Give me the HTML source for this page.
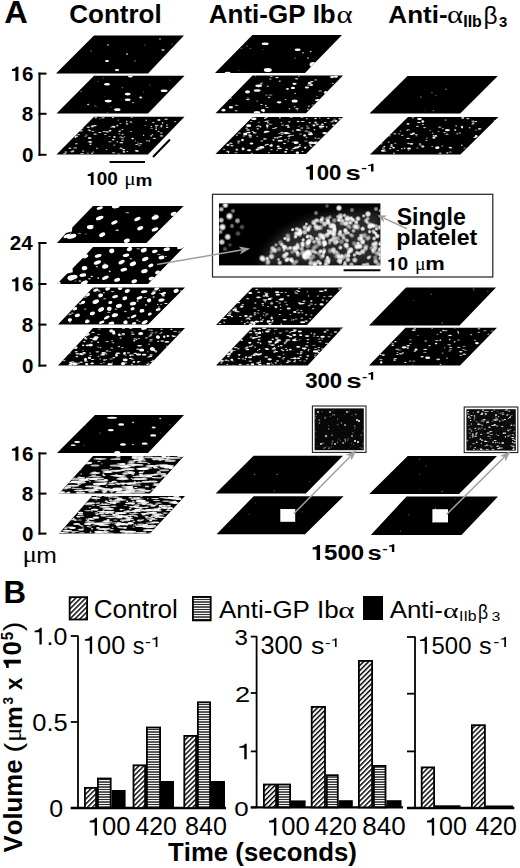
<!DOCTYPE html>
<html><head><meta charset="utf-8"><style>
html,body{margin:0;padding:0;background:#fff;}
body{width:520px;height:868px;overflow:hidden;}
svg{display:block;}
text{font-kerning:none;white-space:pre;}
</style></head><body>
<svg width="520" height="868" viewBox="0 0 520 868">
<defs><clipPath id="c1"><polygon points="94.0,35.4 184.0,35.4 148.0,73.5 56.0,73.5"/></clipPath><clipPath id="c2"><polygon points="94.0,75.8 184.5,75.8 148.0,113.6 56.5,113.6"/></clipPath><clipPath id="c3"><polygon points="94.0,116.8 184.5,116.8 148.0,154.4 56.5,154.4"/></clipPath><clipPath id="c4"><polygon points="252.4,35.0 342.0,35.0 305.0,73.0 215.0,73.0"/></clipPath><clipPath id="c5"><polygon points="252.5,75.6 343.0,75.6 306.0,113.2 215.5,113.2"/></clipPath><clipPath id="c6"><polygon points="252.5,117.0 343.0,117.0 306.0,154.0 215.5,154.0"/></clipPath><clipPath id="c7"><polygon points="407.5,76.0 497.8,76.0 460.2,113.6 369.5,113.6"/></clipPath><clipPath id="c8"><polygon points="408.0,117.0 498.4,117.0 460.4,154.4 370.0,154.4"/></clipPath><clipPath id="c9"><polygon points="93.0,206.0 183.6,206.0 146.4,243.0 57.0,243.0"/></clipPath><clipPath id="c10"><polygon points="93.0,247.0 184.0,247.0 148.0,284.0 57.0,284.0"/></clipPath><clipPath id="c11"><polygon points="93.0,287.5 185.0,287.5 148.0,324.4 58.0,324.4"/></clipPath><clipPath id="c12"><polygon points="93.0,328.0 185.0,328.0 149.0,365.6 58.0,365.6"/></clipPath><clipPath id="c13"><polygon points="252.5,287.4 342.5,287.4 307.0,325.0 216.0,325.0"/></clipPath><clipPath id="c14"><polygon points="252.4,327.6 343.0,327.6 307.7,365.5 216.0,365.5"/></clipPath><clipPath id="c15"><polygon points="406.0,287.5 496.0,287.5 459.5,325.4 369.0,325.4"/></clipPath><clipPath id="c16"><polygon points="405.5,327.8 497.0,327.8 460.0,365.4 369.0,365.4"/></clipPath><clipPath id="c17"><polygon points="95.0,415.0 184.0,415.0 148.0,453.0 57.0,453.0"/></clipPath><clipPath id="c18"><polygon points="93.0,456.0 184.0,456.0 150.0,493.5 59.0,493.5"/></clipPath><clipPath id="c19"><polygon points="92.0,496.0 185.0,496.0 150.0,533.6 59.0,533.6"/></clipPath><clipPath id="c20"><polygon points="253.6,455.8 343.0,455.8 305.8,493.6 215.6,493.6"/></clipPath><clipPath id="c21"><polygon points="253.6,496.2 343.6,496.2 305.0,534.3 216.6,534.3"/></clipPath><clipPath id="c22"><polygon points="407.7,456.0 497.0,456.0 459.0,494.0 369.3,494.0"/></clipPath><clipPath id="c23"><polygon points="406.5,496.6 498.0,496.6 461.5,535.0 370.8,535.0"/></clipPath><radialGradient id="glow"><stop offset="0" stop-color="#fff" stop-opacity="1"/><stop offset="0.45" stop-color="#fff" stop-opacity="0.85"/><stop offset="1" stop-color="#fff" stop-opacity="0"/></radialGradient><filter id="blur3" x="-20%" y="-20%" width="140%" height="140%"><feGaussianBlur stdDeviation="4"/></filter><clipPath id="ins1"><rect x="219" y="203.4" width="161.4" height="62"/></clipPath><clipPath id="ins2"><rect x="314.6" y="408.4" width="49.2" height="41.8"/><rect x="466.4" y="409.2" width="49.4" height="41.6"/></clipPath><pattern id="hatch" patternUnits="userSpaceOnUse" width="3.55" height="10" patternTransform="rotate(45)"><rect width="3.55" height="10" fill="#fff"/><rect x="0" y="0" width="1.45" height="10" fill="#000"/></pattern><pattern id="hstripe" patternUnits="userSpaceOnUse" width="10" height="5"><rect width="10" height="5" fill="#222"/><rect y="0" width="10" height="1.3" fill="#f2f2f2"/><rect y="2.75" width="10" height="1.3" fill="#f2f2f2"/></pattern></defs>
<rect width="520" height="868" fill="#fff"/>
<polygon points="94.0,35.4 184.0,35.4 148.0,73.5 56.0,73.5" fill="#000" />
<g clip-path="url(#c1)" fill="#fff"><ellipse cx="108" cy="45" rx="1" ry="0.8" fill-opacity="0.8"/><ellipse cx="127" cy="54" rx="1.2" ry="0.8" fill-opacity="0.8"/><ellipse cx="107" cy="61" rx="2" ry="0.9" fill-opacity="1"/><ellipse cx="117" cy="70" rx="2.2" ry="1" fill-opacity="1"/><ellipse cx="91" cy="51" rx="1" ry="0.7" fill-opacity="0.4"/><ellipse cx="160" cy="39" rx="1" ry="0.7" fill-opacity="0.7"/><ellipse cx="163" cy="50" rx="1.8" ry="0.8" fill-opacity="0.9"/><ellipse cx="135" cy="61" rx="1" ry="0.7" fill-opacity="0.4"/><ellipse cx="145" cy="45" rx="0.8" ry="0.6" fill-opacity="0.4"/><ellipse cx="172" cy="44" rx="0.8" ry="0.6" fill-opacity="0.5"/></g>
<polygon points="94.0,75.8 184.5,75.8 148.0,113.6 56.5,113.6" fill="#000" />
<g clip-path="url(#c2)" fill="#fff"><ellipse cx="130.3" cy="76.3" rx="2.5" ry="1.1" fill-opacity="1"/><ellipse cx="107" cy="84.2" rx="3" ry="1.3" fill-opacity="1"/><ellipse cx="164.1" cy="90.7" rx="3.5" ry="1.3" fill-opacity="1"/><ellipse cx="127.7" cy="94.1" rx="3" ry="1.3" fill-opacity="1"/><ellipse cx="127.7" cy="99.8" rx="3" ry="1.3" fill-opacity="1"/><ellipse cx="108.2" cy="101.1" rx="3.5" ry="1.3" fill-opacity="1"/><ellipse cx="140.7" cy="97.5" rx="1.5" ry="1" fill-opacity="0.9"/><ellipse cx="117.3" cy="109.7" rx="3.2" ry="1.4" fill-opacity="1"/><ellipse cx="88.2" cy="104.5" rx="1.2" ry="0.8" fill-opacity="0.8"/><ellipse cx="133" cy="102.6" rx="1" ry="0.7" fill-opacity="0.8"/><ellipse cx="81" cy="91.5" rx="0.8" ry="0.6" fill-opacity="0.6"/><ellipse cx="122.5" cy="87.6" rx="0.8" ry="0.6" fill-opacity="0.5"/><ellipse cx="150" cy="85" rx="0.8" ry="0.6" fill-opacity="0.4"/><ellipse cx="170" cy="80" rx="0.8" ry="0.6" fill-opacity="0.4"/><ellipse cx="98.0" cy="81.5" rx="0.8" ry="0.4" fill-opacity="0.46"/><ellipse cx="103.3" cy="78.0" rx="0.8" ry="0.4" fill-opacity="0.43"/><ellipse cx="110.8" cy="107.1" rx="0.6" ry="0.5" fill-opacity="0.49"/><ellipse cx="107.3" cy="112.7" rx="0.5" ry="0.7" fill-opacity="0.39"/><ellipse cx="96.0" cy="106.6" rx="0.6" ry="0.6" fill-opacity="0.49"/><ellipse cx="104.2" cy="96.5" rx="0.5" ry="0.4" fill-opacity="0.36"/><ellipse cx="143.6" cy="92.0" rx="0.7" ry="0.6" fill-opacity="0.44"/><ellipse cx="94.9" cy="105.8" rx="0.8" ry="0.5" fill-opacity="0.47"/></g>
<polygon points="94.0,116.8 184.5,116.8 148.0,154.4 56.5,154.4" fill="#000" />
<g clip-path="url(#c3)" fill="#fff"><ellipse cx="123.7" cy="149.7" rx="1.6" ry="0.6" fill-opacity="0.99"/><ellipse cx="153.4" cy="122.5" rx="1.3" ry="0.5" fill-opacity="0.87"/><ellipse cx="154.4" cy="138.3" rx="1.8" ry="0.6" fill-opacity="0.88"/><ellipse cx="132.6" cy="138.6" rx="1.3" ry="0.8" fill-opacity="0.98"/><ellipse cx="117.2" cy="141.8" rx="0.8" ry="0.8" fill-opacity="0.86"/><ellipse cx="92.9" cy="131.3" rx="1.6" ry="0.5" fill-opacity="0.78"/><ellipse cx="106.5" cy="149.6" rx="0.8" ry="0.7" fill-opacity="0.82"/><ellipse cx="167.1" cy="127.3" rx="1.2" ry="0.6" fill-opacity="0.95"/><ellipse cx="86.4" cy="135.0" rx="1.5" ry="0.6" fill-opacity="0.60"/><ellipse cx="110.1" cy="130.7" rx="1.4" ry="0.9" fill-opacity="0.88"/><ellipse cx="122.5" cy="140.0" rx="1.6" ry="0.5" fill-opacity="0.96"/><ellipse cx="158.6" cy="131.6" rx="1.2" ry="0.5" fill-opacity="0.85"/><ellipse cx="100.0" cy="118.8" rx="0.7" ry="0.5" fill-opacity="0.64"/><ellipse cx="103.0" cy="117.8" rx="1.8" ry="0.7" fill-opacity="0.66"/><ellipse cx="88.8" cy="129.9" rx="1.2" ry="0.5" fill-opacity="0.94"/><ellipse cx="118.4" cy="120.0" rx="0.8" ry="0.6" fill-opacity="0.71"/><ellipse cx="162.6" cy="122.9" rx="0.7" ry="0.9" fill-opacity="0.81"/><ellipse cx="75.3" cy="137.2" rx="0.7" ry="0.7" fill-opacity="0.99"/><ellipse cx="89.9" cy="130.6" rx="0.9" ry="0.8" fill-opacity="0.81"/><ellipse cx="156.2" cy="129.2" rx="1.0" ry="0.8" fill-opacity="0.99"/><ellipse cx="85.5" cy="136.3" rx="1.2" ry="0.5" fill-opacity="0.61"/><ellipse cx="92.3" cy="126.5" rx="1.6" ry="0.9" fill-opacity="0.78"/><ellipse cx="136.4" cy="150.7" rx="1.8" ry="0.7" fill-opacity="0.86"/><ellipse cx="158.9" cy="120.0" rx="1.6" ry="0.9" fill-opacity="0.91"/><ellipse cx="152.5" cy="134.8" rx="0.9" ry="0.8" fill-opacity="0.73"/><ellipse cx="107.2" cy="131.9" rx="1.9" ry="0.8" fill-opacity="0.67"/><ellipse cx="75.2" cy="147.9" rx="2.0" ry="0.7" fill-opacity="0.74"/><ellipse cx="126.7" cy="121.7" rx="0.7" ry="0.9" fill-opacity="0.86"/><ellipse cx="123.9" cy="151.9" rx="1.3" ry="0.8" fill-opacity="0.93"/><ellipse cx="94.0" cy="125.8" rx="1.5" ry="0.6" fill-opacity="0.77"/><ellipse cx="73.3" cy="151.0" rx="1.2" ry="0.7" fill-opacity="0.83"/><ellipse cx="124.6" cy="136.5" rx="0.7" ry="0.6" fill-opacity="0.67"/><ellipse cx="78.6" cy="134.6" rx="1.6" ry="0.7" fill-opacity="0.73"/><ellipse cx="122.8" cy="137.7" rx="1.7" ry="0.5" fill-opacity="0.82"/><ellipse cx="88.3" cy="127.2" rx="1.7" ry="0.7" fill-opacity="0.82"/><ellipse cx="113.2" cy="139.8" rx="1.4" ry="0.7" fill-opacity="0.88"/><ellipse cx="114.4" cy="136.9" rx="1.3" ry="0.9" fill-opacity="0.88"/><ellipse cx="89.7" cy="137.8" rx="1.9" ry="0.8" fill-opacity="0.65"/><ellipse cx="76.3" cy="143.7" rx="1.6" ry="0.5" fill-opacity="0.95"/><ellipse cx="118.9" cy="154.0" rx="1.8" ry="0.5" fill-opacity="0.77"/><ellipse cx="122.5" cy="129.6" rx="1.0" ry="0.6" fill-opacity="0.89"/><ellipse cx="112.9" cy="117.5" rx="1.1" ry="0.7" fill-opacity="0.80"/><ellipse cx="64.7" cy="153.8" rx="1.7" ry="0.9" fill-opacity="0.64"/><ellipse cx="156.2" cy="127.0" rx="0.9" ry="0.6" fill-opacity="0.96"/><ellipse cx="161.3" cy="126.5" rx="0.9" ry="0.9" fill-opacity="0.83"/><ellipse cx="146.2" cy="120.2" rx="0.8" ry="0.8" fill-opacity="0.77"/><ellipse cx="65.8" cy="152.1" rx="1.5" ry="0.8" fill-opacity="0.63"/><ellipse cx="166.1" cy="119.3" rx="1.8" ry="0.7" fill-opacity="0.74"/><ellipse cx="127.3" cy="151.6" rx="1.0" ry="0.5" fill-opacity="0.81"/><ellipse cx="82.3" cy="128.5" rx="1.1" ry="0.8" fill-opacity="0.72"/><ellipse cx="120.5" cy="123.5" rx="1.2" ry="0.5" fill-opacity="0.70"/><ellipse cx="127.0" cy="123.9" rx="1.3" ry="0.9" fill-opacity="0.64"/><ellipse cx="161.3" cy="133.0" rx="1.3" ry="0.8" fill-opacity="0.76"/><ellipse cx="121.4" cy="142.7" rx="2.0" ry="0.6" fill-opacity="0.93"/><ellipse cx="147.0" cy="140.7" rx="1.2" ry="0.6" fill-opacity="0.62"/><ellipse cx="151.3" cy="126.4" rx="0.9" ry="0.5" fill-opacity="0.94"/><ellipse cx="92.6" cy="125.9" rx="1.1" ry="0.7" fill-opacity="0.66"/><ellipse cx="113.6" cy="126.7" rx="2.0" ry="0.9" fill-opacity="0.82"/><ellipse cx="87.8" cy="153.1" rx="1.1" ry="0.6" fill-opacity="0.60"/><ellipse cx="105.3" cy="134.6" rx="1.4" ry="0.5" fill-opacity="0.80"/><ellipse cx="95.4" cy="125.6" rx="1.5" ry="0.7" fill-opacity="0.90"/><ellipse cx="140.7" cy="143.7" rx="1.8" ry="0.6" fill-opacity="0.73"/><ellipse cx="149.2" cy="141.0" rx="0.8" ry="0.8" fill-opacity="0.96"/><ellipse cx="136.8" cy="144.4" rx="1.8" ry="0.5" fill-opacity="0.81"/><ellipse cx="121.1" cy="148.2" rx="1.7" ry="0.8" fill-opacity="0.83"/><ellipse cx="145.2" cy="125.4" rx="0.7" ry="0.5" fill-opacity="0.74"/><ellipse cx="69.9" cy="148.2" rx="1.4" ry="0.7" fill-opacity="0.85"/><ellipse cx="143.6" cy="135.2" rx="0.7" ry="0.8" fill-opacity="0.90"/><ellipse cx="120.9" cy="136.9" rx="1.6" ry="0.5" fill-opacity="0.89"/><ellipse cx="90.5" cy="144.2" rx="1.0" ry="0.8" fill-opacity="0.99"/><ellipse cx="119.7" cy="131.2" rx="1.3" ry="0.8" fill-opacity="0.91"/><ellipse cx="135.5" cy="141.0" rx="0.8" ry="0.5" fill-opacity="0.70"/><ellipse cx="151.6" cy="128.2" rx="1.4" ry="0.5" fill-opacity="0.62"/><ellipse cx="90.9" cy="142.1" rx="1.6" ry="0.8" fill-opacity="0.72"/><ellipse cx="122.6" cy="134.3" rx="1.3" ry="0.5" fill-opacity="0.96"/><ellipse cx="82.0" cy="153.6" rx="1.9" ry="0.5" fill-opacity="0.78"/><ellipse cx="114.0" cy="126.9" rx="1.0" ry="0.9" fill-opacity="0.68"/><ellipse cx="130.9" cy="122.1" rx="1.4" ry="0.9" fill-opacity="0.65"/><ellipse cx="161.5" cy="135.9" rx="1.9" ry="0.8" fill-opacity="0.69"/><ellipse cx="119.4" cy="133.7" rx="1.1" ry="0.5" fill-opacity="0.74"/><ellipse cx="97.0" cy="148.4" rx="0.7" ry="0.8" fill-opacity="0.94"/><ellipse cx="71.9" cy="151.6" rx="1.6" ry="0.9" fill-opacity="0.72"/><ellipse cx="104.1" cy="131.6" rx="2.0" ry="0.7" fill-opacity="0.74"/><ellipse cx="111.3" cy="127.1" rx="0.8" ry="0.5" fill-opacity="0.93"/><ellipse cx="93.1" cy="152.0" rx="1.0" ry="0.6" fill-opacity="0.80"/><ellipse cx="80.8" cy="130.8" rx="1.9" ry="0.8" fill-opacity="0.92"/><ellipse cx="137.3" cy="151.1" rx="1.9" ry="0.7" fill-opacity="0.89"/><ellipse cx="114.2" cy="145.1" rx="1.5" ry="0.6" fill-opacity="0.62"/><ellipse cx="175.1" cy="121.6" rx="1.3" ry="0.6" fill-opacity="0.72"/><ellipse cx="89.8" cy="141.5" rx="1.1" ry="0.7" fill-opacity="0.76"/><ellipse cx="83.1" cy="150.9" rx="1.3" ry="0.5" fill-opacity="0.96"/><ellipse cx="89.6" cy="138.2" rx="1.9" ry="0.8" fill-opacity="0.77"/><ellipse cx="109.5" cy="136.5" rx="1.2" ry="0.6" fill-opacity="0.62"/><ellipse cx="92.0" cy="153.2" rx="0.9" ry="0.7" fill-opacity="0.85"/><ellipse cx="166.9" cy="124.9" rx="1.1" ry="0.6" fill-opacity="0.76"/><ellipse cx="113.6" cy="152.7" rx="1.8" ry="0.8" fill-opacity="0.61"/><ellipse cx="131.7" cy="116.8" rx="1.2" ry="0.9" fill-opacity="0.93"/><ellipse cx="76.3" cy="136.4" rx="1.6" ry="0.9" fill-opacity="0.89"/><ellipse cx="139.4" cy="145.6" rx="1.3" ry="0.7" fill-opacity="0.62"/><ellipse cx="156.6" cy="125.5" rx="1.9" ry="0.7" fill-opacity="0.72"/><ellipse cx="137.9" cy="143.1" rx="0.8" ry="0.5" fill-opacity="0.81"/><ellipse cx="131.1" cy="131.4" rx="1.0" ry="0.7" fill-opacity="0.60"/><ellipse cx="95.1" cy="134.1" rx="1.9" ry="0.7" fill-opacity="0.95"/><ellipse cx="117.3" cy="125.6" rx="1.0" ry="0.9" fill-opacity="0.88"/><ellipse cx="95.8" cy="117.6" rx="1.3" ry="0.8" fill-opacity="0.77"/><ellipse cx="89.4" cy="141.9" rx="1.9" ry="0.6" fill-opacity="0.61"/><ellipse cx="99.8" cy="132.6" rx="1.6" ry="0.5" fill-opacity="0.92"/><ellipse cx="151.1" cy="135.8" rx="1.0" ry="0.9" fill-opacity="0.72"/><ellipse cx="161.5" cy="125.5" rx="1.0" ry="0.8" fill-opacity="0.72"/><ellipse cx="109.9" cy="141.8" rx="1.9" ry="0.5" fill-opacity="0.76"/></g>
<polygon points="252.4,35.0 342.0,35.0 305.0,73.0 215.0,73.0" fill="#000" />
<g clip-path="url(#c4)" fill="#fff"><ellipse cx="265.2" cy="43.7" rx="3.5" ry="1.3" fill-opacity="1"/><ellipse cx="297.7" cy="49.7" rx="3" ry="1.2" fill-opacity="1"/><ellipse cx="267.8" cy="70" rx="4" ry="2" fill-opacity="1"/><ellipse cx="303" cy="52.8" rx="0.9" ry="0.7" fill-opacity="0.8"/><ellipse cx="310.7" cy="51.5" rx="0.9" ry="0.7" fill-opacity="0.8"/><ellipse cx="308" cy="58" rx="0.9" ry="0.7" fill-opacity="0.8"/><ellipse cx="295" cy="58" rx="0.8" ry="0.6" fill-opacity="0.6"/><ellipse cx="247" cy="46" rx="0.8" ry="0.6" fill-opacity="0.6"/><ellipse cx="227.6" cy="73" rx="3" ry="1.2" fill-opacity="1"/><ellipse cx="313" cy="64.5" rx="3.5" ry="2.5" fill-opacity="1"/><ellipse cx="242.0" cy="72.0" rx="0.6" ry="0.4" fill-opacity="0.32"/><ellipse cx="265.0" cy="69.1" rx="0.9" ry="0.6" fill-opacity="0.60"/><ellipse cx="238.6" cy="70.6" rx="0.9" ry="0.4" fill-opacity="0.50"/><ellipse cx="263.1" cy="49.2" rx="0.7" ry="0.5" fill-opacity="0.30"/><ellipse cx="250.5" cy="48.4" rx="1.0" ry="0.4" fill-opacity="0.59"/><ellipse cx="241.3" cy="48.6" rx="0.9" ry="0.6" fill-opacity="0.43"/></g>
<polygon points="252.5,75.6 343.0,75.6 306.0,113.2 215.5,113.2" fill="#000" />
<g clip-path="url(#c5)" fill="#fff"><ellipse cx="263.0" cy="110.2" rx="1.9" ry="1.2" fill-opacity="0.99"/><ellipse cx="223.5" cy="110.2" rx="2.0" ry="1.4" fill-opacity="0.99"/><ellipse cx="258.7" cy="85.8" rx="3.4" ry="1.4" fill-opacity="0.96"/><ellipse cx="306.9" cy="87.5" rx="2.1" ry="1.0" fill-opacity="0.99"/><ellipse cx="335.8" cy="76.5" rx="2.0" ry="1.3" fill-opacity="1.00"/><ellipse cx="247.5" cy="91.8" rx="2.5" ry="1.6" fill-opacity="0.96"/><ellipse cx="292.9" cy="87.9" rx="2.1" ry="1.2" fill-opacity="0.99"/><ellipse cx="311.5" cy="84.9" rx="1.6" ry="1.0" fill-opacity="0.98"/><ellipse cx="257.0" cy="112.5" rx="3.3" ry="1.6" fill-opacity="0.96"/><ellipse cx="279.1" cy="102.3" rx="2.4" ry="1.1" fill-opacity="0.97"/><ellipse cx="294.6" cy="100.9" rx="3.0" ry="1.5" fill-opacity="0.98"/><ellipse cx="230.9" cy="107.2" rx="2.1" ry="1.3" fill-opacity="0.97"/><ellipse cx="309.6" cy="83.1" rx="2.0" ry="1.1" fill-opacity="0.96"/><ellipse cx="257.1" cy="90.5" rx="3.5" ry="1.3" fill-opacity="0.96"/><ellipse cx="318.6" cy="100.2" rx="3.5" ry="1.1" fill-opacity="0.97"/><ellipse cx="332.1" cy="77.1" rx="2.1" ry="1.1" fill-opacity="0.96"/><ellipse cx="325.9" cy="92.5" rx="2.0" ry="1.5" fill-opacity="1.00"/><ellipse cx="294.5" cy="83.8" rx="2.2" ry="1.1" fill-opacity="0.96"/><ellipse cx="248.0" cy="98.1" rx="1.5" ry="0.5" fill-opacity="0.60"/><ellipse cx="257.2" cy="101.1" rx="0.9" ry="0.6" fill-opacity="0.68"/><ellipse cx="316.9" cy="96.2" rx="0.8" ry="0.5" fill-opacity="0.76"/><ellipse cx="285.6" cy="99.6" rx="0.8" ry="0.5" fill-opacity="0.88"/><ellipse cx="267.7" cy="86.3" rx="1.1" ry="0.8" fill-opacity="0.72"/><ellipse cx="287.7" cy="89.0" rx="1.2" ry="0.8" fill-opacity="1.00"/><ellipse cx="261.9" cy="83.0" rx="1.6" ry="0.5" fill-opacity="0.60"/><ellipse cx="320.1" cy="90.9" rx="1.8" ry="0.6" fill-opacity="0.67"/><ellipse cx="297.2" cy="109.8" rx="0.8" ry="0.7" fill-opacity="0.75"/><ellipse cx="279.8" cy="81.1" rx="1.1" ry="0.7" fill-opacity="0.97"/><ellipse cx="277.0" cy="77.6" rx="1.9" ry="0.6" fill-opacity="0.96"/><ellipse cx="294.6" cy="106.6" rx="0.9" ry="0.8" fill-opacity="0.69"/><ellipse cx="267.1" cy="107.4" rx="1.8" ry="0.5" fill-opacity="0.69"/><ellipse cx="266.5" cy="95.1" rx="1.2" ry="0.5" fill-opacity="0.70"/><ellipse cx="307.9" cy="109.3" rx="0.8" ry="0.7" fill-opacity="0.90"/><ellipse cx="230.5" cy="98.1" rx="1.4" ry="0.7" fill-opacity="0.72"/><ellipse cx="269.1" cy="97.5" rx="1.3" ry="0.7" fill-opacity="0.78"/><ellipse cx="271.4" cy="76.5" rx="1.5" ry="0.6" fill-opacity="0.69"/><ellipse cx="312.9" cy="104.9" rx="1.3" ry="0.5" fill-opacity="0.79"/><ellipse cx="270.4" cy="79.0" rx="1.3" ry="0.7" fill-opacity="0.62"/><ellipse cx="296.6" cy="78.7" rx="1.7" ry="0.8" fill-opacity="0.80"/><ellipse cx="263.7" cy="111.4" rx="0.9" ry="0.8" fill-opacity="1.00"/><ellipse cx="308.8" cy="106.2" rx="1.0" ry="0.8" fill-opacity="0.80"/><ellipse cx="236.6" cy="105.2" rx="1.9" ry="0.5" fill-opacity="0.74"/><ellipse cx="311.9" cy="81.6" rx="1.9" ry="0.6" fill-opacity="0.93"/><ellipse cx="332.8" cy="83.4" rx="1.0" ry="0.7" fill-opacity="0.73"/><ellipse cx="236.1" cy="110.8" rx="1.6" ry="0.8" fill-opacity="0.67"/><ellipse cx="315.6" cy="79.9" rx="1.4" ry="0.7" fill-opacity="0.74"/><ellipse cx="289.5" cy="108.8" rx="0.8" ry="0.8" fill-opacity="0.85"/><ellipse cx="265.8" cy="105.6" rx="1.0" ry="0.8" fill-opacity="0.83"/><ellipse cx="261.4" cy="104.4" rx="1.3" ry="0.5" fill-opacity="0.90"/><ellipse cx="247.8" cy="99.6" rx="2.0" ry="0.7" fill-opacity="0.87"/><ellipse cx="255.4" cy="75.7" rx="0.7" ry="0.5" fill-opacity="0.85"/><ellipse cx="270.6" cy="94.9" rx="1.9" ry="0.5" fill-opacity="0.69"/><ellipse cx="298.8" cy="76.4" rx="0.7" ry="0.6" fill-opacity="0.64"/><ellipse cx="261.0" cy="84.0" rx="1.5" ry="0.7" fill-opacity="0.68"/><ellipse cx="295.1" cy="93.5" rx="0.9" ry="0.8" fill-opacity="0.70"/><ellipse cx="296.9" cy="108.4" rx="1.7" ry="0.6" fill-opacity="0.71"/><ellipse cx="287.2" cy="88.8" rx="1.5" ry="0.6" fill-opacity="0.97"/><ellipse cx="309.0" cy="84.9" rx="1.9" ry="0.5" fill-opacity="0.81"/></g>
<polygon points="252.5,117.0 343.0,117.0 306.0,154.0 215.5,154.0" fill="#000" />
<g clip-path="url(#c6)" fill="#fff"><ellipse cx="267.3" cy="125.8" rx="1.3" ry="1.3" fill-opacity="0.95"/><ellipse cx="285.7" cy="151.8" rx="1.5" ry="0.9" fill-opacity="0.98"/><ellipse cx="280.1" cy="140.7" rx="2.7" ry="0.9" fill-opacity="0.97"/><ellipse cx="253.8" cy="118.8" rx="2.8" ry="1.3" fill-opacity="0.99"/><ellipse cx="310.5" cy="134.2" rx="2.5" ry="1.1" fill-opacity="0.96"/><ellipse cx="311.1" cy="142.7" rx="2.7" ry="1.2" fill-opacity="0.96"/><ellipse cx="286.1" cy="133.1" rx="2.6" ry="1.1" fill-opacity="0.96"/><ellipse cx="297.4" cy="152.7" rx="1.6" ry="1.3" fill-opacity="0.95"/><ellipse cx="248.7" cy="125.7" rx="2.5" ry="1.4" fill-opacity="0.99"/><ellipse cx="257.2" cy="149.6" rx="1.8" ry="0.9" fill-opacity="1.00"/><ellipse cx="295.9" cy="142.6" rx="2.4" ry="1.4" fill-opacity="0.97"/><ellipse cx="324.8" cy="133.2" rx="2.5" ry="1.1" fill-opacity="0.97"/><ellipse cx="242.5" cy="140.0" rx="1.3" ry="1.3" fill-opacity="0.96"/><ellipse cx="296.3" cy="142.8" rx="2.5" ry="0.8" fill-opacity="0.98"/><ellipse cx="261.8" cy="147.2" rx="2.7" ry="1.3" fill-opacity="0.95"/><ellipse cx="335.9" cy="121.0" rx="1.6" ry="0.9" fill-opacity="0.95"/><ellipse cx="296.4" cy="147.5" rx="2.3" ry="1.0" fill-opacity="0.95"/><ellipse cx="228.0" cy="145.0" rx="1.6" ry="1.0" fill-opacity="0.97"/><ellipse cx="251.5" cy="143.5" rx="1.9" ry="1.0" fill-opacity="1.00"/><ellipse cx="279.7" cy="148.5" rx="2.3" ry="0.8" fill-opacity="0.97"/><ellipse cx="271.1" cy="145.6" rx="1.8" ry="1.2" fill-opacity="0.98"/><ellipse cx="243.1" cy="148.9" rx="1.4" ry="1.3" fill-opacity="0.96"/><ellipse cx="278.2" cy="146.5" rx="1.5" ry="1.1" fill-opacity="0.97"/><ellipse cx="321.6" cy="126.6" rx="2.9" ry="1.0" fill-opacity="0.96"/><ellipse cx="304.7" cy="135.4" rx="1.4" ry="1.2" fill-opacity="0.95"/><ellipse cx="316.0" cy="142.8" rx="2.6" ry="1.2" fill-opacity="0.97"/><ellipse cx="266.7" cy="131.6" rx="2.8" ry="0.9" fill-opacity="0.99"/><ellipse cx="249.1" cy="150.3" rx="2.1" ry="1.0" fill-opacity="0.99"/><ellipse cx="245.3" cy="134.1" rx="2.2" ry="1.3" fill-opacity="0.99"/><ellipse cx="297.9" cy="129.9" rx="1.8" ry="0.9" fill-opacity="0.99"/><ellipse cx="299.9" cy="144.5" rx="0.9" ry="0.6" fill-opacity="0.91"/><ellipse cx="289.3" cy="121.7" rx="1.3" ry="0.8" fill-opacity="0.70"/><ellipse cx="305.2" cy="148.2" rx="0.9" ry="0.5" fill-opacity="0.70"/><ellipse cx="257.1" cy="136.3" rx="0.9" ry="0.6" fill-opacity="0.68"/><ellipse cx="228.5" cy="152.6" rx="0.8" ry="0.6" fill-opacity="0.99"/><ellipse cx="271.0" cy="124.3" rx="1.5" ry="0.5" fill-opacity="0.68"/><ellipse cx="265.0" cy="118.3" rx="1.2" ry="0.8" fill-opacity="0.88"/><ellipse cx="279.3" cy="140.4" rx="1.3" ry="0.5" fill-opacity="0.84"/><ellipse cx="267.1" cy="144.4" rx="1.9" ry="0.6" fill-opacity="0.83"/><ellipse cx="311.0" cy="132.6" rx="1.0" ry="0.7" fill-opacity="0.95"/><ellipse cx="314.2" cy="142.9" rx="1.8" ry="0.7" fill-opacity="0.86"/><ellipse cx="273.4" cy="128.6" rx="1.5" ry="0.5" fill-opacity="0.77"/><ellipse cx="315.3" cy="143.4" rx="1.5" ry="0.6" fill-opacity="0.77"/><ellipse cx="273.5" cy="140.0" rx="1.2" ry="0.7" fill-opacity="0.97"/><ellipse cx="238.8" cy="141.2" rx="1.7" ry="0.6" fill-opacity="0.80"/><ellipse cx="339.8" cy="118.4" rx="1.4" ry="0.5" fill-opacity="0.91"/><ellipse cx="284.5" cy="143.5" rx="1.4" ry="0.7" fill-opacity="0.93"/><ellipse cx="282.0" cy="132.2" rx="1.9" ry="0.5" fill-opacity="0.87"/><ellipse cx="265.5" cy="145.2" rx="0.9" ry="0.8" fill-opacity="0.74"/><ellipse cx="266.5" cy="117.5" rx="1.2" ry="0.6" fill-opacity="0.88"/><ellipse cx="260.4" cy="126.8" rx="1.0" ry="0.7" fill-opacity="0.98"/><ellipse cx="282.7" cy="125.1" rx="1.7" ry="0.6" fill-opacity="0.68"/><ellipse cx="232.0" cy="145.7" rx="1.8" ry="0.7" fill-opacity="0.79"/><ellipse cx="287.2" cy="125.4" rx="2.0" ry="0.6" fill-opacity="0.86"/><ellipse cx="275.2" cy="127.9" rx="1.4" ry="0.5" fill-opacity="0.93"/><ellipse cx="260.7" cy="148.5" rx="1.0" ry="0.6" fill-opacity="0.70"/><ellipse cx="269.8" cy="123.9" rx="0.7" ry="0.7" fill-opacity="0.71"/><ellipse cx="246.7" cy="128.2" rx="1.3" ry="0.6" fill-opacity="0.85"/><ellipse cx="299.6" cy="130.4" rx="1.9" ry="0.8" fill-opacity="0.62"/><ellipse cx="315.5" cy="122.2" rx="1.8" ry="0.7" fill-opacity="0.61"/><ellipse cx="299.1" cy="126.3" rx="0.8" ry="0.5" fill-opacity="0.69"/><ellipse cx="314.5" cy="129.8" rx="0.9" ry="0.8" fill-opacity="0.92"/><ellipse cx="236.9" cy="150.0" rx="1.5" ry="0.8" fill-opacity="0.87"/><ellipse cx="322.4" cy="124.3" rx="1.6" ry="0.7" fill-opacity="0.90"/><ellipse cx="271.4" cy="149.7" rx="1.4" ry="0.6" fill-opacity="0.69"/><ellipse cx="279.0" cy="137.0" rx="1.8" ry="0.5" fill-opacity="0.94"/><ellipse cx="275.2" cy="137.8" rx="1.6" ry="0.8" fill-opacity="0.75"/><ellipse cx="268.9" cy="152.5" rx="0.8" ry="0.7" fill-opacity="0.85"/><ellipse cx="302.5" cy="151.5" rx="1.1" ry="0.8" fill-opacity="0.80"/><ellipse cx="277.3" cy="150.2" rx="0.7" ry="0.7" fill-opacity="0.85"/><ellipse cx="258.7" cy="148.9" rx="1.2" ry="0.6" fill-opacity="0.81"/><ellipse cx="313.7" cy="124.8" rx="1.3" ry="0.6" fill-opacity="0.82"/><ellipse cx="320.9" cy="127.8" rx="1.8" ry="0.6" fill-opacity="0.80"/><ellipse cx="250.1" cy="135.7" rx="2.0" ry="0.7" fill-opacity="0.92"/><ellipse cx="257.7" cy="128.7" rx="1.1" ry="0.7" fill-opacity="0.85"/><ellipse cx="315.5" cy="118.5" rx="1.6" ry="0.8" fill-opacity="0.82"/><ellipse cx="299.4" cy="146.2" rx="1.9" ry="0.7" fill-opacity="0.85"/><ellipse cx="295.4" cy="142.8" rx="1.5" ry="0.7" fill-opacity="0.69"/><ellipse cx="300.5" cy="133.9" rx="1.7" ry="0.5" fill-opacity="0.67"/><ellipse cx="262.5" cy="147.4" rx="1.7" ry="0.7" fill-opacity="0.70"/><ellipse cx="254.0" cy="132.6" rx="1.1" ry="0.6" fill-opacity="0.86"/><ellipse cx="334.6" cy="119.0" rx="1.4" ry="0.5" fill-opacity="0.65"/><ellipse cx="318.8" cy="138.3" rx="1.9" ry="0.6" fill-opacity="0.61"/><ellipse cx="264.9" cy="138.9" rx="1.9" ry="0.8" fill-opacity="0.79"/><ellipse cx="268.1" cy="120.8" rx="1.5" ry="0.5" fill-opacity="0.66"/><ellipse cx="302.7" cy="121.5" rx="2.0" ry="0.5" fill-opacity="0.95"/><ellipse cx="307.2" cy="126.0" rx="1.7" ry="0.5" fill-opacity="0.62"/><ellipse cx="314.2" cy="143.4" rx="1.8" ry="0.7" fill-opacity="0.63"/><ellipse cx="295.6" cy="143.2" rx="1.3" ry="0.8" fill-opacity="0.70"/><ellipse cx="298.5" cy="147.2" rx="0.8" ry="0.6" fill-opacity="0.89"/><ellipse cx="236.7" cy="148.9" rx="1.3" ry="0.5" fill-opacity="0.75"/><ellipse cx="288.8" cy="133.2" rx="1.6" ry="0.5" fill-opacity="0.92"/><ellipse cx="261.8" cy="140.9" rx="1.5" ry="0.6" fill-opacity="0.75"/><ellipse cx="315.5" cy="138.0" rx="1.1" ry="0.5" fill-opacity="0.99"/><ellipse cx="305.2" cy="147.6" rx="1.1" ry="0.7" fill-opacity="0.99"/><ellipse cx="254.8" cy="132.9" rx="1.9" ry="0.6" fill-opacity="0.87"/><ellipse cx="292.2" cy="150.2" rx="1.7" ry="0.6" fill-opacity="0.60"/><ellipse cx="249.0" cy="132.6" rx="1.5" ry="0.8" fill-opacity="0.95"/><ellipse cx="288.4" cy="127.1" rx="1.8" ry="0.8" fill-opacity="0.87"/><ellipse cx="317.2" cy="124.4" rx="1.7" ry="0.8" fill-opacity="0.69"/><ellipse cx="292.9" cy="142.1" rx="1.3" ry="0.5" fill-opacity="0.70"/><ellipse cx="311.3" cy="146.3" rx="1.3" ry="0.5" fill-opacity="0.92"/><ellipse cx="314.0" cy="125.6" rx="1.5" ry="0.8" fill-opacity="0.95"/><ellipse cx="282.0" cy="134.6" rx="1.5" ry="0.5" fill-opacity="0.68"/><ellipse cx="238.5" cy="142.9" rx="1.2" ry="0.7" fill-opacity="0.76"/><ellipse cx="281.4" cy="122.5" rx="0.8" ry="0.8" fill-opacity="0.75"/><ellipse cx="315.9" cy="122.8" rx="1.5" ry="0.6" fill-opacity="0.81"/><ellipse cx="277.5" cy="138.0" rx="1.0" ry="0.8" fill-opacity="0.77"/><ellipse cx="286.6" cy="149.2" rx="1.3" ry="0.8" fill-opacity="0.96"/><ellipse cx="266.2" cy="121.4" rx="1.9" ry="0.6" fill-opacity="0.83"/><ellipse cx="297.2" cy="152.4" rx="1.6" ry="0.6" fill-opacity="0.78"/><ellipse cx="235.9" cy="152.7" rx="2.0" ry="0.5" fill-opacity="0.62"/><ellipse cx="248.1" cy="130.0" rx="1.9" ry="0.8" fill-opacity="0.93"/><ellipse cx="306.0" cy="140.9" rx="2.0" ry="0.5" fill-opacity="0.66"/><ellipse cx="301.8" cy="128.1" rx="1.5" ry="0.8" fill-opacity="0.64"/><ellipse cx="256.8" cy="126.5" rx="0.9" ry="0.6" fill-opacity="0.67"/><ellipse cx="301.9" cy="117.5" rx="1.6" ry="0.5" fill-opacity="0.61"/><ellipse cx="333.8" cy="125.2" rx="1.9" ry="0.8" fill-opacity="0.96"/><ellipse cx="227.9" cy="151.4" rx="1.8" ry="0.7" fill-opacity="0.78"/><ellipse cx="258.8" cy="147.5" rx="1.3" ry="0.7" fill-opacity="0.66"/><ellipse cx="306.5" cy="137.5" rx="0.9" ry="0.8" fill-opacity="0.71"/><ellipse cx="268.0" cy="122.8" rx="1.1" ry="0.8" fill-opacity="0.73"/><ellipse cx="236.9" cy="135.2" rx="1.1" ry="0.8" fill-opacity="0.65"/><ellipse cx="340.3" cy="119.1" rx="1.9" ry="0.7" fill-opacity="0.68"/><ellipse cx="276.4" cy="127.6" rx="1.0" ry="0.5" fill-opacity="0.75"/><ellipse cx="333.4" cy="120.6" rx="1.1" ry="0.8" fill-opacity="0.62"/><ellipse cx="308.1" cy="127.9" rx="2.0" ry="0.5" fill-opacity="0.92"/><ellipse cx="259.0" cy="122.2" rx="0.7" ry="0.8" fill-opacity="0.81"/><ellipse cx="239.2" cy="133.1" rx="1.9" ry="0.5" fill-opacity="0.83"/><ellipse cx="313.7" cy="143.3" rx="1.0" ry="0.5" fill-opacity="0.63"/><ellipse cx="293.1" cy="135.3" rx="1.1" ry="0.5" fill-opacity="0.84"/><ellipse cx="305.7" cy="147.0" rx="1.5" ry="0.5" fill-opacity="0.63"/><ellipse cx="308.9" cy="132.1" rx="1.6" ry="0.5" fill-opacity="0.92"/><ellipse cx="258.2" cy="148.2" rx="1.8" ry="0.6" fill-opacity="0.61"/><ellipse cx="326.7" cy="126.9" rx="0.9" ry="0.8" fill-opacity="0.75"/><ellipse cx="291.3" cy="117.2" rx="1.4" ry="0.6" fill-opacity="0.81"/><ellipse cx="230.9" cy="143.4" rx="1.8" ry="0.8" fill-opacity="0.73"/><ellipse cx="306.2" cy="131.1" rx="1.7" ry="0.5" fill-opacity="0.95"/><ellipse cx="280.9" cy="136.6" rx="1.4" ry="0.5" fill-opacity="0.99"/><ellipse cx="319.7" cy="118.1" rx="0.8" ry="0.7" fill-opacity="0.68"/><ellipse cx="289.0" cy="136.3" rx="1.6" ry="0.5" fill-opacity="0.95"/><ellipse cx="306.9" cy="118.7" rx="0.9" ry="0.6" fill-opacity="0.80"/><ellipse cx="251.2" cy="121.5" rx="1.2" ry="0.5" fill-opacity="0.84"/><ellipse cx="325.3" cy="122.4" rx="1.4" ry="0.7" fill-opacity="0.67"/><ellipse cx="265.1" cy="132.6" rx="1.8" ry="0.7" fill-opacity="0.76"/><ellipse cx="258.7" cy="125.9" rx="1.1" ry="0.6" fill-opacity="0.99"/><ellipse cx="247.3" cy="132.6" rx="1.5" ry="0.6" fill-opacity="0.81"/><ellipse cx="279.9" cy="117.8" rx="0.9" ry="0.8" fill-opacity="0.91"/><ellipse cx="328.3" cy="118.3" rx="1.5" ry="0.6" fill-opacity="0.87"/><ellipse cx="250.4" cy="137.1" rx="1.9" ry="0.7" fill-opacity="0.70"/><ellipse cx="281.8" cy="133.0" rx="1.9" ry="0.6" fill-opacity="0.72"/><ellipse cx="298.1" cy="121.5" rx="1.5" ry="0.8" fill-opacity="0.81"/><ellipse cx="249.7" cy="134.3" rx="1.4" ry="0.5" fill-opacity="0.65"/><ellipse cx="267.3" cy="127.7" rx="1.0" ry="0.5" fill-opacity="0.82"/><ellipse cx="288.2" cy="141.1" rx="1.0" ry="0.7" fill-opacity="0.78"/><ellipse cx="285.4" cy="139.7" rx="1.3" ry="0.6" fill-opacity="0.70"/><ellipse cx="243.8" cy="136.0" rx="1.2" ry="0.7" fill-opacity="0.60"/><ellipse cx="260.5" cy="148.9" rx="1.0" ry="0.7" fill-opacity="0.80"/><ellipse cx="251.8" cy="153.5" rx="1.1" ry="0.8" fill-opacity="0.66"/><ellipse cx="224.0" cy="149.2" rx="1.3" ry="0.5" fill-opacity="0.76"/><ellipse cx="271.6" cy="144.2" rx="0.8" ry="0.5" fill-opacity="0.98"/><ellipse cx="309.7" cy="122.7" rx="1.1" ry="0.6" fill-opacity="0.87"/><ellipse cx="294.1" cy="148.4" rx="1.8" ry="0.7" fill-opacity="0.90"/><ellipse cx="310.3" cy="145.1" rx="1.3" ry="0.8" fill-opacity="0.88"/><ellipse cx="332.1" cy="121.7" rx="1.8" ry="0.5" fill-opacity="0.91"/><ellipse cx="290.2" cy="135.4" rx="2.0" ry="0.7" fill-opacity="0.77"/><ellipse cx="292.9" cy="131.0" rx="1.3" ry="0.6" fill-opacity="0.89"/><ellipse cx="252.8" cy="131.5" rx="1.4" ry="0.6" fill-opacity="0.73"/><ellipse cx="279.2" cy="133.4" rx="0.9" ry="0.6" fill-opacity="0.66"/><ellipse cx="288.9" cy="138.5" rx="0.8" ry="0.8" fill-opacity="0.73"/></g>
<polygon points="407.5,76.0 497.8,76.0 460.2,113.6 369.5,113.6" fill="#000" />
<g clip-path="url(#c7)" fill="#fff"><ellipse cx="424.2" cy="110.2" rx="0.5" ry="0.4" fill-opacity="0.41"/><ellipse cx="433.3" cy="110.6" rx="0.9" ry="0.6" fill-opacity="0.50"/><ellipse cx="435.9" cy="95.4" rx="0.8" ry="0.6" fill-opacity="0.37"/><ellipse cx="445.8" cy="89.2" rx="1.0" ry="0.7" fill-opacity="0.41"/><ellipse cx="420.9" cy="97.1" rx="0.8" ry="0.8" fill-opacity="0.49"/><ellipse cx="431.9" cy="92.6" rx="0.8" ry="0.8" fill-opacity="0.37"/></g>
<polygon points="408.0,117.0 498.4,117.0 460.4,154.4 370.0,154.4" fill="#000" />
<g clip-path="url(#c8)" fill="#fff"><ellipse cx="438.1" cy="147.5" rx="1.4" ry="1.0" fill-opacity="1.00"/><ellipse cx="476.1" cy="136.2" rx="1.3" ry="1.2" fill-opacity="0.98"/><ellipse cx="435.7" cy="135.9" rx="1.4" ry="0.9" fill-opacity="0.98"/><ellipse cx="447.4" cy="130.2" rx="2.5" ry="1.1" fill-opacity="0.95"/><ellipse cx="422.8" cy="146.5" rx="1.6" ry="1.1" fill-opacity="0.95"/><ellipse cx="409.1" cy="148.5" rx="2.0" ry="1.1" fill-opacity="0.96"/><ellipse cx="433.9" cy="137.7" rx="1.5" ry="1.1" fill-opacity="0.98"/><ellipse cx="422.8" cy="121.5" rx="1.4" ry="1.2" fill-opacity="0.96"/><ellipse cx="437.1" cy="147.8" rx="2.0" ry="1.2" fill-opacity="0.95"/><ellipse cx="411.5" cy="143.8" rx="1.7" ry="0.9" fill-opacity="0.96"/><ellipse cx="382.8" cy="150.8" rx="2.0" ry="1.0" fill-opacity="0.97"/><ellipse cx="419.5" cy="119.0" rx="2.4" ry="1.1" fill-opacity="1.00"/><ellipse cx="426.4" cy="140.2" rx="1.0" ry="0.5" fill-opacity="0.97"/><ellipse cx="479.7" cy="128.8" rx="1.9" ry="0.8" fill-opacity="0.72"/><ellipse cx="447.4" cy="152.9" rx="1.3" ry="0.8" fill-opacity="0.70"/><ellipse cx="420.0" cy="143.9" rx="1.0" ry="0.6" fill-opacity="0.95"/><ellipse cx="432.2" cy="146.6" rx="1.0" ry="0.5" fill-opacity="0.74"/><ellipse cx="394.0" cy="153.3" rx="1.1" ry="0.7" fill-opacity="0.65"/><ellipse cx="438.5" cy="131.4" rx="1.2" ry="0.5" fill-opacity="0.65"/><ellipse cx="476.0" cy="130.1" rx="1.0" ry="0.5" fill-opacity="0.71"/><ellipse cx="455.3" cy="129.8" rx="0.9" ry="0.7" fill-opacity="0.64"/><ellipse cx="404.6" cy="148.2" rx="0.9" ry="0.6" fill-opacity="0.93"/><ellipse cx="473.4" cy="123.0" rx="1.2" ry="0.7" fill-opacity="0.75"/><ellipse cx="399.2" cy="133.9" rx="0.9" ry="0.7" fill-opacity="0.70"/><ellipse cx="417.3" cy="126.2" rx="1.5" ry="0.5" fill-opacity="0.95"/><ellipse cx="439.7" cy="127.1" rx="1.7" ry="0.6" fill-opacity="0.86"/><ellipse cx="442.9" cy="128.6" rx="1.2" ry="0.5" fill-opacity="0.67"/><ellipse cx="479.3" cy="129.0" rx="1.6" ry="0.5" fill-opacity="0.82"/><ellipse cx="416.4" cy="135.7" rx="1.1" ry="0.5" fill-opacity="0.72"/><ellipse cx="462.0" cy="127.6" rx="1.2" ry="0.8" fill-opacity="0.91"/><ellipse cx="455.2" cy="130.1" rx="1.2" ry="0.7" fill-opacity="0.88"/><ellipse cx="401.9" cy="148.7" rx="1.2" ry="0.7" fill-opacity="0.67"/><ellipse cx="384.8" cy="151.1" rx="1.7" ry="0.7" fill-opacity="0.62"/><ellipse cx="418.9" cy="118.5" rx="1.1" ry="0.7" fill-opacity="0.67"/><ellipse cx="462.0" cy="126.5" rx="1.3" ry="0.7" fill-opacity="0.74"/><ellipse cx="469.7" cy="127.7" rx="0.8" ry="0.8" fill-opacity="0.84"/><ellipse cx="384.3" cy="146.6" rx="1.0" ry="0.8" fill-opacity="0.90"/><ellipse cx="420.5" cy="145.0" rx="1.8" ry="0.6" fill-opacity="0.64"/><ellipse cx="464.8" cy="148.0" rx="1.5" ry="0.6" fill-opacity="0.62"/><ellipse cx="459.7" cy="133.0" rx="1.4" ry="0.8" fill-opacity="0.65"/><ellipse cx="467.8" cy="118.6" rx="1.6" ry="0.8" fill-opacity="0.70"/><ellipse cx="440.2" cy="153.3" rx="1.5" ry="0.7" fill-opacity="0.70"/><ellipse cx="422.9" cy="124.5" rx="1.1" ry="0.5" fill-opacity="0.88"/><ellipse cx="456.1" cy="125.9" rx="1.0" ry="0.7" fill-opacity="0.78"/><ellipse cx="408.4" cy="150.1" rx="0.9" ry="0.7" fill-opacity="0.73"/><ellipse cx="474.7" cy="137.5" rx="1.7" ry="0.5" fill-opacity="0.87"/><ellipse cx="446.9" cy="134.2" rx="1.7" ry="0.8" fill-opacity="0.65"/><ellipse cx="407.2" cy="130.5" rx="1.0" ry="0.5" fill-opacity="0.71"/><ellipse cx="395.3" cy="143.2" rx="1.3" ry="0.5" fill-opacity="0.73"/><ellipse cx="430.2" cy="130.6" rx="0.9" ry="0.5" fill-opacity="0.60"/><ellipse cx="380.8" cy="143.8" rx="2.0" ry="0.7" fill-opacity="0.64"/><ellipse cx="432.8" cy="133.2" rx="0.9" ry="0.7" fill-opacity="0.60"/><ellipse cx="450.6" cy="152.0" rx="1.5" ry="0.6" fill-opacity="0.70"/><ellipse cx="408.0" cy="123.9" rx="1.5" ry="0.8" fill-opacity="0.97"/><ellipse cx="391.6" cy="146.3" rx="1.8" ry="0.7" fill-opacity="0.73"/><ellipse cx="393.7" cy="147.9" rx="1.1" ry="0.6" fill-opacity="0.82"/><ellipse cx="417.4" cy="148.1" rx="1.0" ry="0.5" fill-opacity="0.83"/><ellipse cx="450.7" cy="147.7" rx="1.6" ry="0.8" fill-opacity="0.98"/><ellipse cx="433.5" cy="135.7" rx="0.9" ry="0.6" fill-opacity="0.83"/><ellipse cx="494.5" cy="120.4" rx="0.8" ry="0.6" fill-opacity="0.68"/><ellipse cx="462.8" cy="117.1" rx="1.8" ry="0.8" fill-opacity="0.91"/><ellipse cx="424.6" cy="127.6" rx="1.6" ry="0.7" fill-opacity="0.77"/><ellipse cx="413.5" cy="133.4" rx="1.6" ry="0.8" fill-opacity="0.96"/><ellipse cx="426.9" cy="138.1" rx="1.2" ry="0.5" fill-opacity="0.63"/><ellipse cx="411.6" cy="134.2" rx="2.0" ry="0.8" fill-opacity="0.95"/><ellipse cx="449.6" cy="147.3" rx="0.8" ry="0.7" fill-opacity="0.84"/><ellipse cx="408.1" cy="138.4" rx="1.9" ry="0.6" fill-opacity="0.86"/><ellipse cx="408.4" cy="129.8" rx="1.9" ry="0.5" fill-opacity="0.68"/><ellipse cx="457.1" cy="133.7" rx="0.8" ry="0.7" fill-opacity="0.75"/><ellipse cx="444.6" cy="132.6" rx="1.4" ry="0.7" fill-opacity="0.76"/><ellipse cx="384.4" cy="149.2" rx="1.0" ry="0.5" fill-opacity="0.81"/><ellipse cx="402.3" cy="135.3" rx="1.4" ry="0.5" fill-opacity="0.83"/><ellipse cx="445.6" cy="120.0" rx="1.2" ry="0.5" fill-opacity="0.78"/><ellipse cx="461.8" cy="145.3" rx="0.8" ry="0.8" fill-opacity="0.89"/><ellipse cx="383.1" cy="148.0" rx="1.2" ry="0.5" fill-opacity="0.98"/><ellipse cx="442.3" cy="146.0" rx="0.9" ry="0.8" fill-opacity="0.62"/><ellipse cx="400.4" cy="130.9" rx="0.7" ry="0.7" fill-opacity="0.69"/><ellipse cx="408.5" cy="143.5" rx="1.3" ry="0.8" fill-opacity="0.85"/><ellipse cx="391.6" cy="144.9" rx="1.1" ry="0.8" fill-opacity="0.87"/><ellipse cx="476.0" cy="121.6" rx="1.2" ry="0.7" fill-opacity="0.98"/><ellipse cx="462.7" cy="118.6" rx="1.5" ry="0.5" fill-opacity="0.82"/><ellipse cx="473.1" cy="121.2" rx="1.9" ry="0.7" fill-opacity="0.70"/><ellipse cx="394.8" cy="133.7" rx="1.8" ry="0.7" fill-opacity="0.65"/><ellipse cx="472.8" cy="123.9" rx="1.4" ry="0.6" fill-opacity="0.87"/><ellipse cx="418.9" cy="122.4" rx="1.8" ry="0.7" fill-opacity="0.88"/><ellipse cx="389.4" cy="135.8" rx="1.8" ry="0.8" fill-opacity="0.61"/><ellipse cx="393.4" cy="147.6" rx="1.6" ry="0.6" fill-opacity="0.79"/><ellipse cx="390.3" cy="148.6" rx="1.2" ry="0.8" fill-opacity="0.84"/><ellipse cx="397.8" cy="150.4" rx="1.5" ry="0.5" fill-opacity="0.67"/><ellipse cx="416.4" cy="134.5" rx="1.5" ry="0.6" fill-opacity="0.74"/><ellipse cx="412.9" cy="117.8" rx="1.3" ry="0.8" fill-opacity="0.62"/><ellipse cx="388.7" cy="142.1" rx="1.1" ry="0.6" fill-opacity="0.80"/></g>
<polygon points="93.0,206.0 183.6,206.0 146.4,243.0 57.0,243.0 66.0,233.0 71.9,231.6 72.3,227.4" fill="#000" />
<g clip-path="url(#c9)" fill="#fff"><ellipse cx="90.2" cy="227.1" rx="3.3" ry="2.1" transform="rotate(-8 90.2 227.1)"/><ellipse cx="155.0" cy="229.4" rx="3.5" ry="1.7" transform="rotate(-22 155.0 229.4)"/><ellipse cx="137.4" cy="219.0" rx="3.4" ry="1.7" transform="rotate(-27 137.4 219.0)"/><ellipse cx="99.7" cy="218.0" rx="4.0" ry="1.8" transform="rotate(-21 99.7 218.0)"/><ellipse cx="114.4" cy="222.5" rx="3.4" ry="1.7" transform="rotate(-25 114.4 222.5)"/><ellipse cx="126.8" cy="240.7" rx="3.1" ry="2.1" transform="rotate(-16 126.8 240.7)"/><ellipse cx="102.2" cy="234.7" rx="3.2" ry="2.0" transform="rotate(-27 102.2 234.7)"/><ellipse cx="67.0" cy="236.0" rx="3.8" ry="1.7" transform="rotate(-25 67.0 236.0)"/><ellipse cx="173.8" cy="213.9" rx="3.1" ry="1.9" transform="rotate(-15 173.8 213.9)"/><ellipse cx="99.8" cy="208.1" rx="3.2" ry="1.5" transform="rotate(-15 99.8 208.1)"/><ellipse cx="115.7" cy="206.5" rx="3.9" ry="1.8" transform="rotate(-8 115.7 206.5)"/><ellipse cx="140.2" cy="228.3" rx="3.1" ry="1.9" transform="rotate(-23 140.2 228.3)"/><ellipse cx="155.2" cy="217.4" rx="3.7" ry="2.1" transform="rotate(-19 155.2 217.4)"/><ellipse cx="92.2" cy="225.4" rx="1.9" ry="0.5" fill-opacity="0.60"/><ellipse cx="117.2" cy="230.2" rx="1.7" ry="0.6" fill-opacity="1.00"/><ellipse cx="85.9" cy="234.0" rx="0.8" ry="0.5" fill-opacity="0.65"/><ellipse cx="127.3" cy="212.7" rx="1.9" ry="0.6" fill-opacity="0.66"/><ellipse cx="79.5" cy="233.3" rx="1.9" ry="0.5" fill-opacity="0.61"/><ellipse cx="155.5" cy="215.0" rx="2.0" ry="0.6" fill-opacity="0.85"/><ellipse cx="100.6" cy="235.6" rx="1.3" ry="0.6" fill-opacity="0.96"/><ellipse cx="70.6" cy="233.1" rx="0.8" ry="0.7" fill-opacity="0.76"/></g>
<polygon points="93.0,247.0 184.0,247.0 148.0,284.0 57.0,284.0 67.2,273.6 72.8,272.2 72.5,268.4 82.5,258.2 84.6,257.4 84.4,256.4" fill="#000" />
<g clip-path="url(#c10)" fill="#fff"><ellipse cx="166.7" cy="249.2" rx="3.3" ry="1.8" transform="rotate(-10 166.7 249.2)"/><ellipse cx="85.5" cy="256.3" rx="2.9" ry="1.8" transform="rotate(-23 85.5 256.3)"/><ellipse cx="82.8" cy="275.1" rx="3.4" ry="1.7" transform="rotate(-8 82.8 275.1)"/><ellipse cx="84.5" cy="268.1" rx="2.8" ry="2.1" transform="rotate(-11 84.5 268.1)"/><ellipse cx="161.5" cy="257.5" rx="3.0" ry="1.8" transform="rotate(-10 161.5 257.5)"/><ellipse cx="132.9" cy="263.8" rx="3.3" ry="2.1" transform="rotate(-24 132.9 263.8)"/><ellipse cx="180.7" cy="247.3" rx="3.7" ry="1.6" transform="rotate(-13 180.7 247.3)"/><ellipse cx="143.7" cy="250.3" rx="3.0" ry="2.1" transform="rotate(-14 143.7 250.3)"/><ellipse cx="157.6" cy="272.5" rx="2.6" ry="1.9" transform="rotate(-23 157.6 272.5)"/><ellipse cx="111.7" cy="250.9" rx="2.6" ry="2.2" transform="rotate(-22 111.7 250.9)"/><ellipse cx="150.8" cy="265.5" rx="2.7" ry="1.7" transform="rotate(-18 150.8 265.5)"/><ellipse cx="84.3" cy="282.8" rx="3.7" ry="2.0" transform="rotate(-23 84.3 282.8)"/><ellipse cx="121.6" cy="262.1" rx="3.3" ry="1.8" transform="rotate(-28 121.6 262.1)"/><ellipse cx="144.4" cy="271.2" rx="3.3" ry="1.9" transform="rotate(-14 144.4 271.2)"/><ellipse cx="97.4" cy="262.5" rx="3.8" ry="1.8" transform="rotate(-20 97.4 262.5)"/><ellipse cx="134.2" cy="281.3" rx="2.9" ry="1.9" transform="rotate(-20 134.2 281.3)"/><ellipse cx="71.8" cy="278.2" rx="3.5" ry="2.1" transform="rotate(-27 71.8 278.2)"/><ellipse cx="145.2" cy="259.0" rx="3.4" ry="1.9" transform="rotate(-22 145.2 259.0)"/><ellipse cx="151.8" cy="278.6" rx="3.2" ry="1.9" transform="rotate(-8 151.8 278.6)"/><ellipse cx="123.8" cy="269.7" rx="3.4" ry="1.7" transform="rotate(-15 123.8 269.7)"/><ellipse cx="126.0" cy="255.3" rx="3.3" ry="1.7" transform="rotate(-10 126.0 255.3)"/><ellipse cx="105.4" cy="277.8" rx="3.6" ry="1.6" transform="rotate(-25 105.4 277.8)"/><ellipse cx="129.5" cy="249.1" rx="2.8" ry="2.0" transform="rotate(-23 129.5 249.1)"/><ellipse cx="98.1" cy="255.9" rx="3.6" ry="1.6" transform="rotate(-15 98.1 255.9)"/><ellipse cx="105.2" cy="266.5" rx="3.2" ry="2.1" transform="rotate(-13 105.2 266.5)"/><ellipse cx="117.1" cy="279.9" rx="3.1" ry="1.8" transform="rotate(-18 117.1 279.9)"/><ellipse cx="154.8" cy="251.4" rx="2.9" ry="1.6" transform="rotate(-12 154.8 251.4)"/><ellipse cx="57.8" cy="283.6" rx="2.9" ry="1.7" transform="rotate(-22 57.8 283.6)"/><ellipse cx="89.4" cy="278.8" rx="1.4" ry="0.7" fill-opacity="0.77"/><ellipse cx="165.8" cy="256.5" rx="1.0" ry="0.5" fill-opacity="0.81"/><ellipse cx="104.5" cy="264.2" rx="1.3" ry="0.7" fill-opacity="0.75"/><ellipse cx="158.8" cy="254.4" rx="1.9" ry="0.7" fill-opacity="0.62"/><ellipse cx="96.9" cy="266.7" rx="1.2" ry="0.7" fill-opacity="0.73"/><ellipse cx="91.7" cy="276.5" rx="1.1" ry="0.7" fill-opacity="0.92"/><ellipse cx="132.2" cy="263.8" rx="1.9" ry="0.6" fill-opacity="0.95"/><ellipse cx="138.2" cy="248.8" rx="1.8" ry="0.5" fill-opacity="0.84"/><ellipse cx="79.9" cy="281.1" rx="1.4" ry="0.8" fill-opacity="0.80"/><ellipse cx="142.6" cy="272.0" rx="1.1" ry="0.5" fill-opacity="0.94"/><ellipse cx="75.5" cy="281.0" rx="1.0" ry="0.5" fill-opacity="0.64"/><ellipse cx="109.7" cy="271.4" rx="1.0" ry="0.8" fill-opacity="0.87"/><ellipse cx="145.4" cy="248.5" rx="1.8" ry="0.6" fill-opacity="0.69"/><ellipse cx="130.9" cy="258.8" rx="1.4" ry="0.5" fill-opacity="0.96"/><ellipse cx="98.2" cy="278.1" rx="0.9" ry="0.8" fill-opacity="0.99"/></g>
<ellipse cx="71.5" cy="236.3" rx="5" ry="2.2" fill="#fff" transform="rotate(-15 71.5 236.3)"/>
<ellipse cx="72.5" cy="277.3" rx="5.2" ry="2.3" fill="#fff" transform="rotate(-12 72.5 277.3)"/>
<polygon points="93.0,287.5 185.0,287.5 148.0,324.4 58.0,324.4" fill="#000" />
<g clip-path="url(#c11)" fill="#fff"><ellipse cx="107.7" cy="288.7" rx="2.5" ry="1.7" transform="rotate(-24 107.7 288.7)"/><ellipse cx="127.3" cy="291.0" rx="2.7" ry="1.8" transform="rotate(-19 127.3 291.0)"/><ellipse cx="144.2" cy="291.7" rx="3.2" ry="1.4" transform="rotate(-10 144.2 291.7)"/><ellipse cx="124.8" cy="298.2" rx="2.5" ry="1.8" transform="rotate(-18 124.8 298.2)"/><ellipse cx="176.1" cy="290.9" rx="2.7" ry="1.9" transform="rotate(-16 176.1 290.9)"/><ellipse cx="86.9" cy="321.6" rx="2.0" ry="1.7" transform="rotate(-9 86.9 321.6)"/><ellipse cx="101.7" cy="322.3" rx="2.9" ry="1.3" transform="rotate(-21 101.7 322.3)"/><ellipse cx="115.1" cy="296.6" rx="3.0" ry="1.4" transform="rotate(-12 115.1 296.6)"/><ellipse cx="95.9" cy="290.1" rx="2.8" ry="1.4" transform="rotate(-17 95.9 290.1)"/><ellipse cx="158.1" cy="309.5" rx="2.6" ry="1.3" transform="rotate(-18 158.1 309.5)"/><ellipse cx="74.8" cy="308.8" rx="2.5" ry="1.6" transform="rotate(-15 74.8 308.8)"/><ellipse cx="69.9" cy="319.9" rx="2.2" ry="1.6" transform="rotate(-17 69.9 319.9)"/><ellipse cx="83.1" cy="302.4" rx="2.3" ry="1.4" transform="rotate(-23 83.1 302.4)"/><ellipse cx="153.3" cy="293.2" rx="2.4" ry="1.3" transform="rotate(-20 153.3 293.2)"/><ellipse cx="133.6" cy="316.4" rx="3.0" ry="1.3" transform="rotate(-23 133.6 316.4)"/><ellipse cx="134.1" cy="323.8" rx="2.1" ry="1.7" transform="rotate(-14 134.1 323.8)"/><ellipse cx="161.5" cy="300.1" rx="3.1" ry="1.6" transform="rotate(-10 161.5 300.1)"/><ellipse cx="110.3" cy="302.5" rx="2.1" ry="1.5" transform="rotate(-13 110.3 302.5)"/><ellipse cx="118.9" cy="305.9" rx="3.1" ry="1.9" transform="rotate(-13 118.9 305.9)"/><ellipse cx="149.1" cy="300.4" rx="2.2" ry="2.0" transform="rotate(-15 149.1 300.4)"/><ellipse cx="133.0" cy="303.6" rx="3.2" ry="1.8" transform="rotate(-11 133.0 303.6)"/><ellipse cx="125.5" cy="322.4" rx="2.2" ry="2.0" transform="rotate(-12 125.5 322.4)"/><ellipse cx="87.5" cy="294.8" rx="2.6" ry="1.5" transform="rotate(-18 87.5 294.8)"/><ellipse cx="144.7" cy="322.2" rx="3.2" ry="1.6" transform="rotate(-26 144.7 322.2)"/><ellipse cx="101.1" cy="309.5" rx="3.2" ry="1.9" transform="rotate(-28 101.1 309.5)"/><ellipse cx="120.1" cy="288.1" rx="2.2" ry="1.9" transform="rotate(-20 120.1 288.1)"/><ellipse cx="100.6" cy="295.4" rx="2.5" ry="1.9" transform="rotate(-16 100.6 295.4)"/><ellipse cx="92.4" cy="313.4" rx="2.6" ry="1.8" transform="rotate(-12 92.4 313.4)"/><ellipse cx="163.5" cy="293.5" rx="2.7" ry="1.3" transform="rotate(-24 163.5 293.5)"/><ellipse cx="142.0" cy="310.8" rx="2.5" ry="1.7" transform="rotate(-14 142.0 310.8)"/><ellipse cx="114.9" cy="315.2" rx="3.2" ry="1.8" transform="rotate(-13 114.9 315.2)"/><ellipse cx="132.6" cy="308.8" rx="2.1" ry="1.6" transform="rotate(-13 132.6 308.8)"/><ellipse cx="139.5" cy="297.9" rx="3.1" ry="1.5" transform="rotate(-17 139.5 297.9)"/><ellipse cx="111.4" cy="323.6" rx="2.9" ry="1.9" transform="rotate(-14 111.4 323.6)"/><ellipse cx="95.8" cy="301.6" rx="3.4" ry="2.0" transform="rotate(-24 95.8 301.6)"/><ellipse cx="77.3" cy="315.4" rx="2.7" ry="1.7" transform="rotate(-15 77.3 315.4)"/><ellipse cx="109.3" cy="308.7" rx="2.4" ry="1.9" transform="rotate(-12 109.3 308.7)"/><ellipse cx="156.8" cy="288.5" rx="2.7" ry="1.6" transform="rotate(-27 156.8 288.5)"/><ellipse cx="149.8" cy="314.1" rx="2.1" ry="1.4" transform="rotate(-28 149.8 314.1)"/><ellipse cx="106.8" cy="317.5" rx="3.2" ry="1.4" transform="rotate(-28 106.8 317.5)"/><ellipse cx="85.2" cy="309.1" rx="1.2" ry="0.5" fill-opacity="0.93"/><ellipse cx="157.8" cy="304.6" rx="0.8" ry="0.8" fill-opacity="0.81"/><ellipse cx="137.3" cy="320.2" rx="1.3" ry="0.7" fill-opacity="0.68"/><ellipse cx="88.9" cy="320.9" rx="1.2" ry="0.5" fill-opacity="0.84"/><ellipse cx="116.0" cy="309.1" rx="1.5" ry="0.7" fill-opacity="0.78"/><ellipse cx="108.8" cy="312.3" rx="1.6" ry="0.5" fill-opacity="0.86"/><ellipse cx="145.9" cy="304.9" rx="0.9" ry="0.8" fill-opacity="0.84"/><ellipse cx="107.8" cy="316.6" rx="1.8" ry="0.7" fill-opacity="0.90"/><ellipse cx="88.5" cy="321.8" rx="1.0" ry="0.7" fill-opacity="0.97"/><ellipse cx="139.1" cy="321.4" rx="1.0" ry="0.5" fill-opacity="0.61"/><ellipse cx="154.2" cy="291.3" rx="2.0" ry="0.7" fill-opacity="0.67"/><ellipse cx="160.5" cy="293.5" rx="1.4" ry="0.5" fill-opacity="0.91"/><ellipse cx="128.6" cy="317.8" rx="1.4" ry="0.7" fill-opacity="0.84"/><ellipse cx="159.5" cy="290.4" rx="0.8" ry="0.7" fill-opacity="0.72"/><ellipse cx="108.4" cy="287.8" rx="1.7" ry="0.5" fill-opacity="0.93"/><ellipse cx="161.1" cy="304.4" rx="0.9" ry="0.7" fill-opacity="0.68"/><ellipse cx="112.5" cy="291.6" rx="2.0" ry="0.7" fill-opacity="0.74"/><ellipse cx="69.9" cy="314.4" rx="1.8" ry="0.8" fill-opacity="0.64"/><ellipse cx="104.7" cy="298.7" rx="1.7" ry="0.5" fill-opacity="0.84"/><ellipse cx="72.4" cy="313.1" rx="1.5" ry="0.7" fill-opacity="0.78"/><ellipse cx="109.7" cy="310.0" rx="1.5" ry="0.8" fill-opacity="0.89"/><ellipse cx="165.9" cy="303.4" rx="1.8" ry="0.5" fill-opacity="0.98"/><ellipse cx="114.1" cy="313.6" rx="1.0" ry="0.6" fill-opacity="0.74"/><ellipse cx="99.2" cy="291.0" rx="1.3" ry="0.8" fill-opacity="0.86"/><ellipse cx="153.6" cy="297.6" rx="1.0" ry="0.6" fill-opacity="0.61"/><ellipse cx="87.3" cy="320.2" rx="1.9" ry="0.6" fill-opacity="0.91"/><ellipse cx="158.9" cy="307.1" rx="0.8" ry="0.8" fill-opacity="0.73"/><ellipse cx="137.6" cy="301.0" rx="1.4" ry="0.8" fill-opacity="0.66"/><ellipse cx="125.4" cy="311.5" rx="1.4" ry="0.8" fill-opacity="0.76"/><ellipse cx="180.9" cy="290.8" rx="1.0" ry="0.6" fill-opacity="0.96"/><ellipse cx="80.4" cy="303.7" rx="1.6" ry="0.7" fill-opacity="0.90"/><ellipse cx="153.6" cy="296.7" rx="1.0" ry="0.5" fill-opacity="0.88"/><ellipse cx="84.6" cy="297.1" rx="2.0" ry="0.7" fill-opacity="0.84"/><ellipse cx="141.3" cy="309.6" rx="1.6" ry="0.6" fill-opacity="0.63"/><ellipse cx="103.9" cy="292.7" rx="0.8" ry="0.6" fill-opacity="0.99"/><ellipse cx="145.3" cy="297.6" rx="1.7" ry="0.5" fill-opacity="0.64"/><ellipse cx="96.5" cy="302.6" rx="1.6" ry="0.6" fill-opacity="0.89"/><ellipse cx="70.0" cy="321.9" rx="1.1" ry="0.8" fill-opacity="0.61"/><ellipse cx="163.3" cy="295.8" rx="1.8" ry="0.8" fill-opacity="0.87"/><ellipse cx="93.3" cy="287.9" rx="0.9" ry="0.8" fill-opacity="0.66"/></g>
<polygon points="93.0,328.0 185.0,328.0 149.0,365.6 58.0,365.6" fill="#000" />
<g clip-path="url(#c12)" fill="#fff"><ellipse cx="141.7" cy="350.1" rx="2.3" ry="0.9" fill-opacity="0.96"/><ellipse cx="70.3" cy="364.9" rx="1.8" ry="1.3" fill-opacity="0.98"/><ellipse cx="74.5" cy="364.2" rx="1.8" ry="1.4" fill-opacity="0.96"/><ellipse cx="158.1" cy="337.5" rx="1.8" ry="1.2" fill-opacity="0.96"/><ellipse cx="89.5" cy="357.9" rx="1.7" ry="1.1" fill-opacity="0.99"/><ellipse cx="86.4" cy="335.3" rx="1.6" ry="1.1" fill-opacity="0.97"/><ellipse cx="139.5" cy="345.7" rx="2.6" ry="0.8" fill-opacity="0.98"/><ellipse cx="164.2" cy="336.8" rx="1.2" ry="1.2" fill-opacity="0.96"/><ellipse cx="116.4" cy="354.8" rx="1.3" ry="0.9" fill-opacity="0.97"/><ellipse cx="113.9" cy="332.4" rx="1.3" ry="1.1" fill-opacity="0.97"/><ellipse cx="152.5" cy="349.2" rx="2.6" ry="1.6" fill-opacity="0.99"/><ellipse cx="72.0" cy="363.5" rx="2.0" ry="1.0" fill-opacity="0.96"/><ellipse cx="167.8" cy="336.0" rx="1.3" ry="1.0" fill-opacity="1.00"/><ellipse cx="116.5" cy="355.5" rx="1.3" ry="1.2" fill-opacity="0.97"/><ellipse cx="84.1" cy="352.9" rx="1.8" ry="0.9" fill-opacity="1.00"/><ellipse cx="119.2" cy="334.8" rx="1.2" ry="1.3" fill-opacity="0.98"/><ellipse cx="152.0" cy="348.2" rx="1.6" ry="1.2" fill-opacity="0.98"/><ellipse cx="140.7" cy="333.5" rx="2.5" ry="1.6" fill-opacity="0.99"/><ellipse cx="166.9" cy="341.8" rx="2.6" ry="0.9" fill-opacity="0.96"/><ellipse cx="133.9" cy="361.9" rx="1.3" ry="1.0" fill-opacity="0.95"/><ellipse cx="113.8" cy="333.3" rx="1.5" ry="1.4" fill-opacity="0.98"/><ellipse cx="144.2" cy="328.5" rx="2.7" ry="1.0" fill-opacity="0.97"/><ellipse cx="123.0" cy="363.7" rx="2.0" ry="1.6" fill-opacity="0.98"/><ellipse cx="85.5" cy="359.4" rx="1.5" ry="1.6" fill-opacity="0.97"/><ellipse cx="86.7" cy="364.1" rx="1.7" ry="1.1" fill-opacity="0.97"/><ellipse cx="142.9" cy="328.9" rx="1.8" ry="0.9" fill-opacity="0.99"/><ellipse cx="90.7" cy="345.1" rx="2.1" ry="1.4" fill-opacity="0.96"/><ellipse cx="75.4" cy="347.6" rx="2.1" ry="1.5" fill-opacity="0.95"/><ellipse cx="87.8" cy="334.3" rx="2.1" ry="1.2" fill-opacity="0.97"/><ellipse cx="92.2" cy="363.4" rx="1.9" ry="0.8" fill-opacity="1.00"/><ellipse cx="94.8" cy="338.9" rx="2.7" ry="1.5" fill-opacity="0.97"/><ellipse cx="125.2" cy="359.9" rx="2.5" ry="1.3" fill-opacity="0.98"/><ellipse cx="141.6" cy="350.0" rx="2.5" ry="1.5" fill-opacity="1.00"/><ellipse cx="81.1" cy="354.0" rx="1.6" ry="1.0" fill-opacity="0.97"/><ellipse cx="124.5" cy="353.5" rx="1.3" ry="1.4" fill-opacity="0.98"/><ellipse cx="117.9" cy="353.3" rx="2.5" ry="0.8" fill-opacity="0.97"/><ellipse cx="144.1" cy="354.7" rx="2.2" ry="0.9" fill-opacity="1.00"/><ellipse cx="157.8" cy="336.8" rx="1.9" ry="1.6" fill-opacity="0.96"/><ellipse cx="110.0" cy="364.2" rx="2.6" ry="1.0" fill-opacity="0.99"/><ellipse cx="103.7" cy="352.9" rx="2.4" ry="0.9" fill-opacity="0.96"/><ellipse cx="85.3" cy="338.0" rx="1.3" ry="0.9" fill-opacity="0.97"/><ellipse cx="111.4" cy="330.9" rx="2.1" ry="1.6" fill-opacity="0.98"/><ellipse cx="103.2" cy="354.5" rx="1.9" ry="0.9" fill-opacity="0.97"/><ellipse cx="138.6" cy="354.5" rx="2.7" ry="1.0" fill-opacity="0.99"/><ellipse cx="96.2" cy="337.6" rx="2.5" ry="1.3" fill-opacity="0.99"/><ellipse cx="125.9" cy="355.3" rx="1.1" ry="0.5" fill-opacity="0.60"/><ellipse cx="80.0" cy="354.2" rx="0.7" ry="0.5" fill-opacity="0.71"/><ellipse cx="148.3" cy="365.1" rx="0.7" ry="0.5" fill-opacity="0.97"/><ellipse cx="100.6" cy="347.6" rx="1.1" ry="0.6" fill-opacity="0.79"/><ellipse cx="146.5" cy="337.9" rx="1.7" ry="0.7" fill-opacity="0.74"/><ellipse cx="120.5" cy="335.1" rx="1.9" ry="0.7" fill-opacity="0.62"/><ellipse cx="77.5" cy="354.0" rx="1.2" ry="0.7" fill-opacity="0.69"/><ellipse cx="82.3" cy="354.6" rx="1.7" ry="0.8" fill-opacity="0.69"/><ellipse cx="69.9" cy="352.9" rx="1.4" ry="0.5" fill-opacity="0.68"/><ellipse cx="132.0" cy="332.1" rx="1.5" ry="0.5" fill-opacity="0.70"/><ellipse cx="111.8" cy="348.0" rx="1.6" ry="0.5" fill-opacity="0.89"/><ellipse cx="86.1" cy="338.9" rx="1.5" ry="0.7" fill-opacity="0.85"/><ellipse cx="172.5" cy="335.7" rx="1.1" ry="0.7" fill-opacity="0.70"/><ellipse cx="149.0" cy="364.0" rx="1.7" ry="0.6" fill-opacity="0.73"/><ellipse cx="149.6" cy="330.1" rx="1.5" ry="0.5" fill-opacity="0.62"/><ellipse cx="123.2" cy="333.7" rx="1.9" ry="0.8" fill-opacity="0.78"/><ellipse cx="122.4" cy="347.6" rx="1.2" ry="0.7" fill-opacity="0.81"/><ellipse cx="156.5" cy="332.0" rx="0.8" ry="0.6" fill-opacity="0.79"/><ellipse cx="90.1" cy="353.1" rx="1.0" ry="0.6" fill-opacity="0.79"/><ellipse cx="148.5" cy="357.0" rx="1.2" ry="0.6" fill-opacity="0.97"/><ellipse cx="138.9" cy="338.5" rx="0.7" ry="0.8" fill-opacity="0.96"/><ellipse cx="136.7" cy="339.3" rx="0.8" ry="0.8" fill-opacity="0.91"/><ellipse cx="113.5" cy="331.2" rx="1.2" ry="0.5" fill-opacity="0.99"/><ellipse cx="155.5" cy="333.1" rx="0.8" ry="0.5" fill-opacity="0.67"/><ellipse cx="125.5" cy="359.3" rx="0.9" ry="0.5" fill-opacity="0.91"/><ellipse cx="112.1" cy="340.7" rx="0.9" ry="0.5" fill-opacity="0.99"/><ellipse cx="152.1" cy="361.5" rx="1.9" ry="0.6" fill-opacity="0.98"/><ellipse cx="134.7" cy="338.9" rx="1.3" ry="0.7" fill-opacity="0.89"/><ellipse cx="179.7" cy="332.0" rx="1.8" ry="0.6" fill-opacity="0.70"/><ellipse cx="90.4" cy="345.6" rx="2.0" ry="0.5" fill-opacity="0.94"/><ellipse cx="98.8" cy="334.5" rx="1.7" ry="0.6" fill-opacity="0.68"/><ellipse cx="111.1" cy="358.9" rx="1.8" ry="0.7" fill-opacity="0.60"/><ellipse cx="155.0" cy="350.8" rx="1.9" ry="0.8" fill-opacity="0.73"/><ellipse cx="91.8" cy="341.8" rx="1.2" ry="0.6" fill-opacity="0.75"/><ellipse cx="138.7" cy="361.4" rx="1.7" ry="0.5" fill-opacity="0.97"/><ellipse cx="150.5" cy="356.4" rx="1.8" ry="0.6" fill-opacity="0.86"/><ellipse cx="106.3" cy="359.6" rx="0.9" ry="0.7" fill-opacity="0.73"/><ellipse cx="162.2" cy="341.0" rx="1.8" ry="0.8" fill-opacity="0.95"/><ellipse cx="75.7" cy="363.3" rx="1.7" ry="0.7" fill-opacity="0.86"/><ellipse cx="64.1" cy="360.7" rx="1.4" ry="0.6" fill-opacity="0.74"/><ellipse cx="168.5" cy="336.1" rx="1.1" ry="0.5" fill-opacity="0.64"/><ellipse cx="99.5" cy="329.0" rx="1.7" ry="0.5" fill-opacity="0.63"/><ellipse cx="83.2" cy="345.4" rx="1.2" ry="0.8" fill-opacity="0.98"/><ellipse cx="97.4" cy="351.8" rx="1.9" ry="0.6" fill-opacity="0.96"/><ellipse cx="151.2" cy="339.7" rx="1.8" ry="0.7" fill-opacity="0.64"/><ellipse cx="132.6" cy="359.2" rx="1.4" ry="0.6" fill-opacity="0.77"/><ellipse cx="84.4" cy="341.6" rx="1.2" ry="0.8" fill-opacity="0.88"/><ellipse cx="73.9" cy="362.4" rx="0.7" ry="0.7" fill-opacity="0.77"/><ellipse cx="149.1" cy="344.1" rx="0.8" ry="0.7" fill-opacity="0.93"/><ellipse cx="158.2" cy="341.4" rx="1.0" ry="0.7" fill-opacity="0.92"/><ellipse cx="85.8" cy="361.2" rx="2.0" ry="0.6" fill-opacity="0.75"/><ellipse cx="148.2" cy="363.0" rx="1.0" ry="0.6" fill-opacity="0.73"/><ellipse cx="151.0" cy="335.0" rx="1.4" ry="0.7" fill-opacity="0.87"/><ellipse cx="76.2" cy="364.0" rx="2.0" ry="0.7" fill-opacity="0.92"/><ellipse cx="81.3" cy="362.2" rx="1.4" ry="0.8" fill-opacity="0.95"/><ellipse cx="103.9" cy="362.7" rx="1.0" ry="0.5" fill-opacity="0.80"/><ellipse cx="76.2" cy="351.7" rx="1.7" ry="0.6" fill-opacity="0.84"/><ellipse cx="90.9" cy="338.4" rx="1.2" ry="0.7" fill-opacity="0.79"/><ellipse cx="101.2" cy="355.0" rx="1.7" ry="0.5" fill-opacity="0.70"/><ellipse cx="123.6" cy="334.6" rx="1.5" ry="0.8" fill-opacity="0.68"/><ellipse cx="132.4" cy="355.1" rx="1.7" ry="0.7" fill-opacity="0.88"/><ellipse cx="92.6" cy="359.5" rx="1.9" ry="0.5" fill-opacity="0.98"/><ellipse cx="114.2" cy="331.2" rx="0.8" ry="0.8" fill-opacity="0.87"/><ellipse cx="139.1" cy="365.5" rx="1.1" ry="0.8" fill-opacity="0.70"/><ellipse cx="110.1" cy="351.2" rx="1.1" ry="0.5" fill-opacity="0.69"/><ellipse cx="98.1" cy="347.0" rx="0.9" ry="0.6" fill-opacity="0.78"/><ellipse cx="83.1" cy="350.3" rx="0.9" ry="0.5" fill-opacity="0.63"/><ellipse cx="147.1" cy="364.4" rx="1.2" ry="0.6" fill-opacity="0.77"/><ellipse cx="102.7" cy="354.0" rx="1.2" ry="0.5" fill-opacity="0.95"/><ellipse cx="130.7" cy="328.2" rx="1.8" ry="0.7" fill-opacity="0.74"/><ellipse cx="138.0" cy="362.6" rx="1.2" ry="0.6" fill-opacity="0.72"/><ellipse cx="128.4" cy="352.9" rx="1.7" ry="0.8" fill-opacity="0.66"/><ellipse cx="104.5" cy="360.0" rx="1.7" ry="0.7" fill-opacity="0.87"/><ellipse cx="101.2" cy="363.5" rx="1.4" ry="0.6" fill-opacity="0.67"/><ellipse cx="72.7" cy="361.7" rx="1.7" ry="0.5" fill-opacity="0.73"/><ellipse cx="118.9" cy="346.6" rx="1.2" ry="0.8" fill-opacity="0.74"/><ellipse cx="125.6" cy="362.9" rx="1.5" ry="0.6" fill-opacity="0.73"/><ellipse cx="107.2" cy="350.9" rx="1.7" ry="0.6" fill-opacity="0.75"/><ellipse cx="107.2" cy="341.6" rx="1.9" ry="0.7" fill-opacity="0.71"/><ellipse cx="100.2" cy="358.9" rx="0.9" ry="0.7" fill-opacity="0.61"/><ellipse cx="160.3" cy="333.5" rx="1.0" ry="0.5" fill-opacity="0.71"/><ellipse cx="151.1" cy="355.1" rx="1.9" ry="0.8" fill-opacity="0.82"/><ellipse cx="175.1" cy="331.4" rx="1.9" ry="0.6" fill-opacity="0.68"/><ellipse cx="153.0" cy="360.3" rx="1.2" ry="0.5" fill-opacity="0.95"/><ellipse cx="153.7" cy="350.4" rx="2.0" ry="0.5" fill-opacity="0.62"/><ellipse cx="148.0" cy="351.7" rx="0.8" ry="0.5" fill-opacity="0.67"/><ellipse cx="135.4" cy="353.3" rx="2.0" ry="0.6" fill-opacity="0.99"/><ellipse cx="113.2" cy="342.7" rx="1.0" ry="0.5" fill-opacity="0.99"/><ellipse cx="151.6" cy="330.2" rx="1.4" ry="0.7" fill-opacity="0.61"/><ellipse cx="113.8" cy="357.7" rx="1.4" ry="0.6" fill-opacity="0.95"/><ellipse cx="134.3" cy="340.7" rx="1.2" ry="0.8" fill-opacity="0.94"/><ellipse cx="106.7" cy="354.0" rx="0.7" ry="0.8" fill-opacity="0.91"/><ellipse cx="123.4" cy="328.2" rx="1.7" ry="0.6" fill-opacity="0.87"/><ellipse cx="130.4" cy="355.4" rx="1.2" ry="0.8" fill-opacity="0.98"/><ellipse cx="98.2" cy="342.2" rx="1.0" ry="0.8" fill-opacity="0.92"/><ellipse cx="98.4" cy="356.5" rx="1.0" ry="0.7" fill-opacity="0.66"/><ellipse cx="166.9" cy="346.4" rx="1.1" ry="0.8" fill-opacity="0.63"/><ellipse cx="76.9" cy="356.6" rx="1.4" ry="0.8" fill-opacity="0.83"/><ellipse cx="112.3" cy="363.1" rx="0.8" ry="0.8" fill-opacity="0.64"/><ellipse cx="93.1" cy="332.3" rx="1.8" ry="0.6" fill-opacity="0.89"/><ellipse cx="90.6" cy="355.5" rx="1.5" ry="0.5" fill-opacity="0.80"/><ellipse cx="149.7" cy="336.1" rx="1.6" ry="0.6" fill-opacity="0.75"/><ellipse cx="130.6" cy="358.4" rx="1.7" ry="0.6" fill-opacity="0.95"/><ellipse cx="109.0" cy="363.7" rx="1.3" ry="0.5" fill-opacity="0.90"/><ellipse cx="76.4" cy="353.6" rx="0.8" ry="0.8" fill-opacity="0.82"/><ellipse cx="152.0" cy="332.9" rx="1.5" ry="0.6" fill-opacity="0.70"/><ellipse cx="161.5" cy="329.3" rx="1.3" ry="0.5" fill-opacity="0.94"/><ellipse cx="171.4" cy="329.3" rx="1.3" ry="0.6" fill-opacity="0.89"/><ellipse cx="150.6" cy="340.9" rx="1.9" ry="0.5" fill-opacity="0.65"/><ellipse cx="161.5" cy="332.5" rx="0.9" ry="0.7" fill-opacity="0.73"/><ellipse cx="78.8" cy="363.0" rx="1.3" ry="0.8" fill-opacity="0.70"/><ellipse cx="173.9" cy="336.3" rx="1.9" ry="0.7" fill-opacity="0.99"/><ellipse cx="155.9" cy="351.7" rx="1.4" ry="0.8" fill-opacity="0.78"/><ellipse cx="70.5" cy="362.4" rx="1.7" ry="0.7" fill-opacity="0.90"/><ellipse cx="87.5" cy="345.4" rx="1.8" ry="0.8" fill-opacity="0.97"/><ellipse cx="78.4" cy="353.7" rx="1.4" ry="0.6" fill-opacity="0.67"/><ellipse cx="120.6" cy="338.1" rx="1.2" ry="0.7" fill-opacity="0.90"/><ellipse cx="132.9" cy="334.1" rx="1.9" ry="0.6" fill-opacity="0.98"/><ellipse cx="132.0" cy="364.4" rx="1.2" ry="0.7" fill-opacity="0.73"/><ellipse cx="137.9" cy="349.2" rx="1.9" ry="0.7" fill-opacity="0.74"/></g>
<polygon points="252.5,287.4 342.5,287.4 307.0,325.0 216.0,325.0" fill="#000" />
<g clip-path="url(#c13)" fill="#fff"><ellipse cx="284.7" cy="319.8" rx="2.2" ry="0.8" fill-opacity="0.98"/><ellipse cx="254.0" cy="323.8" rx="1.8" ry="1.1" fill-opacity="0.95"/><ellipse cx="242.0" cy="306.5" rx="1.6" ry="1.0" fill-opacity="0.98"/><ellipse cx="302.6" cy="322.2" rx="2.6" ry="1.0" fill-opacity="0.99"/><ellipse cx="270.0" cy="323.8" rx="1.8" ry="0.9" fill-opacity="0.95"/><ellipse cx="268.6" cy="321.3" rx="2.1" ry="1.0" fill-opacity="0.95"/><ellipse cx="321.3" cy="291.2" rx="2.5" ry="0.8" fill-opacity="0.99"/><ellipse cx="281.2" cy="299.6" rx="2.6" ry="0.9" fill-opacity="0.98"/><ellipse cx="224.5" cy="318.6" rx="2.6" ry="0.7" fill-opacity="0.99"/><ellipse cx="250.2" cy="293.0" rx="1.9" ry="1.0" fill-opacity="1.00"/><ellipse cx="294.8" cy="312.0" rx="1.7" ry="1.0" fill-opacity="0.98"/><ellipse cx="261.4" cy="321.2" rx="1.8" ry="0.8" fill-opacity="0.96"/><ellipse cx="234.9" cy="309.5" rx="2.4" ry="0.8" fill-opacity="0.98"/><ellipse cx="288.7" cy="308.5" rx="2.0" ry="0.9" fill-opacity="0.95"/><ellipse cx="245.9" cy="315.9" rx="1.8" ry="1.0" fill-opacity="0.96"/><ellipse cx="265.0" cy="300.0" rx="2.3" ry="0.8" fill-opacity="0.98"/><ellipse cx="321.6" cy="304.4" rx="2.1" ry="1.1" fill-opacity="0.98"/><ellipse cx="269.6" cy="299.0" rx="2.1" ry="1.1" fill-opacity="0.96"/><ellipse cx="257.0" cy="321.6" rx="2.3" ry="0.9" fill-opacity="0.96"/><ellipse cx="235.8" cy="310.9" rx="1.6" ry="0.9" fill-opacity="0.97"/><ellipse cx="229.0" cy="315.3" rx="2.3" ry="0.9" fill-opacity="0.96"/><ellipse cx="300.7" cy="303.7" rx="2.2" ry="0.7" fill-opacity="1.00"/><ellipse cx="266.4" cy="294.9" rx="1.6" ry="1.0" fill-opacity="1.00"/><ellipse cx="258.4" cy="297.4" rx="2.2" ry="0.8" fill-opacity="0.97"/><ellipse cx="303.1" cy="303.6" rx="1.7" ry="0.7" fill-opacity="0.98"/><ellipse cx="277.8" cy="294.7" rx="2.2" ry="0.9" fill-opacity="0.99"/><ellipse cx="252.9" cy="322.5" rx="2.4" ry="0.9" fill-opacity="0.96"/><ellipse cx="277.2" cy="292.2" rx="2.3" ry="1.0" fill-opacity="0.98"/><ellipse cx="339.5" cy="289.1" rx="1.6" ry="0.8" fill-opacity="0.65"/><ellipse cx="256.7" cy="289.4" rx="1.5" ry="0.7" fill-opacity="0.74"/><ellipse cx="304.0" cy="301.2" rx="1.6" ry="0.6" fill-opacity="0.99"/><ellipse cx="271.4" cy="287.5" rx="0.8" ry="0.7" fill-opacity="0.95"/><ellipse cx="296.5" cy="293.2" rx="1.8" ry="0.7" fill-opacity="0.65"/><ellipse cx="264.1" cy="312.6" rx="0.7" ry="0.5" fill-opacity="0.74"/><ellipse cx="256.3" cy="321.6" rx="1.7" ry="0.8" fill-opacity="0.84"/><ellipse cx="240.9" cy="306.9" rx="1.3" ry="0.6" fill-opacity="0.75"/><ellipse cx="280.6" cy="309.5" rx="1.0" ry="0.6" fill-opacity="0.80"/><ellipse cx="279.7" cy="303.1" rx="1.6" ry="0.5" fill-opacity="0.81"/><ellipse cx="250.9" cy="316.4" rx="1.6" ry="0.8" fill-opacity="0.81"/><ellipse cx="247.5" cy="322.2" rx="1.4" ry="0.6" fill-opacity="0.72"/><ellipse cx="266.9" cy="314.0" rx="1.8" ry="0.6" fill-opacity="0.89"/><ellipse cx="242.9" cy="304.4" rx="1.2" ry="0.6" fill-opacity="0.74"/><ellipse cx="311.5" cy="315.0" rx="1.0" ry="0.5" fill-opacity="0.91"/><ellipse cx="298.8" cy="312.8" rx="1.5" ry="0.7" fill-opacity="0.71"/><ellipse cx="220.1" cy="323.6" rx="1.4" ry="0.7" fill-opacity="0.99"/><ellipse cx="317.8" cy="296.0" rx="1.1" ry="0.5" fill-opacity="0.92"/><ellipse cx="309.2" cy="305.7" rx="1.2" ry="0.6" fill-opacity="0.79"/><ellipse cx="306.1" cy="321.1" rx="1.8" ry="0.8" fill-opacity="0.78"/><ellipse cx="269.3" cy="299.2" rx="2.0" ry="0.5" fill-opacity="0.66"/><ellipse cx="251.5" cy="322.1" rx="1.8" ry="0.6" fill-opacity="0.94"/><ellipse cx="240.3" cy="316.5" rx="1.2" ry="0.5" fill-opacity="0.96"/><ellipse cx="271.6" cy="302.3" rx="1.5" ry="0.6" fill-opacity="0.61"/><ellipse cx="265.3" cy="301.7" rx="0.7" ry="0.6" fill-opacity="0.90"/><ellipse cx="258.1" cy="313.0" rx="1.5" ry="0.5" fill-opacity="0.61"/><ellipse cx="301.3" cy="310.4" rx="1.1" ry="0.5" fill-opacity="0.94"/><ellipse cx="331.0" cy="296.2" rx="1.5" ry="0.7" fill-opacity="0.73"/><ellipse cx="297.5" cy="310.0" rx="1.4" ry="0.5" fill-opacity="0.69"/><ellipse cx="255.4" cy="303.1" rx="1.2" ry="0.8" fill-opacity="0.65"/><ellipse cx="324.4" cy="296.6" rx="1.5" ry="0.6" fill-opacity="0.62"/><ellipse cx="250.1" cy="316.6" rx="1.3" ry="0.8" fill-opacity="0.62"/><ellipse cx="264.1" cy="296.0" rx="1.5" ry="0.8" fill-opacity="0.94"/><ellipse cx="285.4" cy="302.0" rx="1.7" ry="0.5" fill-opacity="0.70"/><ellipse cx="311.2" cy="304.0" rx="2.0" ry="0.5" fill-opacity="0.78"/><ellipse cx="262.7" cy="303.7" rx="1.4" ry="0.6" fill-opacity="0.88"/><ellipse cx="281.3" cy="324.3" rx="0.9" ry="0.7" fill-opacity="0.80"/><ellipse cx="263.0" cy="319.8" rx="1.0" ry="0.8" fill-opacity="0.74"/><ellipse cx="258.4" cy="310.5" rx="1.4" ry="0.6" fill-opacity="0.63"/><ellipse cx="230.5" cy="312.1" rx="1.4" ry="0.6" fill-opacity="0.73"/><ellipse cx="322.9" cy="300.1" rx="1.2" ry="0.8" fill-opacity="0.74"/><ellipse cx="266.9" cy="293.5" rx="1.6" ry="0.7" fill-opacity="0.78"/><ellipse cx="267.3" cy="296.2" rx="1.7" ry="0.6" fill-opacity="0.93"/><ellipse cx="263.4" cy="315.0" rx="0.7" ry="0.5" fill-opacity="0.98"/><ellipse cx="302.3" cy="312.8" rx="1.3" ry="0.6" fill-opacity="0.68"/><ellipse cx="237.9" cy="311.7" rx="1.6" ry="0.6" fill-opacity="0.86"/><ellipse cx="233.2" cy="310.5" rx="0.9" ry="0.7" fill-opacity="0.73"/><ellipse cx="285.7" cy="292.4" rx="1.3" ry="0.7" fill-opacity="0.65"/><ellipse cx="255.0" cy="312.9" rx="1.4" ry="0.7" fill-opacity="0.91"/><ellipse cx="288.3" cy="295.8" rx="1.3" ry="0.8" fill-opacity="0.83"/><ellipse cx="311.3" cy="301.1" rx="1.3" ry="0.8" fill-opacity="0.93"/><ellipse cx="298.6" cy="291.4" rx="1.5" ry="0.5" fill-opacity="0.97"/><ellipse cx="249.8" cy="319.2" rx="0.9" ry="0.8" fill-opacity="0.81"/><ellipse cx="271.7" cy="318.6" rx="1.6" ry="0.7" fill-opacity="0.94"/><ellipse cx="241.7" cy="321.2" rx="1.1" ry="0.5" fill-opacity="0.73"/><ellipse cx="295.0" cy="291.9" rx="0.9" ry="0.6" fill-opacity="0.71"/><ellipse cx="271.7" cy="317.3" rx="1.1" ry="0.8" fill-opacity="0.92"/><ellipse cx="308.6" cy="296.0" rx="0.8" ry="0.8" fill-opacity="0.82"/><ellipse cx="293.5" cy="319.8" rx="0.9" ry="0.7" fill-opacity="0.79"/><ellipse cx="315.4" cy="304.5" rx="1.0" ry="0.8" fill-opacity="0.71"/><ellipse cx="310.2" cy="318.7" rx="1.0" ry="0.7" fill-opacity="0.76"/><ellipse cx="280.5" cy="306.2" rx="0.7" ry="0.8" fill-opacity="0.90"/><ellipse cx="326.8" cy="300.8" rx="1.0" ry="0.6" fill-opacity="0.89"/><ellipse cx="299.2" cy="302.7" rx="1.4" ry="0.5" fill-opacity="0.97"/><ellipse cx="275.7" cy="306.5" rx="1.7" ry="0.5" fill-opacity="0.89"/><ellipse cx="260.7" cy="317.9" rx="0.8" ry="0.6" fill-opacity="0.85"/><ellipse cx="277.0" cy="301.6" rx="1.5" ry="0.5" fill-opacity="0.77"/><ellipse cx="248.1" cy="318.6" rx="1.4" ry="0.7" fill-opacity="0.85"/><ellipse cx="231.9" cy="316.6" rx="1.1" ry="0.8" fill-opacity="0.91"/><ellipse cx="301.8" cy="318.1" rx="1.3" ry="0.7" fill-opacity="0.98"/><ellipse cx="268.1" cy="306.6" rx="0.9" ry="0.5" fill-opacity="0.95"/><ellipse cx="265.1" cy="293.0" rx="0.9" ry="0.7" fill-opacity="0.68"/><ellipse cx="276.1" cy="307.6" rx="1.3" ry="0.7" fill-opacity="0.93"/><ellipse cx="313.1" cy="308.8" rx="1.4" ry="0.5" fill-opacity="0.91"/><ellipse cx="254.8" cy="314.7" rx="1.0" ry="0.7" fill-opacity="0.86"/><ellipse cx="263.0" cy="305.4" rx="0.8" ry="0.7" fill-opacity="0.88"/><ellipse cx="235.4" cy="308.1" rx="1.7" ry="0.5" fill-opacity="0.94"/><ellipse cx="326.1" cy="289.3" rx="1.0" ry="0.5" fill-opacity="0.70"/><ellipse cx="247.7" cy="298.7" rx="1.3" ry="0.6" fill-opacity="0.92"/><ellipse cx="307.4" cy="291.7" rx="1.0" ry="0.5" fill-opacity="0.73"/><ellipse cx="229.7" cy="313.6" rx="1.7" ry="0.8" fill-opacity="0.68"/><ellipse cx="268.1" cy="322.4" rx="1.2" ry="0.6" fill-opacity="0.63"/><ellipse cx="271.7" cy="303.8" rx="1.7" ry="0.8" fill-opacity="0.79"/><ellipse cx="238.5" cy="302.7" rx="1.9" ry="0.6" fill-opacity="0.86"/><ellipse cx="286.8" cy="304.7" rx="1.4" ry="0.5" fill-opacity="0.82"/><ellipse cx="325.4" cy="290.4" rx="1.2" ry="0.8" fill-opacity="0.99"/><ellipse cx="296.0" cy="319.1" rx="1.3" ry="0.5" fill-opacity="0.72"/><ellipse cx="306.2" cy="314.8" rx="1.0" ry="0.7" fill-opacity="0.86"/><ellipse cx="299.2" cy="288.2" rx="1.3" ry="0.6" fill-opacity="0.84"/><ellipse cx="258.6" cy="292.2" rx="1.6" ry="0.6" fill-opacity="0.92"/><ellipse cx="254.7" cy="307.9" rx="1.8" ry="0.5" fill-opacity="0.89"/><ellipse cx="224.6" cy="322.6" rx="0.7" ry="0.7" fill-opacity="0.75"/><ellipse cx="238.7" cy="302.3" rx="1.4" ry="0.6" fill-opacity="0.65"/><ellipse cx="282.1" cy="298.7" rx="2.0" ry="0.6" fill-opacity="0.77"/><ellipse cx="244.8" cy="323.8" rx="1.1" ry="0.7" fill-opacity="0.93"/><ellipse cx="265.7" cy="315.8" rx="1.1" ry="0.5" fill-opacity="0.62"/><ellipse cx="272.8" cy="320.3" rx="1.0" ry="0.6" fill-opacity="0.91"/><ellipse cx="250.9" cy="293.1" rx="1.4" ry="0.6" fill-opacity="0.98"/><ellipse cx="329.5" cy="296.4" rx="1.4" ry="0.6" fill-opacity="0.61"/><ellipse cx="272.2" cy="321.8" rx="1.1" ry="0.7" fill-opacity="0.88"/><ellipse cx="224.0" cy="322.1" rx="0.8" ry="0.6" fill-opacity="0.89"/><ellipse cx="281.5" cy="292.5" rx="1.8" ry="0.6" fill-opacity="0.70"/><ellipse cx="246.5" cy="319.0" rx="0.8" ry="0.7" fill-opacity="0.64"/><ellipse cx="291.6" cy="319.9" rx="0.8" ry="0.5" fill-opacity="0.88"/><ellipse cx="290.3" cy="314.5" rx="1.1" ry="0.6" fill-opacity="0.67"/><ellipse cx="271.3" cy="298.0" rx="1.5" ry="0.6" fill-opacity="0.71"/><ellipse cx="297.3" cy="290.6" rx="1.7" ry="0.6" fill-opacity="0.69"/><ellipse cx="279.7" cy="314.5" rx="1.2" ry="0.6" fill-opacity="0.96"/><ellipse cx="250.6" cy="324.3" rx="1.9" ry="0.8" fill-opacity="0.98"/><ellipse cx="248.5" cy="318.0" rx="1.5" ry="0.5" fill-opacity="1.00"/></g>
<polygon points="252.4,327.6 343.0,327.6 307.7,365.5 216.0,365.5" fill="#000" />
<g clip-path="url(#c14)" fill="#fff"><ellipse cx="298.3" cy="358.3" rx="2.1" ry="0.7" fill-opacity="0.99"/><ellipse cx="294.3" cy="335.0" rx="2.0" ry="1.0" fill-opacity="0.95"/><ellipse cx="299.9" cy="331.6" rx="2.0" ry="1.0" fill-opacity="0.98"/><ellipse cx="270.0" cy="341.8" rx="2.2" ry="1.0" fill-opacity="0.98"/><ellipse cx="267.1" cy="349.2" rx="2.0" ry="0.8" fill-opacity="1.00"/><ellipse cx="322.6" cy="336.7" rx="2.3" ry="1.0" fill-opacity="1.00"/><ellipse cx="250.0" cy="357.4" rx="2.0" ry="0.8" fill-opacity="0.97"/><ellipse cx="288.1" cy="335.6" rx="1.8" ry="0.7" fill-opacity="0.96"/><ellipse cx="307.1" cy="336.1" rx="2.4" ry="0.8" fill-opacity="0.99"/><ellipse cx="254.4" cy="337.7" rx="1.9" ry="0.7" fill-opacity="0.97"/><ellipse cx="264.2" cy="328.1" rx="2.4" ry="0.9" fill-opacity="0.95"/><ellipse cx="228.6" cy="354.5" rx="2.1" ry="0.9" fill-opacity="0.96"/><ellipse cx="252.4" cy="364.4" rx="1.8" ry="1.1" fill-opacity="0.99"/><ellipse cx="231.8" cy="359.7" rx="1.4" ry="1.0" fill-opacity="0.99"/><ellipse cx="304.3" cy="348.4" rx="2.4" ry="0.8" fill-opacity="0.98"/><ellipse cx="249.8" cy="342.7" rx="1.6" ry="1.0" fill-opacity="0.98"/><ellipse cx="315.0" cy="351.4" rx="2.1" ry="1.1" fill-opacity="0.99"/><ellipse cx="288.0" cy="340.0" rx="2.5" ry="0.8" fill-opacity="0.96"/><ellipse cx="258.3" cy="354.4" rx="2.5" ry="1.0" fill-opacity="0.98"/><ellipse cx="272.6" cy="345.1" rx="2.3" ry="0.8" fill-opacity="0.96"/><ellipse cx="294.7" cy="358.3" rx="1.7" ry="1.0" fill-opacity="0.99"/><ellipse cx="278.6" cy="340.3" rx="2.5" ry="1.1" fill-opacity="0.97"/><ellipse cx="316.7" cy="351.5" rx="1.6" ry="1.1" fill-opacity="0.96"/><ellipse cx="268.3" cy="363.8" rx="1.9" ry="1.0" fill-opacity="0.99"/><ellipse cx="290.5" cy="336.6" rx="1.8" ry="0.9" fill-opacity="0.97"/><ellipse cx="298.0" cy="346.8" rx="1.8" ry="0.9" fill-opacity="1.00"/><ellipse cx="241.7" cy="340.3" rx="1.4" ry="0.7" fill-opacity="0.95"/><ellipse cx="269.7" cy="359.3" rx="2.2" ry="1.1" fill-opacity="0.99"/><ellipse cx="290.4" cy="349.6" rx="1.4" ry="0.9" fill-opacity="0.96"/><ellipse cx="294.8" cy="330.1" rx="2.1" ry="0.9" fill-opacity="0.97"/><ellipse cx="267.4" cy="331.5" rx="2.3" ry="1.0" fill-opacity="0.98"/><ellipse cx="230.7" cy="350.3" rx="2.4" ry="1.1" fill-opacity="0.99"/><ellipse cx="221.8" cy="360.9" rx="2.2" ry="0.8" fill-opacity="1.00"/><ellipse cx="247.4" cy="349.5" rx="1.9" ry="0.8" fill-opacity="0.99"/><ellipse cx="294.3" cy="340.2" rx="2.1" ry="1.1" fill-opacity="0.98"/><ellipse cx="274.4" cy="348.5" rx="1.6" ry="0.8" fill-opacity="0.85"/><ellipse cx="276.7" cy="351.6" rx="1.4" ry="0.7" fill-opacity="0.98"/><ellipse cx="327.3" cy="329.9" rx="1.7" ry="0.5" fill-opacity="0.86"/><ellipse cx="317.6" cy="336.6" rx="1.2" ry="0.5" fill-opacity="0.88"/><ellipse cx="283.2" cy="350.6" rx="1.1" ry="0.7" fill-opacity="0.98"/><ellipse cx="247.4" cy="347.2" rx="1.2" ry="0.6" fill-opacity="0.92"/><ellipse cx="238.2" cy="348.8" rx="1.7" ry="0.8" fill-opacity="0.61"/><ellipse cx="250.4" cy="346.3" rx="1.9" ry="0.5" fill-opacity="0.94"/><ellipse cx="266.4" cy="348.4" rx="1.9" ry="0.5" fill-opacity="0.73"/><ellipse cx="254.6" cy="354.2" rx="1.5" ry="0.5" fill-opacity="0.92"/><ellipse cx="280.4" cy="333.0" rx="1.8" ry="0.8" fill-opacity="0.69"/><ellipse cx="228.4" cy="356.6" rx="1.7" ry="0.7" fill-opacity="0.93"/><ellipse cx="255.8" cy="353.5" rx="1.6" ry="0.8" fill-opacity="0.83"/><ellipse cx="251.0" cy="337.1" rx="1.4" ry="0.5" fill-opacity="0.94"/><ellipse cx="328.9" cy="336.8" rx="1.6" ry="0.7" fill-opacity="0.65"/><ellipse cx="314.9" cy="356.6" rx="1.1" ry="0.5" fill-opacity="0.71"/><ellipse cx="314.0" cy="345.3" rx="1.8" ry="0.5" fill-opacity="0.64"/><ellipse cx="260.3" cy="360.9" rx="0.9" ry="0.5" fill-opacity="0.90"/><ellipse cx="300.3" cy="360.7" rx="1.2" ry="0.6" fill-opacity="0.61"/><ellipse cx="259.3" cy="336.8" rx="1.7" ry="0.7" fill-opacity="0.91"/><ellipse cx="283.5" cy="354.1" rx="0.9" ry="0.6" fill-opacity="0.72"/><ellipse cx="251.8" cy="355.6" rx="1.0" ry="0.6" fill-opacity="0.71"/><ellipse cx="277.0" cy="342.0" rx="1.9" ry="0.8" fill-opacity="0.78"/><ellipse cx="288.0" cy="360.3" rx="1.0" ry="0.6" fill-opacity="0.64"/><ellipse cx="279.8" cy="356.7" rx="0.9" ry="0.6" fill-opacity="1.00"/><ellipse cx="277.1" cy="342.1" rx="1.8" ry="0.8" fill-opacity="0.75"/><ellipse cx="231.7" cy="351.7" rx="1.7" ry="0.8" fill-opacity="0.86"/><ellipse cx="255.1" cy="347.1" rx="1.1" ry="0.6" fill-opacity="0.79"/><ellipse cx="326.8" cy="343.3" rx="2.0" ry="0.5" fill-opacity="0.94"/><ellipse cx="320.1" cy="341.8" rx="1.8" ry="0.5" fill-opacity="0.90"/><ellipse cx="275.5" cy="343.2" rx="1.0" ry="0.8" fill-opacity="0.89"/><ellipse cx="227.3" cy="364.7" rx="1.0" ry="0.6" fill-opacity="0.77"/><ellipse cx="289.2" cy="361.3" rx="1.9" ry="0.7" fill-opacity="0.75"/><ellipse cx="281.9" cy="349.7" rx="1.3" ry="0.8" fill-opacity="0.77"/><ellipse cx="260.6" cy="343.4" rx="0.9" ry="0.8" fill-opacity="0.84"/><ellipse cx="284.9" cy="343.7" rx="1.0" ry="0.6" fill-opacity="0.80"/><ellipse cx="272.7" cy="364.7" rx="1.4" ry="0.5" fill-opacity="0.62"/><ellipse cx="246.0" cy="357.2" rx="1.3" ry="0.7" fill-opacity="0.81"/><ellipse cx="300.8" cy="353.7" rx="1.2" ry="0.8" fill-opacity="0.93"/><ellipse cx="254.3" cy="330.1" rx="1.4" ry="0.7" fill-opacity="0.69"/><ellipse cx="295.4" cy="338.2" rx="1.3" ry="0.5" fill-opacity="0.67"/><ellipse cx="239.0" cy="358.5" rx="1.3" ry="0.7" fill-opacity="0.74"/><ellipse cx="318.5" cy="350.2" rx="1.6" ry="0.6" fill-opacity="0.82"/><ellipse cx="240.2" cy="364.5" rx="1.6" ry="0.7" fill-opacity="0.86"/><ellipse cx="245.3" cy="359.6" rx="0.7" ry="0.6" fill-opacity="0.95"/><ellipse cx="315.4" cy="354.8" rx="1.1" ry="0.5" fill-opacity="0.88"/><ellipse cx="253.9" cy="355.0" rx="1.2" ry="0.8" fill-opacity="0.83"/><ellipse cx="264.1" cy="365.0" rx="0.7" ry="0.8" fill-opacity="0.61"/><ellipse cx="285.2" cy="342.3" rx="1.7" ry="0.6" fill-opacity="0.68"/><ellipse cx="315.6" cy="348.5" rx="1.7" ry="0.6" fill-opacity="0.61"/><ellipse cx="313.9" cy="335.9" rx="1.3" ry="0.5" fill-opacity="0.70"/><ellipse cx="300.5" cy="356.6" rx="1.5" ry="0.6" fill-opacity="0.89"/><ellipse cx="300.9" cy="335.4" rx="1.4" ry="0.7" fill-opacity="0.89"/><ellipse cx="241.1" cy="339.4" rx="1.1" ry="0.5" fill-opacity="0.74"/><ellipse cx="308.7" cy="349.5" rx="0.9" ry="0.7" fill-opacity="0.65"/><ellipse cx="311.4" cy="333.2" rx="0.8" ry="0.6" fill-opacity="0.81"/><ellipse cx="250.3" cy="361.1" rx="1.9" ry="0.6" fill-opacity="0.90"/><ellipse cx="304.3" cy="348.9" rx="1.0" ry="0.8" fill-opacity="0.98"/><ellipse cx="256.8" cy="335.1" rx="1.3" ry="0.8" fill-opacity="0.61"/><ellipse cx="322.1" cy="339.3" rx="0.7" ry="0.8" fill-opacity="0.71"/><ellipse cx="262.6" cy="332.1" rx="0.9" ry="0.6" fill-opacity="0.83"/><ellipse cx="272.7" cy="339.2" rx="1.4" ry="0.8" fill-opacity="0.89"/><ellipse cx="259.6" cy="362.4" rx="1.7" ry="0.7" fill-opacity="0.79"/><ellipse cx="257.9" cy="332.7" rx="1.9" ry="0.7" fill-opacity="0.64"/><ellipse cx="246.3" cy="347.9" rx="1.8" ry="0.6" fill-opacity="0.80"/><ellipse cx="300.5" cy="334.9" rx="1.5" ry="0.6" fill-opacity="0.99"/><ellipse cx="239.8" cy="354.5" rx="0.8" ry="0.6" fill-opacity="0.65"/><ellipse cx="234.9" cy="347.6" rx="0.9" ry="0.8" fill-opacity="0.64"/><ellipse cx="295.1" cy="360.2" rx="0.9" ry="0.5" fill-opacity="0.91"/><ellipse cx="275.7" cy="362.9" rx="1.1" ry="0.6" fill-opacity="0.98"/><ellipse cx="259.7" cy="364.2" rx="1.9" ry="0.5" fill-opacity="0.82"/><ellipse cx="335.5" cy="332.0" rx="1.8" ry="0.8" fill-opacity="0.90"/><ellipse cx="292.3" cy="331.4" rx="1.9" ry="0.5" fill-opacity="0.91"/><ellipse cx="307.9" cy="339.6" rx="1.6" ry="0.6" fill-opacity="0.90"/><ellipse cx="221.5" cy="363.0" rx="1.2" ry="0.8" fill-opacity="0.79"/><ellipse cx="319.2" cy="339.0" rx="1.4" ry="0.5" fill-opacity="0.80"/><ellipse cx="226.1" cy="360.2" rx="1.6" ry="0.6" fill-opacity="0.99"/><ellipse cx="308.4" cy="350.6" rx="0.7" ry="0.8" fill-opacity="0.78"/><ellipse cx="291.6" cy="358.5" rx="1.1" ry="0.5" fill-opacity="0.97"/><ellipse cx="233.4" cy="365.3" rx="1.7" ry="0.5" fill-opacity="0.66"/><ellipse cx="290.0" cy="332.6" rx="1.2" ry="0.8" fill-opacity="0.60"/><ellipse cx="269.2" cy="329.8" rx="2.0" ry="0.5" fill-opacity="0.98"/><ellipse cx="278.6" cy="346.2" rx="0.9" ry="0.7" fill-opacity="0.92"/><ellipse cx="232.7" cy="360.8" rx="1.2" ry="0.6" fill-opacity="0.70"/><ellipse cx="274.4" cy="352.1" rx="1.4" ry="0.8" fill-opacity="0.80"/><ellipse cx="281.1" cy="365.1" rx="1.0" ry="0.5" fill-opacity="0.73"/><ellipse cx="255.8" cy="332.3" rx="1.2" ry="0.5" fill-opacity="0.97"/><ellipse cx="277.5" cy="360.9" rx="1.6" ry="0.7" fill-opacity="0.90"/><ellipse cx="254.3" cy="355.2" rx="1.0" ry="0.7" fill-opacity="0.84"/><ellipse cx="314.5" cy="334.0" rx="1.1" ry="0.8" fill-opacity="0.92"/><ellipse cx="307.9" cy="355.9" rx="1.5" ry="0.8" fill-opacity="0.81"/><ellipse cx="287.4" cy="362.5" rx="1.5" ry="0.7" fill-opacity="0.84"/><ellipse cx="278.7" cy="356.3" rx="1.4" ry="0.5" fill-opacity="0.77"/><ellipse cx="269.5" cy="344.0" rx="1.4" ry="0.6" fill-opacity="0.76"/><ellipse cx="270.2" cy="341.7" rx="2.0" ry="0.5" fill-opacity="0.61"/><ellipse cx="307.6" cy="342.6" rx="1.3" ry="0.7" fill-opacity="0.75"/><ellipse cx="252.3" cy="345.2" rx="1.1" ry="0.5" fill-opacity="0.96"/><ellipse cx="322.2" cy="336.7" rx="1.0" ry="0.7" fill-opacity="0.92"/><ellipse cx="275.6" cy="342.3" rx="1.0" ry="0.8" fill-opacity="0.95"/><ellipse cx="325.0" cy="331.9" rx="1.5" ry="0.8" fill-opacity="0.89"/><ellipse cx="274.3" cy="333.1" rx="0.8" ry="0.7" fill-opacity="0.63"/><ellipse cx="318.7" cy="352.8" rx="1.3" ry="0.8" fill-opacity="0.97"/><ellipse cx="294.3" cy="331.4" rx="1.5" ry="0.6" fill-opacity="0.70"/><ellipse cx="259.5" cy="349.3" rx="1.1" ry="0.6" fill-opacity="0.93"/><ellipse cx="239.1" cy="354.9" rx="1.1" ry="0.8" fill-opacity="0.98"/><ellipse cx="257.6" cy="350.6" rx="0.8" ry="0.6" fill-opacity="0.85"/><ellipse cx="297.0" cy="340.6" rx="0.7" ry="0.5" fill-opacity="0.82"/><ellipse cx="294.5" cy="361.7" rx="1.4" ry="0.6" fill-opacity="0.83"/><ellipse cx="251.0" cy="357.2" rx="0.9" ry="0.6" fill-opacity="0.78"/><ellipse cx="331.3" cy="333.9" rx="1.0" ry="0.5" fill-opacity="0.69"/><ellipse cx="258.2" cy="342.6" rx="1.7" ry="0.6" fill-opacity="0.79"/><ellipse cx="266.3" cy="356.9" rx="1.9" ry="0.6" fill-opacity="0.97"/><ellipse cx="247.8" cy="364.7" rx="1.4" ry="0.7" fill-opacity="0.75"/><ellipse cx="250.5" cy="332.7" rx="1.9" ry="0.6" fill-opacity="0.88"/><ellipse cx="274.5" cy="347.6" rx="1.0" ry="0.5" fill-opacity="0.73"/><ellipse cx="302.6" cy="348.2" rx="0.7" ry="0.7" fill-opacity="0.77"/><ellipse cx="242.9" cy="358.8" rx="1.4" ry="0.6" fill-opacity="0.70"/><ellipse cx="253.0" cy="338.2" rx="1.2" ry="0.8" fill-opacity="0.92"/><ellipse cx="304.7" cy="361.1" rx="1.6" ry="0.5" fill-opacity="0.62"/><ellipse cx="283.1" cy="358.8" rx="1.5" ry="0.6" fill-opacity="0.70"/><ellipse cx="259.3" cy="329.3" rx="2.0" ry="0.6" fill-opacity="0.94"/><ellipse cx="230.9" cy="352.4" rx="1.2" ry="0.8" fill-opacity="0.72"/><ellipse cx="297.7" cy="353.4" rx="1.1" ry="0.6" fill-opacity="0.63"/><ellipse cx="341.1" cy="329.2" rx="1.5" ry="0.6" fill-opacity="0.67"/><ellipse cx="271.4" cy="362.9" rx="1.0" ry="0.5" fill-opacity="0.85"/><ellipse cx="299.4" cy="347.0" rx="0.9" ry="0.8" fill-opacity="0.64"/><ellipse cx="281.3" cy="345.7" rx="1.4" ry="0.7" fill-opacity="0.96"/><ellipse cx="275.5" cy="329.2" rx="1.8" ry="0.5" fill-opacity="0.73"/><ellipse cx="234.2" cy="350.4" rx="1.7" ry="0.5" fill-opacity="0.72"/><ellipse cx="229.8" cy="353.6" rx="1.7" ry="0.6" fill-opacity="0.66"/><ellipse cx="299.7" cy="339.7" rx="0.9" ry="0.5" fill-opacity="0.76"/><ellipse cx="286.0" cy="348.5" rx="1.2" ry="0.8" fill-opacity="0.64"/><ellipse cx="257.9" cy="363.0" rx="1.8" ry="0.8" fill-opacity="0.91"/><ellipse cx="284.0" cy="357.4" rx="1.4" ry="0.5" fill-opacity="0.70"/><ellipse cx="228.4" cy="360.8" rx="1.1" ry="0.6" fill-opacity="0.82"/><ellipse cx="228.8" cy="354.3" rx="1.7" ry="0.8" fill-opacity="0.95"/><ellipse cx="256.3" cy="333.1" rx="1.7" ry="0.7" fill-opacity="0.75"/><ellipse cx="259.6" cy="333.4" rx="1.8" ry="0.6" fill-opacity="0.92"/><ellipse cx="259.1" cy="339.8" rx="1.4" ry="0.7" fill-opacity="0.95"/><ellipse cx="260.9" cy="353.9" rx="1.2" ry="0.8" fill-opacity="0.90"/><ellipse cx="286.5" cy="341.3" rx="1.1" ry="0.8" fill-opacity="0.92"/><ellipse cx="254.8" cy="330.8" rx="1.0" ry="0.8" fill-opacity="0.62"/><ellipse cx="318.9" cy="347.6" rx="1.4" ry="0.7" fill-opacity="0.76"/><ellipse cx="286.8" cy="331.0" rx="1.9" ry="0.5" fill-opacity="0.66"/><ellipse cx="301.4" cy="351.9" rx="1.7" ry="0.7" fill-opacity="0.97"/><ellipse cx="246.1" cy="357.1" rx="0.9" ry="0.7" fill-opacity="0.91"/><ellipse cx="235.8" cy="347.6" rx="1.9" ry="0.7" fill-opacity="0.76"/><ellipse cx="276.8" cy="338.1" rx="1.9" ry="0.8" fill-opacity="0.87"/><ellipse cx="254.6" cy="355.3" rx="1.3" ry="0.8" fill-opacity="0.75"/><ellipse cx="273.2" cy="348.9" rx="1.7" ry="0.7" fill-opacity="0.98"/><ellipse cx="306.7" cy="346.1" rx="1.8" ry="0.5" fill-opacity="0.74"/><ellipse cx="306.7" cy="358.8" rx="1.2" ry="0.8" fill-opacity="0.86"/><ellipse cx="256.9" cy="337.5" rx="1.3" ry="0.5" fill-opacity="0.96"/><ellipse cx="322.5" cy="348.8" rx="1.3" ry="0.6" fill-opacity="0.84"/><ellipse cx="260.0" cy="364.6" rx="1.9" ry="0.7" fill-opacity="0.93"/><ellipse cx="259.9" cy="332.4" rx="1.2" ry="0.8" fill-opacity="0.93"/><ellipse cx="250.8" cy="329.7" rx="1.4" ry="0.6" fill-opacity="0.87"/><ellipse cx="287.3" cy="350.2" rx="1.1" ry="0.7" fill-opacity="0.88"/><ellipse cx="306.7" cy="345.5" rx="1.3" ry="0.6" fill-opacity="0.62"/><ellipse cx="275.2" cy="351.0" rx="0.9" ry="0.8" fill-opacity="0.95"/></g>
<polygon points="406.0,287.5 496.0,287.5 459.5,325.4 369.0,325.4" fill="#000" />
<g clip-path="url(#c15)" fill="#fff"><ellipse cx="431.0" cy="294.2" rx="0.5" ry="0.7" fill-opacity="0.60"/><ellipse cx="413.9" cy="300.7" rx="0.6" ry="0.4" fill-opacity="0.55"/><ellipse cx="411.9" cy="321.9" rx="0.5" ry="0.5" fill-opacity="0.35"/><ellipse cx="473.9" cy="289.9" rx="0.6" ry="0.7" fill-opacity="0.60"/><ellipse cx="487.9" cy="291.4" rx="0.5" ry="0.8" fill-opacity="0.46"/><ellipse cx="372.2" cy="323.4" rx="0.5" ry="0.6" fill-opacity="0.41"/><ellipse cx="442.3" cy="322.9" rx="0.8" ry="0.8" fill-opacity="0.38"/><ellipse cx="473.3" cy="288.2" rx="0.6" ry="0.8" fill-opacity="0.38"/></g>
<polygon points="405.5,327.8 497.0,327.8 460.0,365.4 369.0,365.4" fill="#000" />
<g clip-path="url(#c16)" fill="#fff"><ellipse cx="416.0" cy="349.7" rx="1.5" ry="1.1" fill-opacity="0.98"/><ellipse cx="381.2" cy="362.4" rx="1.3" ry="1.1" fill-opacity="0.97"/><ellipse cx="427.7" cy="357.7" rx="2.5" ry="1.2" fill-opacity="0.98"/><ellipse cx="404.2" cy="347.3" rx="2.5" ry="1.1" fill-opacity="0.98"/><ellipse cx="476.9" cy="343.2" rx="1.9" ry="1.1" fill-opacity="0.96"/><ellipse cx="478.9" cy="328.7" rx="1.4" ry="0.7" fill-opacity="0.66"/><ellipse cx="392.7" cy="343.3" rx="1.5" ry="0.6" fill-opacity="0.60"/><ellipse cx="380.8" cy="354.6" rx="0.9" ry="0.6" fill-opacity="0.92"/><ellipse cx="465.5" cy="350.3" rx="1.2" ry="0.5" fill-opacity="0.77"/><ellipse cx="399.4" cy="349.9" rx="2.0" ry="0.5" fill-opacity="0.63"/><ellipse cx="457.9" cy="331.8" rx="1.0" ry="0.6" fill-opacity="0.99"/><ellipse cx="410.5" cy="339.7" rx="1.3" ry="0.5" fill-opacity="0.76"/><ellipse cx="458.6" cy="340.0" rx="1.7" ry="0.5" fill-opacity="0.64"/><ellipse cx="449.3" cy="344.8" rx="1.9" ry="0.5" fill-opacity="0.90"/><ellipse cx="454.7" cy="341.7" rx="0.9" ry="0.7" fill-opacity="0.90"/><ellipse cx="429.5" cy="345.6" rx="1.6" ry="0.7" fill-opacity="0.77"/><ellipse cx="392.8" cy="345.2" rx="1.4" ry="0.8" fill-opacity="1.00"/><ellipse cx="440.3" cy="340.2" rx="1.0" ry="0.7" fill-opacity="0.90"/><ellipse cx="400.7" cy="353.8" rx="2.0" ry="0.6" fill-opacity="0.98"/><ellipse cx="424.9" cy="352.3" rx="1.8" ry="0.5" fill-opacity="0.74"/><ellipse cx="408.2" cy="345.7" rx="1.7" ry="0.7" fill-opacity="0.97"/><ellipse cx="454.7" cy="327.9" rx="0.8" ry="0.5" fill-opacity="0.77"/><ellipse cx="450.0" cy="335.4" rx="1.8" ry="0.6" fill-opacity="0.98"/><ellipse cx="414.8" cy="351.1" rx="1.4" ry="0.6" fill-opacity="0.91"/><ellipse cx="410.1" cy="361.0" rx="1.4" ry="0.5" fill-opacity="0.72"/><ellipse cx="447.0" cy="358.2" rx="0.8" ry="0.8" fill-opacity="0.76"/><ellipse cx="436.1" cy="343.6" rx="1.3" ry="0.8" fill-opacity="0.97"/><ellipse cx="458.6" cy="333.1" rx="0.7" ry="0.8" fill-opacity="0.87"/><ellipse cx="449.7" cy="339.6" rx="1.0" ry="0.8" fill-opacity="0.81"/><ellipse cx="413.7" cy="330.3" rx="2.0" ry="0.8" fill-opacity="0.93"/><ellipse cx="383.3" cy="355.1" rx="1.8" ry="0.8" fill-opacity="0.92"/><ellipse cx="380.9" cy="359.5" rx="1.8" ry="0.7" fill-opacity="0.69"/><ellipse cx="478.7" cy="332.3" rx="1.1" ry="0.5" fill-opacity="0.99"/><ellipse cx="422.1" cy="356.8" rx="1.7" ry="0.7" fill-opacity="0.99"/><ellipse cx="492.3" cy="330.9" rx="1.7" ry="0.5" fill-opacity="0.73"/><ellipse cx="412.7" cy="365.0" rx="0.8" ry="0.6" fill-opacity="0.65"/><ellipse cx="458.8" cy="347.4" rx="1.7" ry="0.6" fill-opacity="0.77"/><ellipse cx="464.3" cy="354.2" rx="1.9" ry="0.6" fill-opacity="0.94"/><ellipse cx="463.4" cy="349.4" rx="1.2" ry="0.7" fill-opacity="0.63"/><ellipse cx="460.8" cy="355.3" rx="1.5" ry="0.5" fill-opacity="0.89"/><ellipse cx="398.1" cy="349.0" rx="1.2" ry="0.6" fill-opacity="0.66"/><ellipse cx="488.4" cy="334.3" rx="1.0" ry="0.7" fill-opacity="0.62"/><ellipse cx="407.7" cy="348.1" rx="1.3" ry="0.8" fill-opacity="0.83"/><ellipse cx="450.6" cy="349.8" rx="1.7" ry="0.6" fill-opacity="0.60"/><ellipse cx="397.5" cy="352.5" rx="0.9" ry="0.5" fill-opacity="0.80"/><ellipse cx="417.9" cy="335.5" rx="0.7" ry="0.6" fill-opacity="0.70"/><ellipse cx="410.5" cy="343.4" rx="1.2" ry="0.6" fill-opacity="0.61"/><ellipse cx="432.1" cy="327.9" rx="1.0" ry="0.8" fill-opacity="0.78"/><ellipse cx="395.3" cy="358.6" rx="1.9" ry="0.5" fill-opacity="0.80"/><ellipse cx="440.8" cy="332.2" rx="1.1" ry="0.7" fill-opacity="0.87"/><ellipse cx="449.4" cy="351.1" rx="1.2" ry="0.5" fill-opacity="0.61"/><ellipse cx="484.9" cy="330.7" rx="1.7" ry="0.5" fill-opacity="0.74"/><ellipse cx="394.6" cy="360.1" rx="1.8" ry="0.8" fill-opacity="0.75"/><ellipse cx="442.5" cy="353.1" rx="1.0" ry="0.6" fill-opacity="0.64"/><ellipse cx="471.0" cy="334.7" rx="0.9" ry="0.6" fill-opacity="0.86"/><ellipse cx="450.6" cy="347.5" rx="1.8" ry="0.8" fill-opacity="0.68"/><ellipse cx="437.4" cy="334.2" rx="1.0" ry="0.5" fill-opacity="0.63"/><ellipse cx="413.8" cy="361.1" rx="1.6" ry="0.5" fill-opacity="0.69"/><ellipse cx="444.7" cy="347.7" rx="0.7" ry="0.5" fill-opacity="0.83"/><ellipse cx="446.0" cy="330.8" rx="1.7" ry="0.5" fill-opacity="0.84"/><ellipse cx="436.8" cy="340.6" rx="1.9" ry="0.6" fill-opacity="0.77"/><ellipse cx="438.2" cy="359.4" rx="2.0" ry="0.8" fill-opacity="0.82"/><ellipse cx="460.8" cy="351.8" rx="1.9" ry="0.8" fill-opacity="0.90"/><ellipse cx="396.7" cy="349.2" rx="1.3" ry="0.5" fill-opacity="0.91"/><ellipse cx="397.3" cy="354.5" rx="1.3" ry="0.6" fill-opacity="0.88"/><ellipse cx="402.8" cy="353.0" rx="1.3" ry="0.8" fill-opacity="0.78"/><ellipse cx="414.8" cy="328.8" rx="1.3" ry="0.7" fill-opacity="0.72"/><ellipse cx="425.8" cy="340.9" rx="1.4" ry="0.7" fill-opacity="0.76"/><ellipse cx="440.6" cy="364.3" rx="1.1" ry="0.6" fill-opacity="0.73"/><ellipse cx="464.0" cy="346.3" rx="1.7" ry="0.5" fill-opacity="0.65"/><ellipse cx="395.4" cy="341.7" rx="1.2" ry="0.6" fill-opacity="0.99"/><ellipse cx="425.2" cy="349.4" rx="2.0" ry="0.7" fill-opacity="0.84"/><ellipse cx="475.0" cy="340.4" rx="0.7" ry="0.8" fill-opacity="0.81"/><ellipse cx="443.5" cy="330.3" rx="1.7" ry="0.6" fill-opacity="0.86"/><ellipse cx="405.3" cy="362.3" rx="1.2" ry="0.6" fill-opacity="0.96"/></g>
<polygon points="95.0,415.0 184.0,415.0 148.0,453.0 57.0,453.0" fill="#000" />
<g clip-path="url(#c17)" fill="#fff"><ellipse cx="112" cy="417.8" rx="5" ry="1" fill-opacity="1"/><ellipse cx="121.2" cy="424.5" rx="3" ry="1.3" fill-opacity="1"/><ellipse cx="110.8" cy="430.2" rx="3" ry="1.1" fill-opacity="1"/><ellipse cx="153.7" cy="427.6" rx="2" ry="1" fill-opacity="0.9"/><ellipse cx="153.2" cy="435.4" rx="3" ry="1.2" fill-opacity="1"/><ellipse cx="77.1" cy="441.9" rx="3" ry="1" fill-opacity="1"/><ellipse cx="73.2" cy="445.2" rx="2.5" ry="0.9" fill-opacity="0.9"/><ellipse cx="123" cy="444.5" rx="3" ry="1.3" fill-opacity="1"/><ellipse cx="144.6" cy="443.7" rx="3" ry="1.1" fill-opacity="1"/><ellipse cx="133" cy="444.5" rx="1" ry="0.8" fill-opacity="0.8"/><ellipse cx="133" cy="422.4" rx="1" ry="0.8" fill-opacity="0.8"/><ellipse cx="160.2" cy="418.5" rx="1" ry="0.7" fill-opacity="0.8"/><ellipse cx="117.3" cy="452.5" rx="3" ry="1.5" fill-opacity="1"/><ellipse cx="100" cy="433" rx="0.8" ry="0.6" fill-opacity="0.5"/><ellipse cx="170" cy="425" rx="0.8" ry="0.6" fill-opacity="0.5"/><ellipse cx="85.3" cy="425.3" rx="0.7" ry="0.7" fill-opacity="0.33"/><ellipse cx="83.7" cy="445.2" rx="0.5" ry="0.5" fill-opacity="0.53"/><ellipse cx="147.5" cy="445.1" rx="0.6" ry="0.7" fill-opacity="0.41"/><ellipse cx="160.4" cy="432.9" rx="0.9" ry="0.5" fill-opacity="0.38"/><ellipse cx="76.1" cy="433.9" rx="0.5" ry="0.4" fill-opacity="0.56"/></g>
<polygon points="93.0,456.0 184.0,456.0 150.0,493.5 59.0,493.5" fill="#000" />
<g clip-path="url(#c18)" fill="#fff"><ellipse cx="130.7" cy="488.4" rx="2.8" ry="0.9" fill-opacity="0.84"/><ellipse cx="122.6" cy="478.9" rx="6.3" ry="1.3" fill-opacity="0.88"/><ellipse cx="65.3" cy="488.7" rx="2.8" ry="0.8" fill-opacity="0.74"/><ellipse cx="123.0" cy="477.8" rx="4.3" ry="0.9" fill-opacity="0.74"/><ellipse cx="148.8" cy="476.2" rx="3.5" ry="1.2" fill-opacity="0.98"/><ellipse cx="115.2" cy="465.6" rx="5.7" ry="1.2" fill-opacity="0.74"/><ellipse cx="122.3" cy="492.3" rx="6.4" ry="0.9" fill-opacity="0.73"/><ellipse cx="116.0" cy="475.4" rx="5.9" ry="0.7" fill-opacity="0.78"/><ellipse cx="182.1" cy="456.4" rx="5.1" ry="0.7" fill-opacity="0.93"/><ellipse cx="111.9" cy="490.7" rx="3.1" ry="1.2" fill-opacity="0.77"/><ellipse cx="148.6" cy="457.3" rx="4.6" ry="1.0" fill-opacity="0.73"/><ellipse cx="131.5" cy="472.7" rx="3.6" ry="1.2" fill-opacity="0.91"/><ellipse cx="138.6" cy="492.3" rx="6.8" ry="1.2" fill-opacity="0.74"/><ellipse cx="158.0" cy="484.6" rx="4.4" ry="1.3" fill-opacity="0.88"/><ellipse cx="75.2" cy="478.9" rx="5.1" ry="1.2" fill-opacity="0.70"/><ellipse cx="60.2" cy="492.5" rx="3.3" ry="0.8" fill-opacity="0.96"/><ellipse cx="72.9" cy="485.7" rx="6.5" ry="1.0" fill-opacity="0.88"/><ellipse cx="135.7" cy="484.9" rx="4.6" ry="0.7" fill-opacity="0.77"/><ellipse cx="140.6" cy="459.0" rx="2.5" ry="0.8" fill-opacity="0.94"/><ellipse cx="127.3" cy="469.4" rx="6.8" ry="1.0" fill-opacity="0.77"/><ellipse cx="129.7" cy="488.1" rx="3.8" ry="0.9" fill-opacity="0.87"/><ellipse cx="81.6" cy="477.8" rx="3.6" ry="0.9" fill-opacity="0.91"/><ellipse cx="98.3" cy="478.5" rx="6.1" ry="0.9" fill-opacity="0.89"/><ellipse cx="95.1" cy="465.6" rx="4.6" ry="1.0" fill-opacity="0.77"/><ellipse cx="154.6" cy="474.7" rx="3.8" ry="0.8" fill-opacity="0.95"/><ellipse cx="137.9" cy="456.9" rx="6.3" ry="1.1" fill-opacity="0.80"/><ellipse cx="114.2" cy="481.6" rx="2.8" ry="0.9" fill-opacity="0.94"/><ellipse cx="144.1" cy="478.0" rx="2.5" ry="0.8" fill-opacity="0.78"/><ellipse cx="130.6" cy="490.7" rx="4.8" ry="1.2" fill-opacity="0.84"/><ellipse cx="123.7" cy="466.5" rx="4.3" ry="1.3" fill-opacity="0.85"/><ellipse cx="83.7" cy="479.4" rx="4.5" ry="0.9" fill-opacity="0.98"/><ellipse cx="154.3" cy="459.3" rx="2.2" ry="1.1" fill-opacity="0.88"/><ellipse cx="140.6" cy="474.8" rx="2.2" ry="0.9" fill-opacity="0.95"/><ellipse cx="134.2" cy="457.7" rx="2.6" ry="1.2" fill-opacity="0.86"/><ellipse cx="79.6" cy="482.5" rx="6.6" ry="1.2" fill-opacity="0.89"/><ellipse cx="159.9" cy="459.3" rx="4.3" ry="1.2" fill-opacity="0.80"/><ellipse cx="77.0" cy="488.5" rx="5.5" ry="0.6" fill-opacity="0.72"/><ellipse cx="128.7" cy="491.8" rx="5.1" ry="1.2" fill-opacity="0.73"/><ellipse cx="131.0" cy="462.8" rx="3.7" ry="0.7" fill-opacity="0.84"/><ellipse cx="139.8" cy="489.9" rx="5.8" ry="0.7" fill-opacity="0.96"/><ellipse cx="126.9" cy="491.1" rx="4.5" ry="0.7" fill-opacity="0.91"/><ellipse cx="80.7" cy="492.9" rx="4.7" ry="1.2" fill-opacity="0.85"/><ellipse cx="99.8" cy="480.8" rx="5.5" ry="0.9" fill-opacity="0.78"/><ellipse cx="111.5" cy="482.8" rx="3.1" ry="0.7" fill-opacity="0.85"/><ellipse cx="141.2" cy="458.5" rx="3.4" ry="1.3" fill-opacity="0.78"/><ellipse cx="155.5" cy="467.5" rx="2.4" ry="0.9" fill-opacity="0.96"/><ellipse cx="156.1" cy="457.8" rx="5.5" ry="1.0" fill-opacity="0.84"/><ellipse cx="142.1" cy="475.6" rx="2.9" ry="1.1" fill-opacity="0.74"/><ellipse cx="97.7" cy="487.9" rx="4.8" ry="1.0" fill-opacity="0.91"/><ellipse cx="120.6" cy="470.4" rx="4.8" ry="0.6" fill-opacity="0.81"/><ellipse cx="63.9" cy="493.3" rx="6.5" ry="1.1" fill-opacity="0.75"/><ellipse cx="165.9" cy="466.6" rx="6.0" ry="1.1" fill-opacity="0.88"/><ellipse cx="151.7" cy="466.0" rx="6.2" ry="1.0" fill-opacity="0.93"/><ellipse cx="164.0" cy="465.5" rx="4.1" ry="0.9" fill-opacity="0.72"/><ellipse cx="120.2" cy="476.4" rx="6.4" ry="0.6" fill-opacity="0.81"/><ellipse cx="144.8" cy="476.1" rx="4.5" ry="0.8" fill-opacity="0.77"/><ellipse cx="142.8" cy="468.8" rx="6.7" ry="1.2" fill-opacity="0.99"/><ellipse cx="93.6" cy="475.3" rx="2.5" ry="0.9" fill-opacity="0.72"/><ellipse cx="121.7" cy="491.9" rx="5.8" ry="0.9" fill-opacity="0.78"/><ellipse cx="175.4" cy="458.0" rx="6.2" ry="1.2" fill-opacity="0.72"/><ellipse cx="107.6" cy="471.9" rx="5.0" ry="1.0" fill-opacity="0.96"/><ellipse cx="170.9" cy="468.2" rx="2.0" ry="1.1" fill-opacity="0.89"/><ellipse cx="140.9" cy="458.8" rx="2.4" ry="1.2" fill-opacity="0.81"/><ellipse cx="118.1" cy="492.5" rx="3.0" ry="1.0" fill-opacity="0.72"/><ellipse cx="129.1" cy="483.7" rx="2.8" ry="1.1" fill-opacity="0.99"/><ellipse cx="127.4" cy="486.9" rx="6.0" ry="1.0" fill-opacity="0.90"/><ellipse cx="99.7" cy="488.2" rx="5.9" ry="0.8" fill-opacity="1.00"/><ellipse cx="100.0" cy="458.9" rx="6.7" ry="0.9" fill-opacity="0.82"/><ellipse cx="165.9" cy="476.0" rx="5.2" ry="0.9" fill-opacity="0.84"/><ellipse cx="124.7" cy="473.9" rx="2.7" ry="0.7" fill-opacity="0.85"/><ellipse cx="158.8" cy="472.2" rx="2.3" ry="1.3" fill-opacity="0.74"/><ellipse cx="169.5" cy="457.7" rx="5.2" ry="0.7" fill-opacity="0.78"/><ellipse cx="111.7" cy="484.3" rx="4.2" ry="0.9" fill-opacity="0.82"/><ellipse cx="124.1" cy="466.5" rx="6.8" ry="0.7" fill-opacity="0.74"/><ellipse cx="127.6" cy="469.2" rx="5.6" ry="0.6" fill-opacity="0.90"/><ellipse cx="104.5" cy="490.8" rx="3.5" ry="0.9" fill-opacity="0.80"/><ellipse cx="125.7" cy="466.5" rx="5.3" ry="0.9" fill-opacity="0.91"/><ellipse cx="95.4" cy="473.1" rx="4.8" ry="1.1" fill-opacity="0.90"/><ellipse cx="112.6" cy="459.2" rx="2.6" ry="0.7" fill-opacity="0.76"/><ellipse cx="81.9" cy="480.8" rx="3.7" ry="1.2" fill-opacity="0.77"/><ellipse cx="89.7" cy="462.9" rx="2.7" ry="1.1" fill-opacity="0.87"/><ellipse cx="90.4" cy="486.4" rx="5.4" ry="0.9" fill-opacity="0.88"/><ellipse cx="141.1" cy="472.5" rx="2.5" ry="0.9" fill-opacity="0.98"/><ellipse cx="105.7" cy="480.0" rx="2.4" ry="1.1" fill-opacity="0.96"/><ellipse cx="105.6" cy="470.0" rx="4.6" ry="0.8" fill-opacity="0.76"/><ellipse cx="75.1" cy="481.8" rx="4.5" ry="1.3" fill-opacity="0.99"/><ellipse cx="163.8" cy="456.9" rx="2.6" ry="1.3" fill-opacity="0.96"/><ellipse cx="136.0" cy="479.2" rx="4.2" ry="0.9" fill-opacity="0.74"/><ellipse cx="127.5" cy="466.3" rx="2.6" ry="1.2" fill-opacity="0.87"/><ellipse cx="168.5" cy="467.0" rx="4.9" ry="0.8" fill-opacity="0.95"/><ellipse cx="85.1" cy="480.3" rx="4.8" ry="0.8" fill-opacity="0.72"/><ellipse cx="119.8" cy="475.6" rx="6.1" ry="0.7" fill-opacity="0.76"/><ellipse cx="97.2" cy="486.1" rx="3.2" ry="1.0" fill-opacity="0.71"/><ellipse cx="69.3" cy="482.6" rx="4.5" ry="0.7" fill-opacity="0.84"/><ellipse cx="128.6" cy="471.8" rx="4.5" ry="0.6" fill-opacity="0.96"/><ellipse cx="131.5" cy="469.0" rx="3.4" ry="0.7" fill-opacity="0.98"/><ellipse cx="164.1" cy="470.2" rx="5.0" ry="1.0" fill-opacity="0.76"/><ellipse cx="79.3" cy="477.2" rx="2.1" ry="0.6" fill-opacity="0.75"/><ellipse cx="140.7" cy="479.0" rx="7.0" ry="1.1" fill-opacity="0.86"/><ellipse cx="60.6" cy="491.9" rx="4.4" ry="1.2" fill-opacity="0.71"/><ellipse cx="163.4" cy="473.8" rx="3.1" ry="0.9" fill-opacity="0.72"/><ellipse cx="131.6" cy="464.2" rx="5.5" ry="0.7" fill-opacity="0.91"/><ellipse cx="136.2" cy="482.7" rx="6.8" ry="0.8" fill-opacity="0.90"/><ellipse cx="108.7" cy="489.5" rx="6.1" ry="1.1" fill-opacity="0.88"/><ellipse cx="91.7" cy="490.0" rx="6.8" ry="1.3" fill-opacity="0.80"/><ellipse cx="115.8" cy="470.8" rx="6.0" ry="1.1" fill-opacity="0.86"/><ellipse cx="168.2" cy="457.2" rx="2.1" ry="0.9" fill-opacity="0.73"/><ellipse cx="164.3" cy="459.3" rx="6.4" ry="0.8" fill-opacity="0.74"/><ellipse cx="153.2" cy="481.4" rx="4.1" ry="1.0" fill-opacity="0.87"/><ellipse cx="126.5" cy="473.3" rx="4.1" ry="1.1" fill-opacity="0.73"/><ellipse cx="145.5" cy="490.8" rx="5.8" ry="1.0" fill-opacity="0.81"/><ellipse cx="126.4" cy="489.0" rx="6.3" ry="0.7" fill-opacity="0.92"/><ellipse cx="159.9" cy="474.0" rx="6.3" ry="0.7" fill-opacity="0.80"/><ellipse cx="123.3" cy="483.3" rx="4.2" ry="0.8" fill-opacity="0.96"/><ellipse cx="108.0" cy="471.7" rx="3.1" ry="0.9" fill-opacity="0.91"/><ellipse cx="104.2" cy="480.8" rx="4.5" ry="0.6" fill-opacity="0.99"/><ellipse cx="95.0" cy="476.5" rx="6.8" ry="0.7" fill-opacity="0.72"/><ellipse cx="165.4" cy="475.4" rx="2.2" ry="0.8" fill-opacity="0.85"/><ellipse cx="88.2" cy="478.4" rx="2.6" ry="1.0" fill-opacity="0.89"/><ellipse cx="97.7" cy="483.9" rx="5.1" ry="1.2" fill-opacity="0.88"/><ellipse cx="147.0" cy="486.4" rx="2.3" ry="0.9" fill-opacity="0.78"/><ellipse cx="117.4" cy="488.7" rx="4.8" ry="1.1" fill-opacity="0.93"/><ellipse cx="93.7" cy="479.2" rx="3.9" ry="0.9" fill-opacity="0.86"/><ellipse cx="142.4" cy="462.3" rx="6.2" ry="0.7" fill-opacity="0.79"/><ellipse cx="104.8" cy="491.7" rx="2.2" ry="1.3" fill-opacity="0.76"/><ellipse cx="79.2" cy="484.2" rx="2.0" ry="0.7" fill-opacity="0.81"/><ellipse cx="102.3" cy="483.7" rx="4.5" ry="1.3" fill-opacity="0.95"/><ellipse cx="80.4" cy="490.4" rx="6.5" ry="1.0" fill-opacity="0.86"/><ellipse cx="86.5" cy="463.4" rx="5.1" ry="0.8" fill-opacity="0.93"/><ellipse cx="130.6" cy="487.0" rx="2.4" ry="1.2" fill-opacity="0.85"/><ellipse cx="138.0" cy="464.9" rx="5.5" ry="0.9" fill-opacity="0.92"/><ellipse cx="132.0" cy="461.3" rx="3.5" ry="1.1" fill-opacity="0.70"/><ellipse cx="138.0" cy="476.5" rx="5.6" ry="0.8" fill-opacity="0.84"/><ellipse cx="118.6" cy="484.1" rx="2.4" ry="1.0" fill-opacity="0.78"/><ellipse cx="132.7" cy="465.7" rx="3.0" ry="0.8" fill-opacity="0.97"/><ellipse cx="104.4" cy="489.0" rx="5.7" ry="0.8" fill-opacity="0.87"/><ellipse cx="137.9" cy="460.2" rx="4.6" ry="0.9" fill-opacity="0.90"/><ellipse cx="95.2" cy="490.1" rx="5.1" ry="0.7" fill-opacity="0.95"/><ellipse cx="169.6" cy="467.4" rx="5.6" ry="1.2" fill-opacity="0.96"/><ellipse cx="67.8" cy="487.4" rx="3.2" ry="1.2" fill-opacity="0.91"/><ellipse cx="117.2" cy="489.8" rx="6.0" ry="1.3" fill-opacity="0.99"/><ellipse cx="130.7" cy="483.6" rx="5.4" ry="0.9" fill-opacity="0.85"/><ellipse cx="122.5" cy="464.1" rx="3.3" ry="1.2" fill-opacity="0.95"/><ellipse cx="146.2" cy="481.8" rx="4.6" ry="1.0" fill-opacity="0.90"/><ellipse cx="117.4" cy="458.9" rx="3.3" ry="1.2" fill-opacity="0.71"/><ellipse cx="167.5" cy="465.6" rx="6.7" ry="0.9" fill-opacity="0.84"/><ellipse cx="144.1" cy="460.1" rx="2.0" ry="0.8" fill-opacity="0.73"/><ellipse cx="162.0" cy="465.4" rx="6.8" ry="1.1" fill-opacity="0.76"/><ellipse cx="147.8" cy="467.9" rx="4.6" ry="0.7" fill-opacity="0.95"/><ellipse cx="157.4" cy="477.8" rx="5.5" ry="0.8" fill-opacity="0.74"/><ellipse cx="99.6" cy="483.7" rx="4.8" ry="0.7" fill-opacity="0.77"/><ellipse cx="118.4" cy="456.5" rx="2.2" ry="0.9" fill-opacity="0.74"/><ellipse cx="170.1" cy="460.8" rx="5.7" ry="1.2" fill-opacity="0.79"/><ellipse cx="126.8" cy="493.2" rx="5.1" ry="0.9" fill-opacity="0.99"/><ellipse cx="91.5" cy="491.8" rx="3.5" ry="0.9" fill-opacity="0.79"/><ellipse cx="140.5" cy="489.1" rx="5.4" ry="0.7" fill-opacity="1.00"/><ellipse cx="149.3" cy="475.0" rx="6.2" ry="0.7" fill-opacity="0.88"/><ellipse cx="157.2" cy="485.1" rx="5.4" ry="0.6" fill-opacity="0.84"/><ellipse cx="92.6" cy="478.8" rx="4.0" ry="0.9" fill-opacity="0.86"/><ellipse cx="132.5" cy="489.4" rx="3.4" ry="0.8" fill-opacity="0.76"/><ellipse cx="73.1" cy="487.9" rx="1.9" ry="0.5" fill-opacity="0.74"/><ellipse cx="97.0" cy="458.5" rx="1.0" ry="0.7" fill-opacity="0.61"/><ellipse cx="90.7" cy="473.7" rx="1.6" ry="0.5" fill-opacity="0.65"/><ellipse cx="100.3" cy="459.4" rx="0.9" ry="0.5" fill-opacity="0.92"/><ellipse cx="168.9" cy="457.6" rx="1.7" ry="0.8" fill-opacity="0.86"/><ellipse cx="96.5" cy="486.8" rx="0.8" ry="0.5" fill-opacity="0.98"/><ellipse cx="86.7" cy="490.3" rx="1.7" ry="0.5" fill-opacity="0.64"/><ellipse cx="139.8" cy="461.5" rx="1.6" ry="0.7" fill-opacity="0.69"/><ellipse cx="118.6" cy="463.9" rx="1.8" ry="0.7" fill-opacity="0.88"/><ellipse cx="136.7" cy="458.3" rx="1.9" ry="0.8" fill-opacity="0.81"/><ellipse cx="132.8" cy="474.5" rx="1.7" ry="0.7" fill-opacity="0.71"/><ellipse cx="123.5" cy="464.0" rx="0.7" ry="0.7" fill-opacity="0.95"/><ellipse cx="148.9" cy="463.8" rx="1.4" ry="0.7" fill-opacity="0.83"/><ellipse cx="116.5" cy="475.1" rx="1.6" ry="0.8" fill-opacity="0.81"/><ellipse cx="157.0" cy="481.5" rx="0.9" ry="0.6" fill-opacity="0.73"/><ellipse cx="103.3" cy="474.4" rx="1.1" ry="0.8" fill-opacity="0.89"/><ellipse cx="105.4" cy="482.2" rx="1.9" ry="0.5" fill-opacity="0.85"/><ellipse cx="99.0" cy="461.4" rx="1.7" ry="0.6" fill-opacity="0.74"/><ellipse cx="117.0" cy="483.3" rx="1.9" ry="0.8" fill-opacity="0.91"/><ellipse cx="81.0" cy="469.8" rx="0.7" ry="0.5" fill-opacity="0.74"/><ellipse cx="81.2" cy="473.9" rx="0.9" ry="0.7" fill-opacity="0.76"/><ellipse cx="89.9" cy="481.7" rx="1.1" ry="0.5" fill-opacity="0.94"/><ellipse cx="153.3" cy="488.9" rx="1.1" ry="0.6" fill-opacity="0.88"/><ellipse cx="77.3" cy="492.2" rx="1.5" ry="0.7" fill-opacity="0.62"/><ellipse cx="94.4" cy="471.9" rx="2.0" ry="0.5" fill-opacity="0.84"/><ellipse cx="68.7" cy="492.4" rx="1.7" ry="0.8" fill-opacity="0.90"/><ellipse cx="80.8" cy="490.5" rx="1.7" ry="0.6" fill-opacity="0.99"/><ellipse cx="106.7" cy="486.2" rx="0.8" ry="0.8" fill-opacity="0.82"/><ellipse cx="158.8" cy="468.6" rx="0.8" ry="0.5" fill-opacity="0.89"/><ellipse cx="122.4" cy="484.6" rx="1.0" ry="0.6" fill-opacity="0.68"/><ellipse cx="78.4" cy="483.2" rx="0.8" ry="0.6" fill-opacity="0.70"/><ellipse cx="154.6" cy="483.0" rx="1.6" ry="0.5" fill-opacity="0.62"/><ellipse cx="139.0" cy="482.0" rx="0.7" ry="0.8" fill-opacity="0.96"/><ellipse cx="104.2" cy="475.5" rx="1.5" ry="0.8" fill-opacity="0.86"/><ellipse cx="123.5" cy="484.8" rx="1.3" ry="0.5" fill-opacity="0.82"/><ellipse cx="110.7" cy="468.6" rx="1.2" ry="0.5" fill-opacity="0.72"/><ellipse cx="152.4" cy="489.2" rx="1.3" ry="0.8" fill-opacity="0.65"/><ellipse cx="123.5" cy="483.9" rx="1.7" ry="0.6" fill-opacity="0.67"/><ellipse cx="140.6" cy="469.0" rx="0.8" ry="0.7" fill-opacity="0.76"/><ellipse cx="153.4" cy="477.4" rx="1.7" ry="0.5" fill-opacity="1.00"/><ellipse cx="131.6" cy="478.4" rx="0.9" ry="0.5" fill-opacity="0.88"/><ellipse cx="149.8" cy="481.0" rx="1.0" ry="0.6" fill-opacity="0.91"/><ellipse cx="139.1" cy="490.1" rx="0.8" ry="0.8" fill-opacity="0.61"/><ellipse cx="137.1" cy="476.0" rx="0.8" ry="0.6" fill-opacity="0.87"/><ellipse cx="167.4" cy="458.9" rx="1.4" ry="0.8" fill-opacity="0.65"/><ellipse cx="101.8" cy="463.8" rx="0.9" ry="0.5" fill-opacity="0.77"/><ellipse cx="147.4" cy="491.1" rx="1.4" ry="0.8" fill-opacity="0.77"/><ellipse cx="141.2" cy="456.0" rx="1.2" ry="0.5" fill-opacity="0.65"/><ellipse cx="160.1" cy="460.3" rx="1.1" ry="0.7" fill-opacity="0.81"/><ellipse cx="143.6" cy="471.2" rx="0.8" ry="0.6" fill-opacity="0.75"/><ellipse cx="127.9" cy="492.0" rx="1.7" ry="0.5" fill-opacity="0.82"/><ellipse cx="103.7" cy="492.6" rx="1.6" ry="0.7" fill-opacity="0.70"/><ellipse cx="113.6" cy="475.8" rx="1.2" ry="0.7" fill-opacity="0.64"/><ellipse cx="111.6" cy="493.0" rx="1.2" ry="0.7" fill-opacity="0.90"/><ellipse cx="106.7" cy="482.7" rx="1.0" ry="0.7" fill-opacity="0.61"/><ellipse cx="103.0" cy="483.7" rx="0.7" ry="0.8" fill-opacity="0.64"/><ellipse cx="135.8" cy="487.5" rx="1.9" ry="0.6" fill-opacity="0.94"/><ellipse cx="140.0" cy="485.1" rx="0.9" ry="0.5" fill-opacity="0.81"/><ellipse cx="134.8" cy="481.8" rx="0.9" ry="0.7" fill-opacity="0.99"/><ellipse cx="90.6" cy="486.7" rx="1.9" ry="0.7" fill-opacity="0.78"/></g>
<polygon points="92.0,496.0 185.0,496.0 150.0,533.6 59.0,533.6" fill="#000" />
<g clip-path="url(#c19)" fill="#fff"><ellipse cx="111.7" cy="513.6" rx="2.1" ry="0.5" fill-opacity="0.78"/><ellipse cx="80.9" cy="529.8" rx="3.1" ry="1.0" fill-opacity="0.87"/><ellipse cx="148.6" cy="512.9" rx="2.6" ry="0.8" fill-opacity="0.79"/><ellipse cx="163.4" cy="497.6" rx="4.4" ry="0.7" fill-opacity="0.83"/><ellipse cx="127.3" cy="532.9" rx="6.0" ry="0.7" fill-opacity="0.99"/><ellipse cx="130.0" cy="503.4" rx="5.1" ry="0.8" fill-opacity="0.93"/><ellipse cx="146.6" cy="516.6" rx="2.1" ry="0.8" fill-opacity="0.72"/><ellipse cx="81.8" cy="532.9" rx="3.2" ry="0.6" fill-opacity="0.83"/><ellipse cx="87.8" cy="504.2" rx="4.4" ry="1.1" fill-opacity="0.70"/><ellipse cx="149.1" cy="517.9" rx="3.7" ry="0.8" fill-opacity="0.70"/><ellipse cx="103.3" cy="515.7" rx="3.0" ry="1.1" fill-opacity="0.80"/><ellipse cx="159.1" cy="514.5" rx="3.7" ry="1.0" fill-opacity="0.74"/><ellipse cx="120.9" cy="513.0" rx="5.8" ry="1.1" fill-opacity="0.82"/><ellipse cx="121.5" cy="499.9" rx="4.9" ry="0.8" fill-opacity="0.75"/><ellipse cx="169.5" cy="497.6" rx="2.4" ry="0.8" fill-opacity="1.00"/><ellipse cx="158.7" cy="508.6" rx="5.7" ry="0.5" fill-opacity="0.77"/><ellipse cx="98.0" cy="527.9" rx="2.0" ry="0.9" fill-opacity="0.97"/><ellipse cx="89.6" cy="523.6" rx="4.1" ry="0.6" fill-opacity="0.79"/><ellipse cx="67.3" cy="530.8" rx="4.9" ry="0.8" fill-opacity="0.99"/><ellipse cx="91.0" cy="503.2" rx="4.3" ry="0.9" fill-opacity="0.86"/><ellipse cx="156.5" cy="515.9" rx="2.9" ry="0.9" fill-opacity="0.98"/><ellipse cx="76.6" cy="524.1" rx="3.4" ry="1.0" fill-opacity="0.90"/><ellipse cx="134.1" cy="532.6" rx="5.1" ry="0.7" fill-opacity="0.73"/><ellipse cx="175.1" cy="498.4" rx="5.7" ry="1.1" fill-opacity="0.90"/><ellipse cx="153.0" cy="518.4" rx="2.5" ry="0.5" fill-opacity="0.92"/><ellipse cx="115.9" cy="500.7" rx="4.0" ry="0.7" fill-opacity="0.78"/><ellipse cx="153.3" cy="526.7" rx="3.5" ry="0.8" fill-opacity="0.83"/><ellipse cx="104.0" cy="525.3" rx="5.5" ry="0.7" fill-opacity="0.91"/><ellipse cx="145.3" cy="525.2" rx="3.0" ry="1.1" fill-opacity="0.92"/><ellipse cx="99.4" cy="524.6" rx="5.3" ry="0.6" fill-opacity="0.97"/><ellipse cx="113.7" cy="506.3" rx="3.2" ry="0.8" fill-opacity="0.86"/><ellipse cx="96.1" cy="498.3" rx="4.3" ry="0.9" fill-opacity="0.91"/><ellipse cx="109.0" cy="528.3" rx="1.6" ry="0.6" fill-opacity="0.71"/><ellipse cx="128.9" cy="515.7" rx="2.5" ry="0.8" fill-opacity="0.70"/><ellipse cx="63.6" cy="532.2" rx="5.5" ry="0.5" fill-opacity="0.90"/><ellipse cx="123.0" cy="516.2" rx="5.3" ry="0.9" fill-opacity="0.98"/><ellipse cx="144.9" cy="530.4" rx="2.0" ry="1.0" fill-opacity="0.80"/><ellipse cx="108.2" cy="515.7" rx="5.0" ry="0.5" fill-opacity="0.86"/><ellipse cx="130.6" cy="523.0" rx="3.0" ry="0.9" fill-opacity="0.92"/><ellipse cx="107.1" cy="521.6" rx="5.6" ry="0.7" fill-opacity="0.86"/><ellipse cx="120.0" cy="527.5" rx="2.7" ry="0.7" fill-opacity="0.82"/><ellipse cx="141.2" cy="501.8" rx="5.9" ry="0.8" fill-opacity="0.92"/><ellipse cx="111.0" cy="497.0" rx="3.2" ry="0.8" fill-opacity="0.73"/><ellipse cx="116.8" cy="497.1" rx="2.6" ry="0.7" fill-opacity="0.89"/><ellipse cx="80.9" cy="514.2" rx="2.7" ry="0.8" fill-opacity="0.91"/><ellipse cx="124.3" cy="524.2" rx="4.3" ry="0.6" fill-opacity="0.90"/><ellipse cx="120.0" cy="524.5" rx="5.7" ry="0.7" fill-opacity="0.96"/><ellipse cx="88.0" cy="520.4" rx="1.5" ry="1.0" fill-opacity="0.83"/><ellipse cx="116.3" cy="514.7" rx="3.2" ry="0.6" fill-opacity="0.91"/><ellipse cx="138.0" cy="498.0" rx="2.7" ry="1.1" fill-opacity="0.78"/><ellipse cx="96.0" cy="517.7" rx="3.2" ry="1.1" fill-opacity="0.99"/><ellipse cx="80.5" cy="512.7" rx="2.8" ry="0.9" fill-opacity="0.97"/><ellipse cx="104.8" cy="523.3" rx="5.9" ry="1.1" fill-opacity="0.83"/><ellipse cx="140.0" cy="501.0" rx="4.2" ry="1.0" fill-opacity="0.97"/><ellipse cx="155.1" cy="498.5" rx="4.3" ry="0.5" fill-opacity="0.92"/><ellipse cx="159.1" cy="508.1" rx="1.5" ry="0.9" fill-opacity="1.00"/><ellipse cx="137.2" cy="509.8" rx="3.0" ry="1.0" fill-opacity="0.99"/><ellipse cx="105.0" cy="504.3" rx="6.0" ry="0.8" fill-opacity="0.83"/><ellipse cx="98.2" cy="523.3" rx="5.9" ry="0.8" fill-opacity="0.96"/><ellipse cx="109.5" cy="511.9" rx="5.1" ry="1.1" fill-opacity="0.93"/><ellipse cx="147.8" cy="527.1" rx="5.6" ry="1.1" fill-opacity="0.86"/><ellipse cx="107.9" cy="496.3" rx="3.9" ry="0.7" fill-opacity="0.70"/><ellipse cx="176.4" cy="496.6" rx="3.1" ry="1.0" fill-opacity="0.90"/><ellipse cx="143.8" cy="514.4" rx="1.9" ry="1.0" fill-opacity="0.93"/><ellipse cx="119.2" cy="517.1" rx="5.1" ry="0.8" fill-opacity="0.84"/><ellipse cx="120.1" cy="523.7" rx="4.8" ry="0.7" fill-opacity="0.93"/><ellipse cx="106.3" cy="521.3" rx="3.2" ry="1.0" fill-opacity="0.98"/><ellipse cx="157.0" cy="510.3" rx="3.1" ry="0.8" fill-opacity="0.88"/><ellipse cx="176.0" cy="498.4" rx="5.5" ry="0.8" fill-opacity="1.00"/><ellipse cx="150.1" cy="523.0" rx="4.9" ry="0.8" fill-opacity="0.74"/><ellipse cx="149.9" cy="504.2" rx="3.7" ry="0.8" fill-opacity="0.81"/><ellipse cx="120.7" cy="513.2" rx="5.9" ry="0.9" fill-opacity="0.99"/><ellipse cx="173.5" cy="502.7" rx="5.0" ry="0.7" fill-opacity="0.88"/><ellipse cx="129.9" cy="523.8" rx="2.9" ry="0.9" fill-opacity="0.81"/><ellipse cx="157.6" cy="514.6" rx="4.4" ry="1.1" fill-opacity="0.78"/><ellipse cx="125.1" cy="520.3" rx="5.2" ry="1.0" fill-opacity="0.82"/><ellipse cx="150.6" cy="527.3" rx="3.1" ry="0.8" fill-opacity="0.81"/><ellipse cx="102.1" cy="511.5" rx="5.3" ry="0.5" fill-opacity="1.00"/><ellipse cx="158.6" cy="517.0" rx="4.4" ry="0.7" fill-opacity="0.93"/><ellipse cx="169.1" cy="510.4" rx="3.7" ry="0.6" fill-opacity="0.78"/><ellipse cx="115.3" cy="520.1" rx="2.3" ry="0.5" fill-opacity="0.81"/><ellipse cx="131.5" cy="502.9" rx="3.9" ry="0.7" fill-opacity="0.78"/><ellipse cx="152.2" cy="509.6" rx="4.8" ry="0.9" fill-opacity="0.81"/><ellipse cx="128.5" cy="517.8" rx="4.6" ry="0.8" fill-opacity="0.97"/><ellipse cx="60.1" cy="532.4" rx="4.3" ry="0.7" fill-opacity="0.97"/><ellipse cx="110.9" cy="517.6" rx="5.2" ry="0.6" fill-opacity="0.95"/><ellipse cx="98.1" cy="505.4" rx="1.7" ry="0.6" fill-opacity="0.78"/><ellipse cx="125.7" cy="531.3" rx="2.3" ry="0.7" fill-opacity="0.81"/><ellipse cx="139.6" cy="509.3" rx="4.5" ry="0.6" fill-opacity="0.71"/><ellipse cx="132.0" cy="523.2" rx="2.1" ry="0.5" fill-opacity="0.90"/><ellipse cx="67.3" cy="530.8" rx="4.6" ry="0.6" fill-opacity="0.82"/><ellipse cx="103.3" cy="529.0" rx="5.6" ry="1.0" fill-opacity="0.89"/><ellipse cx="132.6" cy="515.2" rx="4.5" ry="0.8" fill-opacity="0.82"/><ellipse cx="164.4" cy="507.3" rx="3.3" ry="0.9" fill-opacity="0.99"/><ellipse cx="102.4" cy="512.3" rx="3.3" ry="0.6" fill-opacity="0.81"/><ellipse cx="158.5" cy="503.1" rx="3.6" ry="0.7" fill-opacity="0.87"/><ellipse cx="156.4" cy="500.3" rx="3.7" ry="0.6" fill-opacity="0.89"/><ellipse cx="144.4" cy="504.3" rx="2.5" ry="0.7" fill-opacity="0.80"/><ellipse cx="158.7" cy="510.8" rx="3.6" ry="0.6" fill-opacity="0.84"/><ellipse cx="178.8" cy="499.4" rx="3.3" ry="0.6" fill-opacity="0.95"/><ellipse cx="97.0" cy="514.3" rx="1.7" ry="0.9" fill-opacity="0.85"/><ellipse cx="152.8" cy="505.9" rx="2.6" ry="0.9" fill-opacity="0.71"/><ellipse cx="121.2" cy="509.6" rx="1.8" ry="0.8" fill-opacity="0.93"/><ellipse cx="145.4" cy="513.7" rx="5.1" ry="0.7" fill-opacity="0.99"/><ellipse cx="169.0" cy="508.1" rx="3.9" ry="0.9" fill-opacity="0.84"/><ellipse cx="162.1" cy="505.5" rx="3.8" ry="0.8" fill-opacity="0.88"/><ellipse cx="115.5" cy="502.0" rx="5.3" ry="0.8" fill-opacity="0.92"/><ellipse cx="152.2" cy="519.4" rx="5.6" ry="0.5" fill-opacity="0.80"/><ellipse cx="79.6" cy="519.9" rx="2.5" ry="0.5" fill-opacity="0.74"/><ellipse cx="81.0" cy="516.3" rx="3.5" ry="0.8" fill-opacity="0.70"/><ellipse cx="125.6" cy="505.5" rx="1.9" ry="0.5" fill-opacity="0.75"/><ellipse cx="109.5" cy="502.3" rx="3.6" ry="0.6" fill-opacity="0.92"/><ellipse cx="169.4" cy="508.2" rx="1.8" ry="1.1" fill-opacity="0.73"/><ellipse cx="140.9" cy="524.4" rx="3.7" ry="1.0" fill-opacity="0.74"/><ellipse cx="149.8" cy="530.1" rx="5.5" ry="1.0" fill-opacity="0.83"/><ellipse cx="123.5" cy="527.9" rx="3.2" ry="0.7" fill-opacity="0.71"/><ellipse cx="103.4" cy="532.6" rx="4.6" ry="0.8" fill-opacity="0.73"/><ellipse cx="105.0" cy="506.9" rx="5.8" ry="0.8" fill-opacity="0.99"/><ellipse cx="93.0" cy="497.8" rx="5.5" ry="0.5" fill-opacity="0.94"/><ellipse cx="134.0" cy="506.7" rx="5.3" ry="0.8" fill-opacity="1.00"/><ellipse cx="129.3" cy="531.5" rx="5.7" ry="0.7" fill-opacity="0.91"/><ellipse cx="150.7" cy="520.6" rx="1.6" ry="0.9" fill-opacity="0.93"/><ellipse cx="72.4" cy="527.9" rx="3.4" ry="1.1" fill-opacity="0.92"/><ellipse cx="113.0" cy="502.9" rx="3.4" ry="0.9" fill-opacity="0.96"/><ellipse cx="171.4" cy="508.2" rx="1.6" ry="0.9" fill-opacity="0.91"/><ellipse cx="140.6" cy="526.2" rx="5.2" ry="0.9" fill-opacity="0.95"/><ellipse cx="74.8" cy="531.6" rx="4.5" ry="0.6" fill-opacity="0.75"/><ellipse cx="139.8" cy="507.5" rx="5.7" ry="0.7" fill-opacity="0.85"/><ellipse cx="122.5" cy="531.3" rx="2.9" ry="1.0" fill-opacity="0.92"/><ellipse cx="130.7" cy="531.6" rx="5.5" ry="0.9" fill-opacity="0.86"/><ellipse cx="141.0" cy="500.4" rx="4.4" ry="0.7" fill-opacity="0.82"/><ellipse cx="153.2" cy="512.8" rx="3.9" ry="1.1" fill-opacity="0.98"/><ellipse cx="135.6" cy="499.0" rx="5.6" ry="0.5" fill-opacity="0.74"/><ellipse cx="142.0" cy="503.4" rx="4.9" ry="0.9" fill-opacity="0.75"/><ellipse cx="141.8" cy="532.9" rx="5.1" ry="0.8" fill-opacity="0.95"/><ellipse cx="147.7" cy="509.8" rx="2.2" ry="0.8" fill-opacity="0.74"/><ellipse cx="118.8" cy="499.7" rx="4.8" ry="0.6" fill-opacity="0.98"/><ellipse cx="72.5" cy="519.7" rx="4.4" ry="0.6" fill-opacity="0.89"/><ellipse cx="128.2" cy="519.2" rx="2.3" ry="0.8" fill-opacity="0.95"/><ellipse cx="136.9" cy="505.2" rx="3.0" ry="1.0" fill-opacity="0.72"/><ellipse cx="119.2" cy="515.3" rx="3.4" ry="0.5" fill-opacity="0.73"/><ellipse cx="165.1" cy="513.1" rx="2.8" ry="0.8" fill-opacity="0.72"/><ellipse cx="69.2" cy="527.2" rx="4.9" ry="0.6" fill-opacity="0.80"/><ellipse cx="124.7" cy="524.3" rx="3.8" ry="1.0" fill-opacity="1.00"/><ellipse cx="130.5" cy="497.6" rx="2.1" ry="0.9" fill-opacity="0.74"/><ellipse cx="172.3" cy="498.0" rx="1.7" ry="1.1" fill-opacity="0.82"/><ellipse cx="128.9" cy="518.4" rx="2.0" ry="0.7" fill-opacity="0.81"/><ellipse cx="152.0" cy="525.4" rx="4.6" ry="0.6" fill-opacity="0.84"/><ellipse cx="174.4" cy="502.6" rx="3.1" ry="0.9" fill-opacity="1.00"/><ellipse cx="117.1" cy="515.9" rx="5.3" ry="0.6" fill-opacity="0.88"/><ellipse cx="98.9" cy="524.4" rx="4.7" ry="0.7" fill-opacity="0.75"/><ellipse cx="155.3" cy="522.4" rx="4.0" ry="0.9" fill-opacity="0.98"/><ellipse cx="89.8" cy="521.9" rx="5.1" ry="0.7" fill-opacity="0.97"/><ellipse cx="98.5" cy="531.9" rx="4.1" ry="1.1" fill-opacity="0.97"/><ellipse cx="157.5" cy="509.9" rx="3.6" ry="0.9" fill-opacity="0.94"/><ellipse cx="111.5" cy="529.8" rx="2.5" ry="0.8" fill-opacity="0.74"/><ellipse cx="137.1" cy="510.9" rx="5.1" ry="0.8" fill-opacity="0.91"/><ellipse cx="166.1" cy="501.1" rx="4.2" ry="0.7" fill-opacity="0.90"/><ellipse cx="109.2" cy="533.2" rx="4.9" ry="0.7" fill-opacity="0.80"/><ellipse cx="125.0" cy="527.8" rx="1.9" ry="1.0" fill-opacity="0.90"/><ellipse cx="133.7" cy="511.3" rx="3.2" ry="0.7" fill-opacity="0.91"/><ellipse cx="114.8" cy="522.8" rx="5.4" ry="0.6" fill-opacity="0.71"/><ellipse cx="177.6" cy="503.3" rx="5.2" ry="0.7" fill-opacity="0.77"/><ellipse cx="134.6" cy="498.0" rx="1.6" ry="0.7" fill-opacity="0.96"/><ellipse cx="153.5" cy="505.6" rx="3.3" ry="0.7" fill-opacity="0.91"/><ellipse cx="94.9" cy="509.4" rx="3.8" ry="0.6" fill-opacity="0.83"/><ellipse cx="153.2" cy="515.0" rx="1.8" ry="0.7" fill-opacity="0.87"/><ellipse cx="88.2" cy="510.6" rx="4.0" ry="0.7" fill-opacity="0.75"/><ellipse cx="169.2" cy="498.5" rx="5.6" ry="0.6" fill-opacity="0.87"/><ellipse cx="127.7" cy="511.4" rx="4.3" ry="1.0" fill-opacity="0.80"/><ellipse cx="154.0" cy="510.6" rx="3.0" ry="0.9" fill-opacity="0.87"/><ellipse cx="174.1" cy="502.0" rx="3.0" ry="0.9" fill-opacity="0.97"/><ellipse cx="117.8" cy="525.6" rx="2.0" ry="0.9" fill-opacity="0.80"/><ellipse cx="146.4" cy="507.2" rx="2.3" ry="0.7" fill-opacity="0.92"/><ellipse cx="148.8" cy="530.3" rx="3.4" ry="0.5" fill-opacity="0.94"/><ellipse cx="91.3" cy="523.0" rx="3.7" ry="0.8" fill-opacity="0.71"/><ellipse cx="87.6" cy="524.1" rx="3.6" ry="1.0" fill-opacity="0.94"/><ellipse cx="126.3" cy="533.0" rx="1.5" ry="0.7" fill-opacity="0.86"/><ellipse cx="65.8" cy="528.8" rx="2.2" ry="0.8" fill-opacity="0.78"/><ellipse cx="107.1" cy="513.5" rx="2.8" ry="0.6" fill-opacity="0.90"/><ellipse cx="137.9" cy="499.0" rx="5.9" ry="0.6" fill-opacity="0.77"/><ellipse cx="94.5" cy="509.7" rx="3.7" ry="1.0" fill-opacity="0.73"/><ellipse cx="131.3" cy="519.5" rx="2.7" ry="0.7" fill-opacity="0.83"/><ellipse cx="119.5" cy="498.6" rx="3.1" ry="1.0" fill-opacity="0.83"/><ellipse cx="108.2" cy="520.0" rx="1.7" ry="0.9" fill-opacity="0.91"/><ellipse cx="166.9" cy="505.9" rx="3.9" ry="0.7" fill-opacity="0.87"/><ellipse cx="108.3" cy="508.9" rx="5.7" ry="0.9" fill-opacity="1.00"/><ellipse cx="101.2" cy="513.5" rx="3.1" ry="1.0" fill-opacity="0.81"/><ellipse cx="144.7" cy="502.7" rx="3.9" ry="0.7" fill-opacity="0.97"/><ellipse cx="105.2" cy="531.8" rx="4.1" ry="0.7" fill-opacity="0.87"/><ellipse cx="162.9" cy="517.3" rx="4.3" ry="0.6" fill-opacity="0.95"/><ellipse cx="139.7" cy="520.4" rx="2.9" ry="1.0" fill-opacity="0.86"/><ellipse cx="99.4" cy="533.3" rx="5.0" ry="0.9" fill-opacity="0.95"/><ellipse cx="146.7" cy="510.5" rx="5.8" ry="1.0" fill-opacity="0.90"/><ellipse cx="113.8" cy="514.8" rx="1.7" ry="1.0" fill-opacity="0.95"/><ellipse cx="133.9" cy="513.5" rx="5.1" ry="0.5" fill-opacity="0.82"/><ellipse cx="90.6" cy="518.9" rx="3.1" ry="0.9" fill-opacity="0.97"/><ellipse cx="110.7" cy="500.3" rx="1.6" ry="1.0" fill-opacity="0.84"/><ellipse cx="114.6" cy="497.1" rx="2.0" ry="0.5" fill-opacity="0.97"/><ellipse cx="118.6" cy="517.6" rx="2.5" ry="0.9" fill-opacity="0.89"/><ellipse cx="96.3" cy="499.9" rx="1.1" ry="0.5" fill-opacity="0.61"/><ellipse cx="160.7" cy="506.4" rx="1.7" ry="0.8" fill-opacity="0.92"/><ellipse cx="135.1" cy="512.0" rx="1.8" ry="0.7" fill-opacity="0.74"/><ellipse cx="121.5" cy="513.7" rx="0.9" ry="0.7" fill-opacity="0.93"/><ellipse cx="141.4" cy="496.4" rx="1.2" ry="0.8" fill-opacity="0.65"/><ellipse cx="122.7" cy="521.7" rx="1.4" ry="0.6" fill-opacity="0.61"/><ellipse cx="147.7" cy="502.3" rx="1.5" ry="0.7" fill-opacity="0.89"/><ellipse cx="73.1" cy="532.6" rx="1.7" ry="0.8" fill-opacity="0.67"/><ellipse cx="149.8" cy="510.2" rx="1.6" ry="0.7" fill-opacity="0.76"/><ellipse cx="117.8" cy="522.9" rx="0.9" ry="0.8" fill-opacity="0.73"/><ellipse cx="170.8" cy="501.5" rx="0.9" ry="0.7" fill-opacity="0.70"/><ellipse cx="114.4" cy="503.5" rx="1.6" ry="0.7" fill-opacity="0.87"/><ellipse cx="132.4" cy="499.1" rx="1.6" ry="0.7" fill-opacity="0.97"/><ellipse cx="163.2" cy="515.1" rx="1.1" ry="0.5" fill-opacity="0.88"/><ellipse cx="142.9" cy="519.8" rx="1.4" ry="0.6" fill-opacity="0.97"/><ellipse cx="106.4" cy="501.3" rx="1.9" ry="0.8" fill-opacity="0.96"/><ellipse cx="78.6" cy="514.5" rx="1.3" ry="0.6" fill-opacity="0.91"/><ellipse cx="90.5" cy="532.5" rx="1.0" ry="0.6" fill-opacity="0.93"/><ellipse cx="88.5" cy="523.3" rx="1.1" ry="0.6" fill-opacity="0.79"/><ellipse cx="90.1" cy="527.0" rx="1.9" ry="0.8" fill-opacity="0.66"/><ellipse cx="152.3" cy="516.6" rx="1.9" ry="0.8" fill-opacity="0.87"/><ellipse cx="91.9" cy="511.1" rx="0.8" ry="0.6" fill-opacity="0.90"/><ellipse cx="98.8" cy="503.0" rx="1.4" ry="0.8" fill-opacity="0.86"/><ellipse cx="87.9" cy="526.5" rx="1.2" ry="0.6" fill-opacity="0.95"/><ellipse cx="96.4" cy="512.9" rx="2.0" ry="0.6" fill-opacity="0.82"/><ellipse cx="140.7" cy="508.6" rx="1.5" ry="0.6" fill-opacity="0.93"/><ellipse cx="129.2" cy="523.3" rx="1.4" ry="0.7" fill-opacity="0.76"/><ellipse cx="100.0" cy="496.5" rx="1.7" ry="0.7" fill-opacity="0.79"/><ellipse cx="147.8" cy="498.5" rx="0.9" ry="0.7" fill-opacity="0.62"/><ellipse cx="110.4" cy="508.9" rx="1.3" ry="0.8" fill-opacity="0.78"/><ellipse cx="149.7" cy="533.3" rx="1.7" ry="0.7" fill-opacity="0.90"/><ellipse cx="121.2" cy="517.8" rx="1.2" ry="0.8" fill-opacity="0.99"/><ellipse cx="130.6" cy="517.0" rx="0.8" ry="0.7" fill-opacity="0.97"/><ellipse cx="89.5" cy="525.1" rx="1.0" ry="0.7" fill-opacity="0.71"/><ellipse cx="134.0" cy="525.1" rx="0.7" ry="0.8" fill-opacity="0.81"/><ellipse cx="89.8" cy="507.6" rx="1.4" ry="0.7" fill-opacity="0.67"/><ellipse cx="138.9" cy="511.2" rx="1.7" ry="0.7" fill-opacity="0.75"/><ellipse cx="133.3" cy="501.5" rx="1.5" ry="0.7" fill-opacity="0.69"/><ellipse cx="143.0" cy="501.2" rx="2.0" ry="0.7" fill-opacity="0.97"/><ellipse cx="143.3" cy="504.1" rx="1.7" ry="0.7" fill-opacity="0.75"/><ellipse cx="146.3" cy="524.6" rx="1.6" ry="0.5" fill-opacity="0.99"/><ellipse cx="102.4" cy="503.2" rx="1.0" ry="0.6" fill-opacity="0.66"/><ellipse cx="88.9" cy="523.5" rx="0.7" ry="0.7" fill-opacity="0.76"/><ellipse cx="148.5" cy="505.7" rx="1.3" ry="0.5" fill-opacity="0.61"/><ellipse cx="167.9" cy="509.8" rx="1.1" ry="0.8" fill-opacity="0.75"/><ellipse cx="127.2" cy="501.3" rx="1.2" ry="0.8" fill-opacity="0.93"/><ellipse cx="75.4" cy="520.5" rx="1.4" ry="0.6" fill-opacity="0.88"/><ellipse cx="86.7" cy="518.9" rx="1.2" ry="0.5" fill-opacity="0.91"/><ellipse cx="82.2" cy="526.1" rx="1.7" ry="0.6" fill-opacity="0.78"/><ellipse cx="146.7" cy="509.9" rx="1.4" ry="0.6" fill-opacity="0.71"/><ellipse cx="79.5" cy="524.7" rx="1.3" ry="0.5" fill-opacity="0.95"/><ellipse cx="78.8" cy="517.0" rx="1.7" ry="0.5" fill-opacity="0.97"/><ellipse cx="147.5" cy="527.2" rx="1.2" ry="0.6" fill-opacity="0.64"/><ellipse cx="92.1" cy="528.7" rx="1.1" ry="0.8" fill-opacity="0.93"/><ellipse cx="175.0" cy="501.3" rx="1.2" ry="0.8" fill-opacity="0.72"/><ellipse cx="126.2" cy="516.7" rx="1.0" ry="0.6" fill-opacity="0.85"/><ellipse cx="80.8" cy="525.6" rx="1.8" ry="0.6" fill-opacity="0.65"/><ellipse cx="130.9" cy="507.1" rx="0.8" ry="0.7" fill-opacity="0.82"/><ellipse cx="93.2" cy="505.3" rx="1.6" ry="0.8" fill-opacity="0.74"/><ellipse cx="132.8" cy="504.3" rx="1.3" ry="0.7" fill-opacity="0.72"/><ellipse cx="135.2" cy="516.4" rx="0.8" ry="0.5" fill-opacity="0.77"/><ellipse cx="77.6" cy="516.5" rx="1.5" ry="0.7" fill-opacity="0.95"/><ellipse cx="135.6" cy="525.0" rx="0.9" ry="0.8" fill-opacity="0.97"/><ellipse cx="133.5" cy="527.1" rx="1.4" ry="0.6" fill-opacity="0.66"/><ellipse cx="119.6" cy="522.8" rx="1.7" ry="0.8" fill-opacity="0.81"/><ellipse cx="127.1" cy="525.1" rx="1.0" ry="0.5" fill-opacity="0.89"/><ellipse cx="83.1" cy="528.0" rx="1.4" ry="0.5" fill-opacity="0.81"/><ellipse cx="156.3" cy="504.4" rx="1.9" ry="0.5" fill-opacity="0.66"/><ellipse cx="133.9" cy="521.4" rx="1.5" ry="0.8" fill-opacity="0.68"/><ellipse cx="103.3" cy="510.9" rx="1.2" ry="0.8" fill-opacity="0.71"/><ellipse cx="146.2" cy="517.3" rx="1.1" ry="0.8" fill-opacity="0.70"/><ellipse cx="96.9" cy="503.2" rx="1.6" ry="0.7" fill-opacity="0.75"/><ellipse cx="73.8" cy="518.4" rx="1.1" ry="0.7" fill-opacity="0.86"/><ellipse cx="112.7" cy="527.3" rx="1.1" ry="0.8" fill-opacity="0.64"/><ellipse cx="173.1" cy="498.1" rx="1.5" ry="0.8" fill-opacity="0.89"/><ellipse cx="93.6" cy="525.0" rx="1.9" ry="0.5" fill-opacity="0.76"/><ellipse cx="156.1" cy="517.6" rx="1.9" ry="0.6" fill-opacity="0.78"/><ellipse cx="169.2" cy="505.8" rx="1.9" ry="0.8" fill-opacity="0.83"/><ellipse cx="97.0" cy="496.1" rx="0.9" ry="0.8" fill-opacity="0.98"/><ellipse cx="105.3" cy="530.2" rx="1.8" ry="0.7" fill-opacity="0.71"/><ellipse cx="92.2" cy="503.2" rx="1.4" ry="0.6" fill-opacity="0.69"/><ellipse cx="169.5" cy="509.9" rx="0.7" ry="0.5" fill-opacity="0.82"/><ellipse cx="137.0" cy="516.3" rx="1.0" ry="0.8" fill-opacity="0.99"/><ellipse cx="127.5" cy="511.6" rx="1.7" ry="0.5" fill-opacity="0.69"/><ellipse cx="115.8" cy="516.5" rx="2.0" ry="0.6" fill-opacity="0.60"/><ellipse cx="107.9" cy="529.0" rx="0.8" ry="0.7" fill-opacity="0.84"/><ellipse cx="164.7" cy="508.3" rx="1.5" ry="0.8" fill-opacity="0.99"/><ellipse cx="130.2" cy="508.7" rx="1.5" ry="0.7" fill-opacity="0.87"/><ellipse cx="144.1" cy="510.5" rx="1.6" ry="0.6" fill-opacity="0.69"/><ellipse cx="96.5" cy="510.0" rx="1.2" ry="0.8" fill-opacity="0.81"/><ellipse cx="128.2" cy="511.1" rx="1.4" ry="0.8" fill-opacity="0.81"/><ellipse cx="123.6" cy="509.2" rx="0.9" ry="0.5" fill-opacity="0.64"/><ellipse cx="94.8" cy="497.5" rx="1.2" ry="0.7" fill-opacity="0.65"/><ellipse cx="154.2" cy="513.0" rx="1.5" ry="0.6" fill-opacity="0.92"/><ellipse cx="144.6" cy="500.5" rx="1.4" ry="0.6" fill-opacity="0.90"/><ellipse cx="105.7" cy="504.4" rx="0.7" ry="0.8" fill-opacity="0.65"/><ellipse cx="90.7" cy="531.0" rx="0.8" ry="0.6" fill-opacity="0.77"/><ellipse cx="144.7" cy="525.4" rx="2.0" ry="0.6" fill-opacity="0.63"/><ellipse cx="92.9" cy="519.3" rx="1.9" ry="0.5" fill-opacity="0.71"/><ellipse cx="109.3" cy="498.7" rx="0.8" ry="0.5" fill-opacity="0.85"/></g>
<polygon points="253.6,455.8 343.0,455.8 305.8,493.6 215.6,493.6" fill="#000" />
<g clip-path="url(#c20)" fill="#fff"><ellipse cx="319.8" cy="455.9" rx="0.5" ry="0.6" fill-opacity="0.42"/><ellipse cx="309.3" cy="481.5" rx="0.6" ry="0.5" fill-opacity="0.43"/><ellipse cx="274.2" cy="490.9" rx="0.6" ry="0.6" fill-opacity="0.43"/><ellipse cx="277.1" cy="474.4" rx="0.7" ry="0.6" fill-opacity="0.50"/><ellipse cx="254.5" cy="474.5" rx="0.8" ry="0.7" fill-opacity="0.41"/></g>
<polygon points="253.6,496.2 343.6,496.2 305.0,534.3 216.6,534.3" fill="#000" />
<g clip-path="url(#c21)" fill="#fff"><ellipse cx="255.2" cy="503.0" rx="0.6" ry="0.6" fill-opacity="0.39"/><ellipse cx="249.1" cy="514.5" rx="0.6" ry="0.4" fill-opacity="0.43"/><ellipse cx="306.8" cy="503.6" rx="0.5" ry="0.4" fill-opacity="0.39"/><ellipse cx="302.3" cy="511.9" rx="0.6" ry="0.6" fill-opacity="0.31"/></g>
<polygon points="407.7,456.0 497.0,456.0 459.0,494.0 369.3,494.0" fill="#000" />
<g clip-path="url(#c22)" fill="#fff"><ellipse cx="426.2" cy="465.9" rx="0.5" ry="0.7" fill-opacity="0.45"/><ellipse cx="419.5" cy="459.2" rx="0.5" ry="0.7" fill-opacity="0.45"/><ellipse cx="420.4" cy="489.7" rx="0.6" ry="0.4" fill-opacity="0.34"/><ellipse cx="419.7" cy="474.3" rx="0.4" ry="0.8" fill-opacity="0.41"/><ellipse cx="442.2" cy="491.4" rx="0.7" ry="0.7" fill-opacity="0.47"/></g>
<polygon points="406.5,496.6 498.0,496.6 461.5,535.0 370.8,535.0" fill="#000" />
<g clip-path="url(#c23)" fill="#fff"><ellipse cx="455.4" cy="498.8" rx="0.5" ry="0.6" fill-opacity="0.38"/><ellipse cx="408.8" cy="514.7" rx="0.7" ry="0.5" fill-opacity="0.43"/><ellipse cx="400.4" cy="531.3" rx="0.7" ry="0.8" fill-opacity="0.38"/><ellipse cx="435.4" cy="508.9" rx="0.5" ry="0.8" fill-opacity="0.49"/><ellipse cx="433.1" cy="522.0" rx="0.8" ry="0.6" fill-opacity="0.48"/></g>
<text transform="matrix(0.32643,0,0,0.31541,4.29,23.20)" font-size="100.0" font-weight="bold" style='font-family:"Liberation Sans", sans-serif' fill="#000">A</text>
<text transform="matrix(0.26025,0,0,0.25191,69.23,23.35)" font-size="100.0" font-weight="bold" style='font-family:"Liberation Sans", sans-serif' fill="#000">Control</text>
<text transform="matrix(0.25963,0,0,0.24919,208.85,22.56)" font-size="100.0" font-weight="bold" style='font-family:"Liberation Sans", sans-serif' fill="#000">Anti-GP Ib</text>
<text transform="matrix(0.30860,0,0,0.26171,336.52,22.74)" font-size="100.0" font-weight="normal" style='font-family:"Liberation Serif", serif' fill="#000">α</text>
<text transform="matrix(0.26041,0,0,0.23998,388.35,23.09)" font-size="100.0" font-weight="bold" style='font-family:"Liberation Sans", sans-serif' fill="#000">Anti-</text>
<text transform="matrix(0.30860,0,0,0.24925,447.02,23.26)" font-size="100.0" font-weight="normal" style='font-family:"Liberation Serif", serif' fill="#000">α</text>
<text transform="matrix(0.15965,0,0,0.16204,463.23,27.04)" font-size="100.0" font-weight="bold" style='font-family:"Liberation Sans", sans-serif' fill="#000">IIb</text>
<text transform="matrix(0.24447,0,0,0.24031,483.60,24.21)" font-size="100.0" font-weight="normal" style='font-family:"Liberation Sans", sans-serif' fill="#000">β</text>
<text transform="matrix(0.14887,0,0,0.14659,498.96,27.04)" font-size="100.0" font-weight="bold" style='font-family:"Liberation Sans", sans-serif' fill="#000">3</text>
<line x1="39.50" y1="72.60" x2="39.50" y2="155.80" stroke="#000" stroke-width="2" />
<line x1="38.50" y1="73.60" x2="46.50" y2="73.60" stroke="#000" stroke-width="2" />
<text transform="matrix(0.20600,0,0,0.20600,10.43,80.90)" font-size="100.0" font-weight="bold" style='font-family:"Liberation Sans", sans-serif' fill="#000"> 6</text><path transform="matrix(0.010059,0,0,-0.010059,10.431,80.900)" fill="#000" d="M495 0L793 0L793 1409L566 1409C540 1300 430 1205 156 1185L156 986L495 986Z"/>
<line x1="38.50" y1="113.80" x2="46.50" y2="113.80" stroke="#000" stroke-width="2" />
<text transform="matrix(0.20600,0,0,0.20600,21.78,121.10)" font-size="100.0" font-weight="bold" style='font-family:"Liberation Sans", sans-serif' fill="#000">8</text>
<line x1="38.50" y1="154.80" x2="46.50" y2="154.80" stroke="#000" stroke-width="2" />
<text transform="matrix(0.20600,0,0,0.20600,21.99,162.10)" font-size="100.0" font-weight="bold" style='font-family:"Liberation Sans", sans-serif' fill="#000">0</text>
<line x1="39.50" y1="242.00" x2="39.50" y2="366.60" stroke="#000" stroke-width="2" />
<line x1="38.50" y1="243.00" x2="46.50" y2="243.00" stroke="#000" stroke-width="2" />
<text transform="matrix(0.20600,0,0,0.20600,9.80,250.30)" font-size="100.0" font-weight="bold" style='font-family:"Liberation Sans", sans-serif' fill="#000">24</text>
<line x1="38.50" y1="284.00" x2="46.50" y2="284.00" stroke="#000" stroke-width="2" />
<text transform="matrix(0.20600,0,0,0.20600,10.43,291.30)" font-size="100.0" font-weight="bold" style='font-family:"Liberation Sans", sans-serif' fill="#000"> 6</text><path transform="matrix(0.010059,0,0,-0.010059,10.431,291.300)" fill="#000" d="M495 0L793 0L793 1409L566 1409C540 1300 430 1205 156 1185L156 986L495 986Z"/>
<line x1="38.50" y1="324.60" x2="46.50" y2="324.60" stroke="#000" stroke-width="2" />
<text transform="matrix(0.20600,0,0,0.20600,21.78,331.90)" font-size="100.0" font-weight="bold" style='font-family:"Liberation Sans", sans-serif' fill="#000">8</text>
<line x1="38.50" y1="365.60" x2="46.50" y2="365.60" stroke="#000" stroke-width="2" />
<text transform="matrix(0.20600,0,0,0.20600,21.99,372.90)" font-size="100.0" font-weight="bold" style='font-family:"Liberation Sans", sans-serif' fill="#000">0</text>
<line x1="39.50" y1="452.40" x2="39.50" y2="534.60" stroke="#000" stroke-width="2" />
<line x1="38.50" y1="453.40" x2="46.50" y2="453.40" stroke="#000" stroke-width="2" />
<text transform="matrix(0.20600,0,0,0.20600,10.43,460.70)" font-size="100.0" font-weight="bold" style='font-family:"Liberation Sans", sans-serif' fill="#000"> 6</text><path transform="matrix(0.010059,0,0,-0.010059,10.431,460.700)" fill="#000" d="M495 0L793 0L793 1409L566 1409C540 1300 430 1205 156 1185L156 986L495 986Z"/>
<line x1="38.50" y1="493.60" x2="46.50" y2="493.60" stroke="#000" stroke-width="2" />
<text transform="matrix(0.20600,0,0,0.20600,21.78,500.90)" font-size="100.0" font-weight="bold" style='font-family:"Liberation Sans", sans-serif' fill="#000">8</text>
<line x1="38.50" y1="533.60" x2="46.50" y2="533.60" stroke="#000" stroke-width="2" />
<text transform="matrix(0.20600,0,0,0.20600,21.99,540.90)" font-size="100.0" font-weight="bold" style='font-family:"Liberation Sans", sans-serif' fill="#000">0</text>
<text transform="matrix(0.27049,0,0,0.23928,22.61,562.48)" font-size="100.0" font-weight="normal" style='font-family:"Liberation Serif", serif' fill="#000">μ</text>
<text transform="matrix(0.24690,0,0,0.21372,36.16,563.00)" font-size="100.0" font-weight="normal" style='font-family:"Liberation Sans", sans-serif' fill="#000">m</text>
<line x1="109.60" y1="162.00" x2="145.00" y2="162.00" stroke="#000" stroke-width="2" />
<line x1="153.00" y1="157.00" x2="170.00" y2="139.50" stroke="#000" stroke-width="2" />
<text transform="matrix(0.18952,0,0,0.18503,86.26,184.92)" font-size="100.0" font-weight="bold" style='font-family:"Liberation Sans", sans-serif' fill="#000"> 00</text><path transform="matrix(0.009254,0,0,-0.009034,86.256,184.919)" fill="#000" d="M495 0L793 0L793 1409L566 1409C540 1300 430 1205 156 1185L156 986L495 986Z"/>
<text transform="matrix(0.21253,0,0,0.19618,124.28,185.40)" font-size="100.0" font-weight="normal" style='font-family:"Liberation Serif", serif' fill="#000">μ</text>
<text transform="matrix(0.19048,0,0,0.17268,135.54,185.50)" font-size="100.0" font-weight="bold" style='font-family:"Liberation Sans", sans-serif' fill="#000">m</text>
<text transform="matrix(0.22175,0,0,0.21610,304.41,179.69)" font-size="100.0" font-weight="bold" style='font-family:"Liberation Sans", sans-serif' fill="#000"> 00</text><path transform="matrix(0.010828,0,0,-0.010552,304.411,179.689)" fill="#000" d="M495 0L793 0L793 1409L566 1409C540 1300 430 1205 156 1185L156 986L495 986Z"/>
<text transform="matrix(0.27501,0,0,0.20608,345.53,179.70)" font-size="100.0" font-weight="bold" style='font-family:"Liberation Sans", sans-serif' fill="#000">s</text>
<text transform="matrix(0.17177,0,0,0.11192,361.13,171.40)" font-size="100.0" font-weight="bold" style='font-family:"Liberation Sans", sans-serif' fill="#000">- </text><path transform="matrix(0.008387,0,0,-0.005465,366.849,171.400)" fill="#000" d="M495 0L793 0L793 1409L566 1409C540 1300 430 1205 156 1185L156 986L495 986Z"/>
<text transform="matrix(0.22125,0,0,0.21988,305.19,388.25)" font-size="100.0" font-weight="bold" style='font-family:"Liberation Sans", sans-serif' fill="#000">300</text>
<text transform="matrix(0.27709,0,0,0.20790,346.23,388.30)" font-size="100.0" font-weight="bold" style='font-family:"Liberation Sans", sans-serif' fill="#000">s</text>
<text transform="matrix(0.15562,0,0,0.11192,361.99,379.80)" font-size="100.0" font-weight="bold" style='font-family:"Liberation Sans", sans-serif' fill="#000">- </text><path transform="matrix(0.007599,0,0,-0.005465,367.174,379.800)" fill="#000" d="M495 0L793 0L793 1409L566 1409C540 1300 430 1205 156 1185L156 986L495 986Z"/>
<text transform="matrix(0.24010,0,0,0.21751,310.77,560.09)" font-size="100.0" font-weight="bold" style='font-family:"Liberation Sans", sans-serif' fill="#000"> 500</text><path transform="matrix(0.011724,0,0,-0.010621,310.771,560.088)" fill="#000" d="M495 0L793 0L793 1409L566 1409C540 1300 430 1205 156 1185L156 986L495 986Z"/>
<text transform="matrix(0.25626,0,0,0.20608,367.40,560.10)" font-size="100.0" font-weight="bold" style='font-family:"Liberation Sans", sans-serif' fill="#000">s</text>
<text transform="matrix(0.16590,0,0,0.11337,382.35,552.10)" font-size="100.0" font-weight="bold" style='font-family:"Liberation Sans", sans-serif' fill="#000">- </text><path transform="matrix(0.008100,0,0,-0.005536,387.876,552.100)" fill="#000" d="M495 0L793 0L793 1409L566 1409C540 1300 430 1205 156 1185L156 986L495 986Z"/>
<rect x="212.50" y="194.30" width="280.30" height="82.70" fill="#fff" stroke="#2a2a2a" stroke-width="1.25"/>
<rect x="219.00" y="203.40" width="161.40" height="62.00" fill="#000" />
<g clip-path="url(#ins1)"><polygon points="350.0,212.0 380.4,212.0 380.4,265.4 259.0,265.4 262.0,258.0 270.0,245.0 284.0,232.0 296.0,225.0 312.0,218.0" fill="#fff" fill-opacity="0.16" filter="url(#blur3)"/><circle cx="312.0" cy="238.3" r="2.7" fill="url(#glow)" opacity="0.73"/><circle cx="334.4" cy="253.0" r="2.4" fill="url(#glow)" opacity="0.50"/><circle cx="357.0" cy="246.7" r="3.4" fill="url(#glow)" opacity="0.98"/><circle cx="337.4" cy="241.8" r="2.0" fill="url(#glow)" opacity="0.74"/><circle cx="361.1" cy="235.7" r="2.7" fill="url(#glow)" opacity="0.81"/><circle cx="380.5" cy="255.9" r="2.4" fill="url(#glow)" opacity="0.58"/><circle cx="305.5" cy="256.3" r="3.3" fill="url(#glow)" opacity="0.92"/><circle cx="314.2" cy="264.8" r="2.1" fill="url(#glow)" opacity="0.80"/><circle cx="353.1" cy="220.0" r="2.5" fill="url(#glow)" opacity="0.98"/><circle cx="279.0" cy="249.1" r="2.9" fill="url(#glow)" opacity="0.51"/><circle cx="377.3" cy="253.6" r="3.2" fill="url(#glow)" opacity="0.57"/><circle cx="304.7" cy="256.8" r="2.1" fill="url(#glow)" opacity="0.99"/><circle cx="330.8" cy="226.4" r="3.3" fill="url(#glow)" opacity="0.72"/><circle cx="327.4" cy="257.6" r="2.2" fill="url(#glow)" opacity="0.95"/><circle cx="358.0" cy="218.7" r="3.0" fill="url(#glow)" opacity="0.97"/><circle cx="279.8" cy="262.9" r="2.8" fill="url(#glow)" opacity="0.68"/><circle cx="285.0" cy="247.4" r="3.2" fill="url(#glow)" opacity="0.78"/><circle cx="362.4" cy="241.7" r="3.3" fill="url(#glow)" opacity="0.56"/><circle cx="367.3" cy="264.8" r="3.0" fill="url(#glow)" opacity="0.77"/><circle cx="347.0" cy="223.1" r="2.1" fill="url(#glow)" opacity="0.75"/><circle cx="347.9" cy="259.7" r="3.0" fill="url(#glow)" opacity="0.89"/><circle cx="370.3" cy="225.2" r="3.3" fill="url(#glow)" opacity="0.93"/><circle cx="307.6" cy="252.8" r="2.8" fill="url(#glow)" opacity="0.79"/><circle cx="303.2" cy="239.7" r="2.1" fill="url(#glow)" opacity="0.80"/><circle cx="380.2" cy="258.4" r="2.5" fill="url(#glow)" opacity="0.85"/><circle cx="328.2" cy="230.8" r="2.1" fill="url(#glow)" opacity="0.86"/><circle cx="284.0" cy="247.0" r="2.9" fill="url(#glow)" opacity="0.96"/><circle cx="340.4" cy="215.8" r="3.3" fill="url(#glow)" opacity="0.81"/><circle cx="310.7" cy="259.2" r="2.9" fill="url(#glow)" opacity="0.56"/><circle cx="309.3" cy="253.8" r="3.2" fill="url(#glow)" opacity="0.66"/><circle cx="328.5" cy="222.9" r="2.7" fill="url(#glow)" opacity="0.91"/><circle cx="333.8" cy="234.1" r="3.2" fill="url(#glow)" opacity="0.99"/><circle cx="326.9" cy="222.5" r="2.0" fill="url(#glow)" opacity="0.52"/><circle cx="334.3" cy="231.1" r="2.9" fill="url(#glow)" opacity="0.89"/><circle cx="375.8" cy="246.1" r="2.7" fill="url(#glow)" opacity="0.55"/><circle cx="342.9" cy="235.8" r="3.1" fill="url(#glow)" opacity="0.67"/><circle cx="354.8" cy="260.1" r="3.3" fill="url(#glow)" opacity="0.85"/><circle cx="369.7" cy="226.7" r="3.2" fill="url(#glow)" opacity="0.89"/><circle cx="374.0" cy="232.2" r="2.3" fill="url(#glow)" opacity="0.85"/><circle cx="358.1" cy="243.4" r="2.3" fill="url(#glow)" opacity="0.94"/><circle cx="378.5" cy="264.6" r="3.1" fill="url(#glow)" opacity="0.63"/><circle cx="369.7" cy="256.9" r="2.1" fill="url(#glow)" opacity="0.69"/><circle cx="324.3" cy="251.4" r="2.0" fill="url(#glow)" opacity="0.90"/><circle cx="297.2" cy="252.6" r="2.2" fill="url(#glow)" opacity="0.73"/><circle cx="346.2" cy="255.9" r="3.3" fill="url(#glow)" opacity="0.72"/><circle cx="321.4" cy="221.3" r="2.9" fill="url(#glow)" opacity="0.74"/><circle cx="361.3" cy="238.3" r="2.5" fill="url(#glow)" opacity="0.91"/><circle cx="377.0" cy="236.0" r="2.3" fill="url(#glow)" opacity="0.74"/><circle cx="318.4" cy="241.1" r="3.4" fill="url(#glow)" opacity="0.73"/><circle cx="305.5" cy="253.5" r="2.7" fill="url(#glow)" opacity="0.83"/><circle cx="375.6" cy="261.2" r="2.7" fill="url(#glow)" opacity="0.52"/><circle cx="309.6" cy="254.4" r="2.7" fill="url(#glow)" opacity="0.62"/><circle cx="271.3" cy="252.1" r="2.3" fill="url(#glow)" opacity="0.57"/><circle cx="341.6" cy="223.3" r="2.9" fill="url(#glow)" opacity="0.51"/><circle cx="310.0" cy="226.7" r="2.7" fill="url(#glow)" opacity="0.54"/><circle cx="321.7" cy="256.6" r="3.2" fill="url(#glow)" opacity="0.58"/><circle cx="348.3" cy="254.1" r="2.4" fill="url(#glow)" opacity="0.62"/><circle cx="346.5" cy="219.3" r="3.2" fill="url(#glow)" opacity="0.68"/><circle cx="341.0" cy="260.4" r="2.2" fill="url(#glow)" opacity="0.73"/><circle cx="350.5" cy="234.7" r="2.3" fill="url(#glow)" opacity="0.49"/><circle cx="319.9" cy="238.8" r="2.3" fill="url(#glow)" opacity="0.56"/><circle cx="313.2" cy="251.2" r="2.7" fill="url(#glow)" opacity="0.73"/><circle cx="309.2" cy="240.9" r="3.0" fill="url(#glow)" opacity="0.91"/><circle cx="334.3" cy="228.5" r="2.7" fill="url(#glow)" opacity="0.99"/><circle cx="348.8" cy="252.0" r="2.6" fill="url(#glow)" opacity="0.94"/><circle cx="365.9" cy="246.8" r="3.1" fill="url(#glow)" opacity="0.67"/><circle cx="335.5" cy="242.3" r="3.3" fill="url(#glow)" opacity="0.82"/><circle cx="297.6" cy="244.6" r="2.7" fill="url(#glow)" opacity="0.66"/><circle cx="381.0" cy="243.5" r="3.1" fill="url(#glow)" opacity="0.99"/><circle cx="286.6" cy="260.1" r="2.7" fill="url(#glow)" opacity="0.98"/><circle cx="326.6" cy="265.7" r="3.1" fill="url(#glow)" opacity="0.49"/><circle cx="330.3" cy="250.8" r="3.3" fill="url(#glow)" opacity="0.54"/><circle cx="308.0" cy="236.2" r="2.5" fill="url(#glow)" opacity="0.61"/><circle cx="337.5" cy="238.3" r="3.0" fill="url(#glow)" opacity="0.61"/><circle cx="274.7" cy="250.5" r="3.3" fill="url(#glow)" opacity="0.86"/><circle cx="315.2" cy="264.3" r="2.7" fill="url(#glow)" opacity="0.97"/><circle cx="346.1" cy="232.5" r="3.1" fill="url(#glow)" opacity="0.78"/><circle cx="307.9" cy="252.0" r="3.4" fill="url(#glow)" opacity="0.97"/><circle cx="347.5" cy="218.0" r="3.2" fill="url(#glow)" opacity="0.88"/><circle cx="333.7" cy="225.6" r="3.0" fill="url(#glow)" opacity="0.76"/><circle cx="329.6" cy="242.9" r="2.3" fill="url(#glow)" opacity="0.59"/><circle cx="308.6" cy="242.3" r="2.8" fill="url(#glow)" opacity="0.49"/><circle cx="334.5" cy="226.5" r="2.3" fill="url(#glow)" opacity="0.64"/><circle cx="348.8" cy="255.8" r="2.2" fill="url(#glow)" opacity="0.90"/><circle cx="333.6" cy="251.4" r="2.6" fill="url(#glow)" opacity="0.59"/><circle cx="357.0" cy="226.2" r="3.4" fill="url(#glow)" opacity="0.63"/><circle cx="324.1" cy="250.0" r="2.6" fill="url(#glow)" opacity="0.65"/><circle cx="267.2" cy="258.1" r="2.1" fill="url(#glow)" opacity="0.76"/><circle cx="316.1" cy="246.2" r="3.1" fill="url(#glow)" opacity="0.49"/><circle cx="281.9" cy="244.7" r="2.4" fill="url(#glow)" opacity="0.85"/><circle cx="342.4" cy="220.8" r="2.5" fill="url(#glow)" opacity="0.85"/><circle cx="326.7" cy="260.9" r="3.3" fill="url(#glow)" opacity="0.69"/><circle cx="356.2" cy="222.2" r="2.6" fill="url(#glow)" opacity="0.96"/><circle cx="367.7" cy="218.6" r="2.5" fill="url(#glow)" opacity="0.65"/><circle cx="304.8" cy="227.4" r="2.8" fill="url(#glow)" opacity="0.89"/><circle cx="323.1" cy="255.7" r="2.2" fill="url(#glow)" opacity="0.87"/><circle cx="366.0" cy="220.7" r="2.7" fill="url(#glow)" opacity="0.75"/><circle cx="326.5" cy="263.9" r="3.1" fill="url(#glow)" opacity="0.49"/><circle cx="323.9" cy="252.6" r="2.1" fill="url(#glow)" opacity="0.86"/><circle cx="320.7" cy="251.2" r="2.5" fill="url(#glow)" opacity="0.98"/><circle cx="339.7" cy="234.1" r="3.0" fill="url(#glow)" opacity="0.84"/><circle cx="339.0" cy="256.8" r="3.2" fill="url(#glow)" opacity="0.94"/><circle cx="375.7" cy="243.3" r="3.0" fill="url(#glow)" opacity="0.89"/><circle cx="308.1" cy="229.5" r="3.0" fill="url(#glow)" opacity="1.00"/><circle cx="336.6" cy="251.9" r="2.1" fill="url(#glow)" opacity="0.70"/><circle cx="328.6" cy="260.3" r="2.2" fill="url(#glow)" opacity="0.55"/><circle cx="329.9" cy="217.1" r="2.4" fill="url(#glow)" opacity="0.54"/><circle cx="350.4" cy="222.6" r="3.1" fill="url(#glow)" opacity="0.71"/><circle cx="287.8" cy="258.9" r="2.5" fill="url(#glow)" opacity="0.75"/><circle cx="375.6" cy="233.4" r="2.1" fill="url(#glow)" opacity="0.97"/><circle cx="356.0" cy="227.3" r="2.7" fill="url(#glow)" opacity="0.60"/><circle cx="379.8" cy="244.4" r="2.0" fill="url(#glow)" opacity="0.71"/><circle cx="301.8" cy="253.2" r="2.8" fill="url(#glow)" opacity="0.54"/><circle cx="364.5" cy="235.5" r="3.4" fill="url(#glow)" opacity="0.60"/><circle cx="314.1" cy="263.2" r="3.2" fill="url(#glow)" opacity="0.62"/><circle cx="323.5" cy="236.1" r="3.2" fill="url(#glow)" opacity="0.62"/><circle cx="313.9" cy="248.1" r="3.0" fill="url(#glow)" opacity="0.51"/><circle cx="304.7" cy="232.1" r="3.2" fill="url(#glow)" opacity="0.81"/><circle cx="284.9" cy="238.5" r="2.0" fill="url(#glow)" opacity="1.00"/><circle cx="339.0" cy="219.2" r="3.0" fill="url(#glow)" opacity="0.63"/><circle cx="374.1" cy="238.5" r="2.5" fill="url(#glow)" opacity="0.90"/><circle cx="340.4" cy="247.6" r="2.6" fill="url(#glow)" opacity="0.91"/><circle cx="319.5" cy="243.8" r="3.1" fill="url(#glow)" opacity="0.66"/><circle cx="296.8" cy="229.0" r="2.6" fill="url(#glow)" opacity="0.83"/><circle cx="378.7" cy="252.7" r="2.9" fill="url(#glow)" opacity="0.46"/><circle cx="354.4" cy="255.0" r="2.2" fill="url(#glow)" opacity="0.87"/><circle cx="368.8" cy="237.5" r="2.7" fill="url(#glow)" opacity="0.53"/><circle cx="344.9" cy="265.2" r="3.0" fill="url(#glow)" opacity="0.91"/><circle cx="279.8" cy="262.5" r="2.3" fill="url(#glow)" opacity="0.50"/><circle cx="296.5" cy="261.5" r="2.6" fill="url(#glow)" opacity="0.52"/><circle cx="323.5" cy="238.3" r="2.4" fill="url(#glow)" opacity="0.95"/><circle cx="380.0" cy="254.5" r="2.2" fill="url(#glow)" opacity="0.90"/><circle cx="291.4" cy="259.5" r="2.8" fill="url(#glow)" opacity="0.91"/><circle cx="373.4" cy="244.5" r="2.9" fill="url(#glow)" opacity="0.86"/><circle cx="303.1" cy="240.3" r="2.0" fill="url(#glow)" opacity="0.56"/><circle cx="288.2" cy="238.8" r="2.9" fill="url(#glow)" opacity="0.47"/><circle cx="330.6" cy="232.6" r="2.9" fill="url(#glow)" opacity="0.83"/><circle cx="350.5" cy="250.4" r="3.4" fill="url(#glow)" opacity="0.91"/><circle cx="362.7" cy="228.8" r="2.8" fill="url(#glow)" opacity="0.95"/><circle cx="321.3" cy="236.1" r="3.3" fill="url(#glow)" opacity="0.63"/><circle cx="347.2" cy="240.6" r="2.4" fill="url(#glow)" opacity="0.78"/><circle cx="318.3" cy="228.0" r="3.0" fill="url(#glow)" opacity="0.74"/><circle cx="308.1" cy="253.7" r="3.0" fill="url(#glow)" opacity="0.76"/><circle cx="357.7" cy="228.0" r="2.8" fill="url(#glow)" opacity="0.48"/><circle cx="317.8" cy="261.8" r="2.7" fill="url(#glow)" opacity="0.56"/><circle cx="292.2" cy="261.1" r="2.3" fill="url(#glow)" opacity="0.91"/><circle cx="299.6" cy="232.8" r="3.2" fill="url(#glow)" opacity="1.00"/><circle cx="280.5" cy="242.8" r="3.2" fill="url(#glow)" opacity="0.48"/><circle cx="368.4" cy="257.8" r="2.2" fill="url(#glow)" opacity="0.83"/><circle cx="373.2" cy="231.0" r="2.3" fill="url(#glow)" opacity="0.62"/><circle cx="344.5" cy="215.4" r="2.3" fill="url(#glow)" opacity="0.82"/><circle cx="354.6" cy="226.5" r="3.2" fill="url(#glow)" opacity="0.77"/><circle cx="339.0" cy="220.4" r="2.1" fill="url(#glow)" opacity="0.99"/><circle cx="310.5" cy="236.3" r="2.1" fill="url(#glow)" opacity="0.78"/><circle cx="278.5" cy="259.5" r="2.0" fill="url(#glow)" opacity="0.70"/><circle cx="349.6" cy="227.2" r="2.7" fill="url(#glow)" opacity="0.55"/><circle cx="325.1" cy="243.6" r="2.9" fill="url(#glow)" opacity="0.88"/><circle cx="320.1" cy="234.9" r="3.0" fill="url(#glow)" opacity="0.74"/><circle cx="310.5" cy="251.7" r="3.1" fill="url(#glow)" opacity="0.58"/><circle cx="345.1" cy="239.1" r="2.3" fill="url(#glow)" opacity="0.53"/><circle cx="323.4" cy="252.9" r="2.2" fill="url(#glow)" opacity="0.62"/><circle cx="321.2" cy="219.7" r="2.1" fill="url(#glow)" opacity="0.90"/><circle cx="342.0" cy="255.3" r="2.1" fill="url(#glow)" opacity="0.68"/><circle cx="292.6" cy="229.7" r="2.0" fill="url(#glow)" opacity="1.00"/><circle cx="351.2" cy="249.2" r="2.4" fill="url(#glow)" opacity="0.75"/><circle cx="342.5" cy="257.5" r="3.2" fill="url(#glow)" opacity="0.70"/><circle cx="304.5" cy="256.1" r="3.1" fill="url(#glow)" opacity="0.57"/><circle cx="313.9" cy="222.4" r="3.4" fill="url(#glow)" opacity="0.82"/><circle cx="363.7" cy="215.9" r="2.1" fill="url(#glow)" opacity="0.83"/><circle cx="371.4" cy="248.1" r="2.5" fill="url(#glow)" opacity="0.53"/><circle cx="373.0" cy="225.7" r="3.0" fill="url(#glow)" opacity="0.95"/><circle cx="352.1" cy="235.7" r="2.6" fill="url(#glow)" opacity="0.58"/><circle cx="287.8" cy="248.7" r="2.2" fill="url(#glow)" opacity="0.56"/><circle cx="290.3" cy="247.9" r="2.5" fill="url(#glow)" opacity="0.93"/><circle cx="334.4" cy="238.7" r="3.4" fill="url(#glow)" opacity="0.61"/><circle cx="339.5" cy="260.9" r="3.0" fill="url(#glow)" opacity="0.82"/><circle cx="375.3" cy="257.7" r="2.9" fill="url(#glow)" opacity="0.50"/><circle cx="308.9" cy="227.7" r="2.5" fill="url(#glow)" opacity="0.63"/><circle cx="317.6" cy="220.6" r="2.6" fill="url(#glow)" opacity="0.71"/><circle cx="276.0" cy="244.9" r="2.1" fill="url(#glow)" opacity="0.64"/><circle cx="343.4" cy="237.9" r="2.0" fill="url(#glow)" opacity="0.67"/><circle cx="314.1" cy="223.5" r="2.0" fill="url(#glow)" opacity="0.64"/><circle cx="367.4" cy="238.6" r="2.9" fill="url(#glow)" opacity="0.55"/><circle cx="314.1" cy="241.8" r="2.5" fill="url(#glow)" opacity="0.77"/><circle cx="373.7" cy="251.6" r="2.9" fill="url(#glow)" opacity="0.68"/><circle cx="340.7" cy="217.8" r="2.8" fill="url(#glow)" opacity="0.67"/><circle cx="324.1" cy="242.3" r="3.2" fill="url(#glow)" opacity="0.98"/><circle cx="294.5" cy="248.1" r="3.0" fill="url(#glow)" opacity="0.98"/><circle cx="316.8" cy="238.5" r="2.4" fill="url(#glow)" opacity="0.86"/><circle cx="322.3" cy="217.9" r="2.5" fill="url(#glow)" opacity="0.55"/><circle cx="318.9" cy="253.2" r="3.0" fill="url(#glow)" opacity="0.59"/><circle cx="345.2" cy="223.6" r="3.1" fill="url(#glow)" opacity="0.91"/><circle cx="359.4" cy="238.8" r="3.0" fill="url(#glow)" opacity="0.79"/><circle cx="359.7" cy="253.5" r="2.5" fill="url(#glow)" opacity="0.82"/><circle cx="328.8" cy="262.3" r="2.2" fill="url(#glow)" opacity="0.83"/><circle cx="307.8" cy="242.8" r="3.3" fill="url(#glow)" opacity="0.99"/><circle cx="380.2" cy="210.6" r="2.0" fill="url(#glow)" opacity="0.75"/><circle cx="315.9" cy="226.5" r="3.1" fill="url(#glow)" opacity="0.91"/><circle cx="351.4" cy="264.8" r="3.0" fill="url(#glow)" opacity="0.75"/><circle cx="268.5" cy="261.8" r="2.7" fill="url(#glow)" opacity="0.52"/><circle cx="367.5" cy="222.5" r="2.3" fill="url(#glow)" opacity="0.72"/><circle cx="316.0" cy="229.1" r="2.6" fill="url(#glow)" opacity="0.48"/><circle cx="324.4" cy="244.4" r="2.4" fill="url(#glow)" opacity="0.97"/><circle cx="363.9" cy="265.6" r="3.2" fill="url(#glow)" opacity="0.85"/><circle cx="349.9" cy="222.5" r="2.0" fill="url(#glow)" opacity="0.57"/><circle cx="357.1" cy="252.9" r="2.6" fill="url(#glow)" opacity="0.89"/><circle cx="267.7" cy="262.9" r="3.0" fill="url(#glow)" opacity="0.59"/><circle cx="337.8" cy="254.1" r="2.9" fill="url(#glow)" opacity="0.64"/><circle cx="290.2" cy="260.0" r="2.1" fill="url(#glow)" opacity="0.63"/><circle cx="323.8" cy="245.9" r="2.1" fill="url(#glow)" opacity="0.53"/><circle cx="299.1" cy="230.1" r="2.7" fill="url(#glow)" opacity="0.67"/><circle cx="295.5" cy="236.8" r="2.3" fill="url(#glow)" opacity="0.93"/><circle cx="295.4" cy="250.5" r="3.4" fill="url(#glow)" opacity="0.69"/><circle cx="340.3" cy="262.7" r="2.3" fill="url(#glow)" opacity="0.65"/><circle cx="302.6" cy="243.6" r="2.9" fill="url(#glow)" opacity="0.94"/><circle cx="362.9" cy="242.6" r="2.8" fill="url(#glow)" opacity="0.51"/><circle cx="360.5" cy="246.5" r="2.9" fill="url(#glow)" opacity="0.68"/><circle cx="327.2" cy="235.5" r="2.9" fill="url(#glow)" opacity="0.70"/><circle cx="329.8" cy="240.5" r="2.2" fill="url(#glow)" opacity="0.71"/><circle cx="380.1" cy="249.5" r="3.0" fill="url(#glow)" opacity="0.99"/><circle cx="305.7" cy="257.7" r="3.4" fill="url(#glow)" opacity="0.72"/><circle cx="284.5" cy="255.9" r="3.3" fill="url(#glow)" opacity="0.91"/><circle cx="286.6" cy="253.9" r="2.8" fill="url(#glow)" opacity="0.93"/><circle cx="362.7" cy="251.6" r="3.3" fill="url(#glow)" opacity="0.89"/><circle cx="304.0" cy="256.5" r="3.3" fill="url(#glow)" opacity="0.49"/><circle cx="365.4" cy="248.8" r="2.9" fill="url(#glow)" opacity="0.69"/><circle cx="334.3" cy="220.5" r="3.0" fill="url(#glow)" opacity="0.55"/><circle cx="331.9" cy="225.5" r="3.4" fill="url(#glow)" opacity="0.83"/><circle cx="347.8" cy="225.7" r="2.6" fill="url(#glow)" opacity="0.53"/><circle cx="334.5" cy="229.8" r="2.6" fill="url(#glow)" opacity="0.70"/><circle cx="318.8" cy="262.3" r="3.0" fill="url(#glow)" opacity="0.58"/><circle cx="328.0" cy="220.9" r="2.4" fill="url(#glow)" opacity="0.92"/><circle cx="340.3" cy="231.7" r="2.5" fill="url(#glow)" opacity="0.86"/><circle cx="330.8" cy="231.2" r="2.6" fill="url(#glow)" opacity="0.60"/><circle cx="310.6" cy="263.1" r="3.0" fill="url(#glow)" opacity="0.82"/><circle cx="298.0" cy="254.7" r="2.8" fill="url(#glow)" opacity="0.75"/><circle cx="267.5" cy="259.5" r="2.5" fill="url(#glow)" opacity="0.66"/><circle cx="346.1" cy="245.2" r="3.3" fill="url(#glow)" opacity="0.97"/><circle cx="300.6" cy="232.3" r="2.9" fill="url(#glow)" opacity="0.78"/><circle cx="304.8" cy="255.2" r="3.0" fill="url(#glow)" opacity="1.00"/><circle cx="337.7" cy="216.7" r="2.3" fill="url(#glow)" opacity="0.65"/><circle cx="333.5" cy="249.7" r="3.1" fill="url(#glow)" opacity="0.85"/><circle cx="322.5" cy="236.6" r="3.1" fill="url(#glow)" opacity="0.62"/><circle cx="292.0" cy="252.0" r="2.6" fill="url(#glow)" opacity="0.48"/><circle cx="312.9" cy="256.6" r="3.2" fill="url(#glow)" opacity="0.54"/><circle cx="377.3" cy="236.1" r="2.9" fill="url(#glow)" opacity="0.93"/><circle cx="376.4" cy="229.0" r="2.2" fill="url(#glow)" opacity="0.90"/><circle cx="347.5" cy="247.9" r="2.7" fill="url(#glow)" opacity="0.47"/><circle cx="336.0" cy="256.4" r="2.6" fill="url(#glow)" opacity="0.49"/><circle cx="296.4" cy="233.8" r="3.2" fill="url(#glow)" opacity="0.97"/><circle cx="326.6" cy="234.6" r="2.6" fill="url(#glow)" opacity="0.61"/><circle cx="348.2" cy="219.3" r="2.6" fill="url(#glow)" opacity="0.71"/><circle cx="300.2" cy="230.1" r="2.1" fill="url(#glow)" opacity="0.91"/><circle cx="284.0" cy="250.2" r="2.0" fill="url(#glow)" opacity="0.67"/><circle cx="376.1" cy="226.0" r="2.5" fill="url(#glow)" opacity="0.62"/><circle cx="331.8" cy="240.1" r="2.7" fill="url(#glow)" opacity="0.73"/><circle cx="308.6" cy="257.2" r="2.4" fill="url(#glow)" opacity="0.82"/><circle cx="354.3" cy="243.5" r="3.1" fill="url(#glow)" opacity="0.48"/><circle cx="333.7" cy="237.8" r="2.9" fill="url(#glow)" opacity="0.46"/><circle cx="372.7" cy="250.4" r="2.0" fill="url(#glow)" opacity="0.86"/><circle cx="307.7" cy="245.8" r="3.3" fill="url(#glow)" opacity="0.49"/><circle cx="353.5" cy="230.8" r="2.5" fill="url(#glow)" opacity="0.70"/><circle cx="360.1" cy="245.0" r="2.2" fill="url(#glow)" opacity="0.52"/><circle cx="294.1" cy="263.1" r="3.3" fill="url(#glow)" opacity="0.57"/><circle cx="307.3" cy="236.8" r="2.2" fill="url(#glow)" opacity="0.93"/><circle cx="302.6" cy="245.5" r="2.7" fill="url(#glow)" opacity="0.83"/><circle cx="303.9" cy="252.1" r="3.0" fill="url(#glow)" opacity="0.54"/><circle cx="320.5" cy="227.5" r="3.2" fill="url(#glow)" opacity="0.65"/><circle cx="328.6" cy="233.3" r="2.5" fill="url(#glow)" opacity="0.83"/><circle cx="327.4" cy="219.2" r="3.2" fill="url(#glow)" opacity="0.66"/><circle cx="345.3" cy="230.3" r="2.8" fill="url(#glow)" opacity="0.99"/><circle cx="369.6" cy="231.7" r="2.3" fill="url(#glow)" opacity="0.86"/><circle cx="324.5" cy="224.0" r="3.3" fill="url(#glow)" opacity="0.87"/><circle cx="328.4" cy="259.7" r="3.0" fill="url(#glow)" opacity="0.65"/><circle cx="374.8" cy="248.3" r="3.2" fill="url(#glow)" opacity="0.85"/><circle cx="322.7" cy="219.0" r="2.4" fill="url(#glow)" opacity="0.52"/><circle cx="316.1" cy="220.2" r="2.4" fill="url(#glow)" opacity="0.73"/><circle cx="362.7" cy="241.4" r="3.0" fill="url(#glow)" opacity="0.74"/><circle cx="338.2" cy="260.9" r="2.4" fill="url(#glow)" opacity="0.48"/><circle cx="373.0" cy="225.8" r="2.3" fill="url(#glow)" opacity="0.70"/><circle cx="301.7" cy="248.9" r="2.7" fill="url(#glow)" opacity="0.76"/><circle cx="264.0" cy="259.8" r="2.8" fill="url(#glow)" opacity="0.52"/><circle cx="341.3" cy="256.9" r="2.7" fill="url(#glow)" opacity="0.49"/><circle cx="299.6" cy="234.4" r="3.0" fill="url(#glow)" opacity="0.68"/><circle cx="325.3" cy="264.3" r="2.2" fill="url(#glow)" opacity="0.62"/><circle cx="297.3" cy="247.2" r="3.4" fill="url(#glow)" opacity="0.97"/><circle cx="341.4" cy="241.6" r="3.3" fill="url(#glow)" opacity="0.50"/><circle cx="320.4" cy="263.4" r="2.2" fill="url(#glow)" opacity="0.93"/><circle cx="359.5" cy="246.4" r="2.8" fill="url(#glow)" opacity="0.87"/><circle cx="306.4" cy="224.1" r="2.0" fill="url(#glow)" opacity="0.87"/><circle cx="288.0" cy="239.9" r="2.5" fill="url(#glow)" opacity="0.82"/><circle cx="315.4" cy="252.4" r="2.3" fill="url(#glow)" opacity="0.81"/><circle cx="287.8" cy="235.9" r="3.2" fill="url(#glow)" opacity="0.55"/><circle cx="346.5" cy="245.5" r="2.8" fill="url(#glow)" opacity="0.49"/><circle cx="351.2" cy="218.4" r="2.6" fill="url(#glow)" opacity="0.99"/><circle cx="379.8" cy="227.4" r="3.1" fill="url(#glow)" opacity="0.88"/><circle cx="297.6" cy="252.8" r="2.4" fill="url(#glow)" opacity="0.78"/><circle cx="348.4" cy="233.0" r="2.0" fill="url(#glow)" opacity="0.72"/><circle cx="376.0" cy="261.7" r="3.3" fill="url(#glow)" opacity="0.53"/><circle cx="345.0" cy="262.6" r="2.2" fill="url(#glow)" opacity="0.82"/><circle cx="225.4" cy="205.2" r="3.5" fill="url(#glow)" opacity="1"/><circle cx="221.3" cy="209.2" r="3.0" fill="url(#glow)" opacity="0.8"/><circle cx="229.4" cy="216.2" r="4.1" fill="url(#glow)" opacity="1"/><circle cx="221.3" cy="220.2" r="3.2" fill="url(#glow)" opacity="0.85"/><circle cx="237.5" cy="220.8" r="3.2" fill="url(#glow)" opacity="0.7"/><circle cx="222.5" cy="227.1" r="4.1" fill="url(#glow)" opacity="1"/><circle cx="227.7" cy="236.9" r="3.8" fill="url(#glow)" opacity="0.95"/><circle cx="221.9" cy="242.1" r="3.5" fill="url(#glow)" opacity="0.9"/><circle cx="242.0" cy="227.0" r="3.0" fill="url(#glow)" opacity="0.35"/><circle cx="238.0" cy="233.5" r="3.0" fill="url(#glow)" opacity="0.35"/><circle cx="232.0" cy="226.0" r="2.7" fill="url(#glow)" opacity="0.5"/><circle cx="225.0" cy="249.0" r="2.7" fill="url(#glow)" opacity="0.35"/><circle cx="233.0" cy="211.0" r="2.7" fill="url(#glow)" opacity="0.5"/><circle cx="220.5" cy="232.0" r="2.7" fill="url(#glow)" opacity="0.6"/><circle cx="230.0" cy="245.0" r="2.4" fill="url(#glow)" opacity="0.3"/><circle cx="262.3" cy="258.3" r="3.8" fill="url(#glow)" opacity="1"/><circle cx="271.5" cy="256.5" r="3.5" fill="url(#glow)" opacity="0.9"/><circle cx="272.7" cy="248.5" r="3.2" fill="url(#glow)" opacity="0.8"/><circle cx="339.0" cy="208.0" r="3.5" fill="url(#glow)" opacity="1"/><circle cx="368.0" cy="214.0" r="3.5" fill="url(#glow)" opacity="1"/><circle cx="352.0" cy="210.0" r="2.7" fill="url(#glow)" opacity="0.5"/><circle cx="316.0" cy="213.0" r="2.7" fill="url(#glow)" opacity="0.5"/><circle cx="327.0" cy="206.0" r="2.4" fill="url(#glow)" opacity="0.4"/><circle cx="376.0" cy="209.0" r="2.7" fill="url(#glow)" opacity="0.6"/></g>
<line x1="343.60" y1="270.20" x2="380.40" y2="270.20" stroke="#000" stroke-width="2" />
<text transform="matrix(0.23081,0,0,0.23491,396.64,224.52)" font-size="100.0" font-weight="bold" style='font-family:"Liberation Sans", sans-serif' fill="#000">Single</text>
<text transform="matrix(0.23139,0,0,0.22315,396.27,245.27)" font-size="100.0" font-weight="bold" style='font-family:"Liberation Sans", sans-serif' fill="#000">platelet</text>
<text transform="matrix(0.19093,0,0,0.18220,386.85,270.42)" font-size="100.0" font-weight="bold" style='font-family:"Liberation Sans", sans-serif' fill="#000"> 0</text><path transform="matrix(0.009323,0,0,-0.008897,386.846,270.422)" fill="#000" d="M495 0L793 0L793 1409L566 1409C540 1300 430 1205 156 1185L156 986L495 986Z"/>
<text transform="matrix(0.19804,0,0,0.19767,414.89,270.17)" font-size="100.0" font-weight="normal" style='font-family:"Liberation Serif", serif' fill="#000">μ</text>
<text transform="matrix(0.21938,0,0,0.18568,425.35,270.30)" font-size="100.0" font-weight="bold" style='font-family:"Liberation Sans", sans-serif' fill="#000">m</text>
<rect x="312.40" y="406.00" width="53.60" height="46.40" fill="#fff" stroke="#222" stroke-width="1.1"/>
<rect x="314.60" y="408.40" width="49.20" height="41.80" fill="#080808" />
<rect x="464.20" y="407.00" width="53.60" height="45.60" fill="#fff" stroke="#222" stroke-width="1.1"/>
<rect x="466.40" y="409.20" width="49.40" height="41.40" fill="#0a0a0a" />
<rect x="280.30" y="509.00" width="14.90" height="12.80" fill="#fff" />
<rect x="432.40" y="509.20" width="15.60" height="13.20" fill="#fff" />
<line x1="157.00" y1="264.40" x2="241.33" y2="250.10" stroke="#a0a0a0" stroke-width="1.5" />
<polygon points="250.2,248.6 240.0,254.4 241.8,250.0 238.7,246.5" fill="#a0a0a0" />
<line x1="407.00" y1="228.80" x2="383.76" y2="218.12" stroke="#a0a0a0" stroke-width="1.5" />
<polygon points="377.4,215.2 387.2,215.5 383.3,217.9 384.0,222.4" fill="#a0a0a0" />
<line x1="294.00" y1="513.50" x2="350.19" y2="456.41" stroke="#a0a0a0" stroke-width="1.5" />
<polygon points="356.5,450.0 351.6,460.6 350.5,456.1 345.9,455.0" fill="#a0a0a0" />
<line x1="446.50" y1="514.50" x2="504.11" y2="457.34" stroke="#a0a0a0" stroke-width="1.5" />
<polygon points="510.5,451.0 505.5,461.6 504.5,457.0 499.9,455.9" fill="#a0a0a0" />
<g clip-path="url(#ins2)"><circle cx="345.2" cy="439.4" r="1.4" fill="url(#glow)" opacity="0.43"/><circle cx="350.9" cy="446.8" r="0.8" fill="url(#glow)" opacity="0.29"/><circle cx="360.8" cy="435.6" r="1.5" fill="url(#glow)" opacity="0.18"/><circle cx="337.7" cy="419.1" r="1.2" fill="url(#glow)" opacity="0.32"/><circle cx="315.6" cy="417.9" r="1.0" fill="url(#glow)" opacity="0.42"/><circle cx="352.1" cy="415.5" r="1.4" fill="url(#glow)" opacity="0.19"/><circle cx="344.9" cy="414.2" r="0.8" fill="url(#glow)" opacity="0.41"/><circle cx="325.2" cy="417.8" r="1.6" fill="url(#glow)" opacity="0.41"/><circle cx="329.0" cy="448.4" r="1.2" fill="url(#glow)" opacity="0.35"/><circle cx="324.9" cy="447.6" r="1.4" fill="url(#glow)" opacity="0.44"/><circle cx="358.3" cy="421.3" r="1.1" fill="url(#glow)" opacity="0.20"/><circle cx="322.1" cy="411.7" r="1.0" fill="url(#glow)" opacity="0.33"/><circle cx="315.2" cy="436.8" r="1.1" fill="url(#glow)" opacity="0.24"/><circle cx="354.7" cy="428.7" r="1.1" fill="url(#glow)" opacity="0.29"/><circle cx="349.2" cy="411.3" r="1.6" fill="url(#glow)" opacity="0.16"/><circle cx="351.4" cy="443.6" r="0.8" fill="url(#glow)" opacity="0.39"/><circle cx="332.8" cy="432.7" r="0.8" fill="url(#glow)" opacity="0.16"/><circle cx="323.8" cy="448.2" r="1.0" fill="url(#glow)" opacity="0.38"/><circle cx="360.1" cy="447.6" r="1.1" fill="url(#glow)" opacity="0.26"/><circle cx="340.4" cy="440.8" r="0.9" fill="url(#glow)" opacity="0.37"/><circle cx="353.7" cy="444.2" r="0.8" fill="url(#glow)" opacity="0.43"/><circle cx="319.4" cy="423.0" r="1.3" fill="url(#glow)" opacity="0.43"/><circle cx="331.5" cy="446.9" r="1.2" fill="url(#glow)" opacity="0.24"/><circle cx="330.4" cy="416.3" r="0.9" fill="url(#glow)" opacity="0.19"/><circle cx="348.4" cy="449.9" r="0.9" fill="url(#glow)" opacity="0.16"/><circle cx="362.9" cy="430.9" r="1.1" fill="url(#glow)" opacity="0.22"/><circle cx="343.8" cy="442.9" r="1.2" fill="url(#glow)" opacity="0.28"/><circle cx="317.7" cy="446.6" r="0.8" fill="url(#glow)" opacity="0.30"/><circle cx="355.7" cy="414.4" r="1.4" fill="url(#glow)" opacity="0.43"/><circle cx="345.6" cy="441.3" r="0.9" fill="url(#glow)" opacity="0.28"/><circle cx="322.2" cy="443.6" r="1.0" fill="url(#glow)" opacity="0.29"/><circle cx="363.5" cy="443.9" r="1.6" fill="url(#glow)" opacity="0.29"/><circle cx="338.7" cy="438.9" r="1.2" fill="url(#glow)" opacity="0.24"/><circle cx="334.6" cy="415.0" r="1.1" fill="url(#glow)" opacity="0.45"/><circle cx="361.6" cy="434.7" r="1.2" fill="url(#glow)" opacity="0.25"/><circle cx="319.3" cy="420.2" r="1.4" fill="url(#glow)" opacity="0.41"/><circle cx="332.5" cy="441.2" r="1.4" fill="url(#glow)" opacity="0.36"/><circle cx="347.2" cy="440.1" r="1.1" fill="url(#glow)" opacity="0.36"/><circle cx="328.6" cy="428.9" r="1.4" fill="url(#glow)" opacity="0.36"/><circle cx="329.3" cy="447.8" r="1.3" fill="url(#glow)" opacity="0.32"/><circle cx="315.6" cy="431.4" r="1.0" fill="url(#glow)" opacity="0.35"/><circle cx="337.5" cy="442.5" r="1.3" fill="url(#glow)" opacity="0.39"/><circle cx="331.9" cy="435.4" r="1.4" fill="url(#glow)" opacity="0.40"/><circle cx="332.0" cy="443.6" r="1.5" fill="url(#glow)" opacity="0.36"/><circle cx="362.3" cy="448.2" r="1.2" fill="url(#glow)" opacity="0.31"/><circle cx="323.1" cy="443.3" r="1.5" fill="url(#glow)" opacity="0.29"/><circle cx="348.5" cy="438.5" r="1.4" fill="url(#glow)" opacity="0.20"/><circle cx="352.8" cy="432.8" r="1.3" fill="url(#glow)" opacity="0.28"/><circle cx="345.3" cy="440.8" r="1.3" fill="url(#glow)" opacity="0.37"/><circle cx="316.3" cy="415.6" r="1.2" fill="url(#glow)" opacity="0.35"/><circle cx="325.6" cy="437.1" r="1.3" fill="url(#glow)" opacity="0.16"/><circle cx="337.9" cy="418.3" r="0.8" fill="url(#glow)" opacity="0.19"/><circle cx="330.4" cy="416.4" r="1.0" fill="url(#glow)" opacity="0.16"/><circle cx="337.6" cy="424.6" r="1.3" fill="url(#glow)" opacity="0.33"/><circle cx="326.5" cy="446.0" r="0.8" fill="url(#glow)" opacity="0.27"/><circle cx="328.5" cy="425.8" r="0.9" fill="url(#glow)" opacity="0.40"/><circle cx="333.1" cy="410.5" r="1.3" fill="url(#glow)" opacity="0.18"/><circle cx="341.4" cy="422.9" r="1.3" fill="url(#glow)" opacity="0.44"/><circle cx="354.7" cy="426.2" r="1.5" fill="url(#glow)" opacity="0.34"/><circle cx="332.9" cy="414.8" r="1.3" fill="url(#glow)" opacity="0.32"/><circle cx="318.0" cy="412.0" r="1.5" fill="url(#glow)" opacity="0.8"/><circle cx="330.0" cy="412.0" r="1.5" fill="url(#glow)" opacity="0.7"/><circle cx="347.0" cy="412.0" r="1.5" fill="url(#glow)" opacity="0.7"/><circle cx="357.0" cy="420.0" r="1.5" fill="url(#glow)" opacity="0.9"/><circle cx="359.0" cy="421.0" r="1.5" fill="url(#glow)" opacity="0.9"/><circle cx="326.0" cy="436.0" r="1.5" fill="url(#glow)" opacity="0.8"/><circle cx="321.0" cy="444.0" r="1.5" fill="url(#glow)" opacity="0.8"/><circle cx="335.0" cy="444.0" r="1.5" fill="url(#glow)" opacity="0.7"/><circle cx="355.0" cy="441.0" r="1.5" fill="url(#glow)" opacity="0.9"/><circle cx="358.0" cy="442.0" r="1.5" fill="url(#glow)" opacity="0.9"/><circle cx="345.0" cy="425.0" r="1.5" fill="url(#glow)" opacity="0.6"/><circle cx="352.0" cy="436.0" r="1.5" fill="url(#glow)" opacity="0.6"/><circle cx="343.0" cy="443.0" r="1.5" fill="url(#glow)" opacity="0.5"/><ellipse cx="513.4" cy="449.2" rx="1.7" ry="1.0" fill="url(#glow)" opacity="0.88"/><ellipse cx="467.0" cy="413.9" rx="1.7" ry="1.1" fill="url(#glow)" opacity="0.35"/><ellipse cx="497.5" cy="446.0" rx="1.5" ry="1.0" fill="url(#glow)" opacity="0.41"/><ellipse cx="481.1" cy="449.4" rx="1.5" ry="1.3" fill="url(#glow)" opacity="0.89"/><ellipse cx="495.9" cy="420.2" rx="2.2" ry="1.0" fill="url(#glow)" opacity="0.54"/><ellipse cx="482.5" cy="449.9" rx="1.6" ry="0.9" fill="url(#glow)" opacity="0.58"/><ellipse cx="472.9" cy="435.0" rx="1.5" ry="0.9" fill="url(#glow)" opacity="0.80"/><ellipse cx="507.1" cy="410.0" rx="1.6" ry="0.9" fill="url(#glow)" opacity="0.90"/><ellipse cx="504.9" cy="419.6" rx="1.3" ry="0.9" fill="url(#glow)" opacity="0.94"/><ellipse cx="481.2" cy="434.4" rx="1.6" ry="1.1" fill="url(#glow)" opacity="0.67"/><ellipse cx="503.1" cy="414.3" rx="1.9" ry="1.0" fill="url(#glow)" opacity="0.62"/><ellipse cx="483.3" cy="421.7" rx="1.6" ry="1.0" fill="url(#glow)" opacity="0.50"/><ellipse cx="503.1" cy="433.7" rx="1.0" ry="0.9" fill="url(#glow)" opacity="0.57"/><ellipse cx="511.5" cy="445.9" rx="1.7" ry="0.8" fill="url(#glow)" opacity="0.79"/><ellipse cx="487.7" cy="433.1" rx="1.8" ry="1.1" fill="url(#glow)" opacity="0.59"/><ellipse cx="511.2" cy="425.3" rx="1.5" ry="1.2" fill="url(#glow)" opacity="0.39"/><ellipse cx="481.4" cy="443.5" rx="1.1" ry="1.2" fill="url(#glow)" opacity="0.74"/><ellipse cx="488.0" cy="421.2" rx="1.9" ry="1.3" fill="url(#glow)" opacity="0.35"/><ellipse cx="490.2" cy="432.0" rx="1.6" ry="1.0" fill="url(#glow)" opacity="0.36"/><ellipse cx="495.4" cy="442.8" rx="1.1" ry="0.9" fill="url(#glow)" opacity="0.82"/><ellipse cx="505.4" cy="436.7" rx="1.0" ry="1.2" fill="url(#glow)" opacity="0.94"/><ellipse cx="515.4" cy="438.3" rx="1.1" ry="1.2" fill="url(#glow)" opacity="0.40"/><ellipse cx="498.3" cy="448.5" rx="1.9" ry="0.9" fill="url(#glow)" opacity="0.45"/><ellipse cx="511.5" cy="415.6" rx="1.7" ry="1.0" fill="url(#glow)" opacity="0.36"/><ellipse cx="497.2" cy="411.3" rx="1.1" ry="1.0" fill="url(#glow)" opacity="0.30"/><ellipse cx="469.8" cy="433.1" rx="1.9" ry="1.2" fill="url(#glow)" opacity="0.34"/><ellipse cx="487.9" cy="422.4" rx="1.7" ry="1.0" fill="url(#glow)" opacity="0.91"/><ellipse cx="485.1" cy="411.8" rx="1.8" ry="0.9" fill="url(#glow)" opacity="0.69"/><ellipse cx="491.5" cy="446.8" rx="1.7" ry="1.1" fill="url(#glow)" opacity="0.43"/><ellipse cx="493.8" cy="419.9" rx="1.9" ry="1.1" fill="url(#glow)" opacity="0.34"/><ellipse cx="478.4" cy="424.7" rx="1.9" ry="0.9" fill="url(#glow)" opacity="0.75"/><ellipse cx="498.8" cy="413.0" rx="1.8" ry="0.8" fill="url(#glow)" opacity="0.34"/><ellipse cx="495.8" cy="419.3" rx="2.1" ry="1.0" fill="url(#glow)" opacity="0.48"/><ellipse cx="505.6" cy="410.7" rx="1.9" ry="0.8" fill="url(#glow)" opacity="0.36"/><ellipse cx="513.2" cy="437.4" rx="1.3" ry="0.9" fill="url(#glow)" opacity="0.93"/><ellipse cx="499.3" cy="443.1" rx="1.2" ry="1.1" fill="url(#glow)" opacity="0.50"/><ellipse cx="478.4" cy="423.2" rx="1.7" ry="1.0" fill="url(#glow)" opacity="0.52"/><ellipse cx="473.6" cy="443.6" rx="1.8" ry="1.2" fill="url(#glow)" opacity="0.55"/><ellipse cx="508.3" cy="430.7" rx="1.7" ry="1.1" fill="url(#glow)" opacity="0.77"/><ellipse cx="486.2" cy="413.5" rx="1.0" ry="0.9" fill="url(#glow)" opacity="0.28"/><ellipse cx="510.1" cy="429.2" rx="1.9" ry="0.8" fill="url(#glow)" opacity="0.58"/><ellipse cx="510.2" cy="434.9" rx="1.5" ry="1.0" fill="url(#glow)" opacity="0.32"/><ellipse cx="474.5" cy="416.0" rx="1.4" ry="1.0" fill="url(#glow)" opacity="0.87"/><ellipse cx="474.4" cy="419.9" rx="1.3" ry="0.9" fill="url(#glow)" opacity="0.45"/><ellipse cx="478.4" cy="429.3" rx="1.0" ry="1.3" fill="url(#glow)" opacity="0.51"/><ellipse cx="512.5" cy="437.7" rx="1.8" ry="1.0" fill="url(#glow)" opacity="0.91"/><ellipse cx="472.7" cy="436.9" rx="1.3" ry="1.1" fill="url(#glow)" opacity="0.76"/><ellipse cx="474.9" cy="417.7" rx="1.0" ry="0.9" fill="url(#glow)" opacity="0.30"/><ellipse cx="486.5" cy="449.4" rx="1.4" ry="1.0" fill="url(#glow)" opacity="0.58"/><ellipse cx="480.7" cy="439.5" rx="1.9" ry="0.9" fill="url(#glow)" opacity="0.42"/><ellipse cx="499.6" cy="448.1" rx="1.8" ry="1.0" fill="url(#glow)" opacity="0.93"/><ellipse cx="467.3" cy="412.0" rx="1.9" ry="1.0" fill="url(#glow)" opacity="0.28"/><ellipse cx="493.6" cy="450.1" rx="1.6" ry="1.0" fill="url(#glow)" opacity="0.32"/><ellipse cx="470.5" cy="446.4" rx="1.6" ry="1.3" fill="url(#glow)" opacity="0.29"/><ellipse cx="478.8" cy="411.6" rx="1.5" ry="0.8" fill="url(#glow)" opacity="0.43"/><ellipse cx="486.8" cy="422.0" rx="1.1" ry="0.8" fill="url(#glow)" opacity="0.93"/><ellipse cx="475.7" cy="430.4" rx="1.5" ry="1.1" fill="url(#glow)" opacity="0.31"/><ellipse cx="482.2" cy="413.9" rx="1.7" ry="1.3" fill="url(#glow)" opacity="0.67"/><ellipse cx="508.6" cy="418.3" rx="1.0" ry="1.1" fill="url(#glow)" opacity="0.59"/><ellipse cx="494.7" cy="424.9" rx="1.8" ry="1.2" fill="url(#glow)" opacity="0.89"/><ellipse cx="481.9" cy="427.9" rx="2.0" ry="0.9" fill="url(#glow)" opacity="0.33"/><ellipse cx="482.1" cy="413.1" rx="1.9" ry="1.2" fill="url(#glow)" opacity="0.47"/><ellipse cx="473.3" cy="412.9" rx="1.3" ry="0.8" fill="url(#glow)" opacity="0.55"/><ellipse cx="495.0" cy="419.6" rx="1.1" ry="1.2" fill="url(#glow)" opacity="0.28"/><ellipse cx="476.7" cy="421.2" rx="1.4" ry="0.8" fill="url(#glow)" opacity="0.54"/><ellipse cx="482.2" cy="440.3" rx="1.7" ry="1.2" fill="url(#glow)" opacity="0.71"/><ellipse cx="503.8" cy="433.1" rx="1.5" ry="1.2" fill="url(#glow)" opacity="0.71"/><ellipse cx="513.3" cy="439.3" rx="1.8" ry="0.9" fill="url(#glow)" opacity="0.82"/><ellipse cx="485.5" cy="414.8" rx="1.1" ry="0.9" fill="url(#glow)" opacity="0.43"/><ellipse cx="499.8" cy="421.2" rx="1.1" ry="1.2" fill="url(#glow)" opacity="0.64"/><ellipse cx="468.3" cy="411.6" rx="1.2" ry="1.0" fill="url(#glow)" opacity="0.85"/><ellipse cx="513.0" cy="434.6" rx="1.3" ry="1.0" fill="url(#glow)" opacity="0.50"/><ellipse cx="483.0" cy="410.0" rx="1.7" ry="1.2" fill="url(#glow)" opacity="0.76"/><ellipse cx="471.6" cy="431.2" rx="1.2" ry="1.2" fill="url(#glow)" opacity="0.56"/><ellipse cx="512.5" cy="442.1" rx="1.1" ry="1.0" fill="url(#glow)" opacity="0.89"/><ellipse cx="489.4" cy="427.3" rx="1.5" ry="1.2" fill="url(#glow)" opacity="0.91"/><ellipse cx="492.8" cy="449.3" rx="1.7" ry="0.9" fill="url(#glow)" opacity="0.82"/><ellipse cx="487.3" cy="411.6" rx="2.2" ry="0.8" fill="url(#glow)" opacity="0.65"/><ellipse cx="490.4" cy="445.7" rx="1.5" ry="0.9" fill="url(#glow)" opacity="0.44"/><ellipse cx="476.8" cy="432.6" rx="1.4" ry="1.2" fill="url(#glow)" opacity="0.42"/><ellipse cx="484.1" cy="419.7" rx="2.2" ry="1.2" fill="url(#glow)" opacity="0.84"/><ellipse cx="497.0" cy="425.9" rx="1.2" ry="1.2" fill="url(#glow)" opacity="0.59"/><ellipse cx="468.8" cy="416.5" rx="1.1" ry="1.2" fill="url(#glow)" opacity="0.88"/><ellipse cx="476.7" cy="442.2" rx="1.4" ry="1.1" fill="url(#glow)" opacity="0.85"/><ellipse cx="497.2" cy="442.3" rx="1.5" ry="0.8" fill="url(#glow)" opacity="0.61"/><ellipse cx="495.5" cy="417.1" rx="1.5" ry="1.0" fill="url(#glow)" opacity="0.27"/><ellipse cx="482.1" cy="425.2" rx="1.6" ry="1.2" fill="url(#glow)" opacity="0.53"/><ellipse cx="514.6" cy="442.9" rx="2.1" ry="1.1" fill="url(#glow)" opacity="0.72"/><ellipse cx="493.0" cy="442.2" rx="1.4" ry="1.1" fill="url(#glow)" opacity="0.73"/><ellipse cx="492.3" cy="421.2" rx="1.1" ry="0.8" fill="url(#glow)" opacity="0.50"/><ellipse cx="495.1" cy="440.6" rx="1.9" ry="1.0" fill="url(#glow)" opacity="0.90"/><ellipse cx="480.3" cy="438.9" rx="1.1" ry="1.2" fill="url(#glow)" opacity="0.72"/><ellipse cx="513.4" cy="446.3" rx="1.8" ry="1.2" fill="url(#glow)" opacity="0.77"/><ellipse cx="496.6" cy="418.1" rx="1.6" ry="1.2" fill="url(#glow)" opacity="0.42"/><ellipse cx="514.3" cy="431.8" rx="1.5" ry="0.8" fill="url(#glow)" opacity="0.52"/><ellipse cx="475.6" cy="436.3" rx="2.1" ry="1.3" fill="url(#glow)" opacity="0.68"/><ellipse cx="485.8" cy="414.0" rx="1.8" ry="1.1" fill="url(#glow)" opacity="0.75"/><ellipse cx="485.1" cy="445.9" rx="1.3" ry="1.0" fill="url(#glow)" opacity="0.44"/><ellipse cx="497.2" cy="446.3" rx="1.2" ry="1.1" fill="url(#glow)" opacity="0.79"/><ellipse cx="477.9" cy="412.1" rx="1.7" ry="1.2" fill="url(#glow)" opacity="0.87"/><ellipse cx="502.3" cy="426.6" rx="1.5" ry="1.1" fill="url(#glow)" opacity="0.88"/><ellipse cx="481.7" cy="421.0" rx="1.7" ry="1.3" fill="url(#glow)" opacity="0.38"/><ellipse cx="468.5" cy="414.2" rx="1.7" ry="1.1" fill="url(#glow)" opacity="0.38"/><ellipse cx="476.2" cy="433.9" rx="1.8" ry="1.1" fill="url(#glow)" opacity="0.76"/><ellipse cx="470.0" cy="429.4" rx="2.0" ry="1.3" fill="url(#glow)" opacity="0.47"/><ellipse cx="508.2" cy="436.0" rx="2.1" ry="0.9" fill="url(#glow)" opacity="0.74"/><ellipse cx="507.8" cy="429.0" rx="1.1" ry="0.9" fill="url(#glow)" opacity="0.36"/><ellipse cx="471.5" cy="415.7" rx="1.7" ry="0.9" fill="url(#glow)" opacity="0.78"/><ellipse cx="502.7" cy="443.0" rx="2.0" ry="1.2" fill="url(#glow)" opacity="0.90"/><ellipse cx="513.4" cy="435.1" rx="2.2" ry="0.9" fill="url(#glow)" opacity="0.32"/><ellipse cx="470.1" cy="418.0" rx="1.4" ry="1.0" fill="url(#glow)" opacity="0.73"/><ellipse cx="503.0" cy="412.9" rx="1.5" ry="1.1" fill="url(#glow)" opacity="0.51"/><ellipse cx="472.7" cy="434.0" rx="1.4" ry="1.1" fill="url(#glow)" opacity="0.60"/><ellipse cx="513.7" cy="448.2" rx="1.1" ry="1.2" fill="url(#glow)" opacity="0.75"/><ellipse cx="481.4" cy="414.3" rx="1.6" ry="1.0" fill="url(#glow)" opacity="0.77"/><ellipse cx="511.5" cy="425.2" rx="1.3" ry="1.0" fill="url(#glow)" opacity="0.74"/><ellipse cx="505.3" cy="433.1" rx="1.4" ry="1.0" fill="url(#glow)" opacity="0.84"/><ellipse cx="492.2" cy="411.6" rx="1.5" ry="0.9" fill="url(#glow)" opacity="0.72"/><ellipse cx="470.6" cy="420.6" rx="1.1" ry="1.0" fill="url(#glow)" opacity="0.94"/><ellipse cx="493.3" cy="425.3" rx="2.1" ry="0.8" fill="url(#glow)" opacity="0.50"/><ellipse cx="506.3" cy="409.7" rx="1.9" ry="1.0" fill="url(#glow)" opacity="0.26"/><ellipse cx="479.2" cy="428.3" rx="1.5" ry="1.1" fill="url(#glow)" opacity="0.29"/><ellipse cx="477.6" cy="449.4" rx="1.5" ry="1.0" fill="url(#glow)" opacity="0.31"/><ellipse cx="480.5" cy="448.6" rx="1.8" ry="1.1" fill="url(#glow)" opacity="0.29"/><ellipse cx="486.0" cy="441.4" rx="1.5" ry="1.1" fill="url(#glow)" opacity="0.88"/><ellipse cx="498.3" cy="435.6" rx="1.0" ry="0.8" fill="url(#glow)" opacity="0.79"/><ellipse cx="487.0" cy="445.3" rx="2.0" ry="1.3" fill="url(#glow)" opacity="0.51"/><ellipse cx="515.5" cy="440.5" rx="2.1" ry="0.9" fill="url(#glow)" opacity="0.80"/><ellipse cx="487.5" cy="449.4" rx="2.2" ry="0.9" fill="url(#glow)" opacity="0.54"/><ellipse cx="480.1" cy="428.8" rx="1.3" ry="1.1" fill="url(#glow)" opacity="0.34"/><ellipse cx="475.2" cy="428.3" rx="1.1" ry="1.0" fill="url(#glow)" opacity="0.88"/><ellipse cx="509.9" cy="417.6" rx="1.0" ry="1.2" fill="url(#glow)" opacity="0.92"/><ellipse cx="496.0" cy="415.1" rx="1.3" ry="1.3" fill="url(#glow)" opacity="0.91"/><ellipse cx="468.5" cy="417.1" rx="1.5" ry="0.9" fill="url(#glow)" opacity="0.78"/><ellipse cx="485.1" cy="441.3" rx="1.2" ry="1.1" fill="url(#glow)" opacity="0.93"/><ellipse cx="501.0" cy="413.2" rx="1.1" ry="1.1" fill="url(#glow)" opacity="0.51"/><ellipse cx="484.9" cy="429.1" rx="1.7" ry="1.3" fill="url(#glow)" opacity="0.42"/><ellipse cx="494.6" cy="420.3" rx="1.7" ry="1.2" fill="url(#glow)" opacity="0.34"/><ellipse cx="490.3" cy="438.4" rx="1.0" ry="1.2" fill="url(#glow)" opacity="0.54"/><ellipse cx="491.5" cy="434.5" rx="2.0" ry="0.8" fill="url(#glow)" opacity="0.60"/><ellipse cx="468.9" cy="425.3" rx="1.4" ry="0.8" fill="url(#glow)" opacity="0.46"/><ellipse cx="488.8" cy="436.3" rx="2.1" ry="1.0" fill="url(#glow)" opacity="0.62"/><ellipse cx="501.6" cy="447.9" rx="2.1" ry="1.3" fill="url(#glow)" opacity="0.46"/><ellipse cx="475.1" cy="447.7" rx="1.1" ry="1.0" fill="url(#glow)" opacity="0.77"/><ellipse cx="492.6" cy="425.4" rx="2.1" ry="0.9" fill="url(#glow)" opacity="0.64"/><ellipse cx="507.2" cy="415.2" rx="1.4" ry="1.0" fill="url(#glow)" opacity="0.65"/><ellipse cx="477.1" cy="428.1" rx="1.1" ry="0.8" fill="url(#glow)" opacity="0.49"/><ellipse cx="474.0" cy="449.2" rx="1.3" ry="0.9" fill="url(#glow)" opacity="0.80"/><ellipse cx="502.9" cy="420.2" rx="2.0" ry="1.1" fill="url(#glow)" opacity="0.52"/><ellipse cx="497.5" cy="419.6" rx="1.3" ry="1.2" fill="url(#glow)" opacity="0.56"/><ellipse cx="510.5" cy="416.8" rx="1.2" ry="0.8" fill="url(#glow)" opacity="0.77"/><ellipse cx="494.2" cy="409.9" rx="1.1" ry="1.2" fill="url(#glow)" opacity="0.60"/><ellipse cx="509.3" cy="411.1" rx="1.7" ry="0.9" fill="url(#glow)" opacity="0.75"/><ellipse cx="496.6" cy="434.6" rx="1.3" ry="1.3" fill="url(#glow)" opacity="0.33"/><ellipse cx="470.1" cy="437.5" rx="1.1" ry="0.8" fill="url(#glow)" opacity="0.57"/><ellipse cx="498.5" cy="446.1" rx="1.9" ry="0.8" fill="url(#glow)" opacity="0.70"/><ellipse cx="507.9" cy="414.4" rx="1.9" ry="0.9" fill="url(#glow)" opacity="0.46"/><ellipse cx="467.1" cy="440.6" rx="1.6" ry="1.3" fill="url(#glow)" opacity="0.58"/><ellipse cx="474.5" cy="418.4" rx="1.3" ry="1.3" fill="url(#glow)" opacity="0.39"/><ellipse cx="471.3" cy="424.0" rx="1.1" ry="1.0" fill="url(#glow)" opacity="0.69"/><ellipse cx="498.6" cy="416.7" rx="1.2" ry="1.0" fill="url(#glow)" opacity="0.73"/><ellipse cx="488.7" cy="433.0" rx="2.1" ry="0.9" fill="url(#glow)" opacity="0.44"/><ellipse cx="490.9" cy="431.5" rx="2.1" ry="1.1" fill="url(#glow)" opacity="0.71"/><ellipse cx="487.4" cy="441.7" rx="2.0" ry="0.9" fill="url(#glow)" opacity="0.33"/><ellipse cx="479.6" cy="424.2" rx="2.1" ry="0.9" fill="url(#glow)" opacity="0.69"/><ellipse cx="498.1" cy="448.7" rx="1.1" ry="1.2" fill="url(#glow)" opacity="0.49"/><ellipse cx="472.0" cy="435.4" rx="2.0" ry="1.1" fill="url(#glow)" opacity="0.28"/><ellipse cx="514.1" cy="425.2" rx="1.8" ry="1.2" fill="url(#glow)" opacity="0.43"/><ellipse cx="486.8" cy="423.0" rx="1.1" ry="0.8" fill="url(#glow)" opacity="0.75"/><ellipse cx="486.9" cy="445.2" rx="1.1" ry="1.0" fill="url(#glow)" opacity="0.38"/></g>
<text transform="matrix(0.31155,0,0,0.31251,3.62,602.70)" font-size="100.0" font-weight="bold" style='font-family:"Liberation Sans", sans-serif' fill="#000">B</text>
<rect x="69.65" y="597.15" width="17.45" height="22.35" fill="url(#hatch)" stroke="#000" stroke-width="1.8"/>
<rect x="192.90" y="596.90" width="17.80" height="23.50" fill="url(#hstripe)" stroke="#000" stroke-width="1.8"/>
<rect x="363.00" y="596.00" width="20.00" height="24.00" fill="#000" />
<text transform="matrix(0.26111,0,0,0.25191,93.77,617.85)" font-size="100.0" font-weight="normal" style='font-family:"Liberation Sans", sans-serif' fill="#000">Control</text>
<text transform="matrix(0.25958,0,0,0.23830,219.05,617.57)" font-size="100.0" font-weight="normal" style='font-family:"Liberation Sans", sans-serif' fill="#000">Anti-GP Ib</text>
<text transform="matrix(0.31076,0,0,0.24094,338.32,617.66)" font-size="100.0" font-weight="normal" style='font-family:"Liberation Serif", serif' fill="#000">α</text>
<text transform="matrix(0.25923,0,0,0.23620,389.65,617.62)" font-size="100.0" font-weight="normal" style='font-family:"Liberation Sans", sans-serif' fill="#000">Anti-</text>
<text transform="matrix(0.29781,0,0,0.20978,442.97,618.40)" font-size="100.0" font-weight="normal" style='font-family:"Liberation Serif", serif' fill="#000">α</text>
<text transform="matrix(0.15856,0,0,0.14706,459.04,621.16)" font-size="100.0" font-weight="normal" style='font-family:"Liberation Sans", sans-serif' fill="#000">IIb</text>
<text transform="matrix(0.17585,0,0,0.20920,478.08,618.96)" font-size="100.0" font-weight="normal" style='font-family:"Liberation Sans", sans-serif' fill="#000">β</text>
<text transform="matrix(0.15819,0,0,0.13418,491.50,621.17)" font-size="100.0" font-weight="normal" style='font-family:"Liberation Sans", sans-serif' fill="#000">3</text>
<line x1="78.00" y1="635.50" x2="78.00" y2="808.00" stroke="#000" stroke-width="1.8" />
<line x1="70.80" y1="636.00" x2="78.00" y2="636.00" stroke="#000" stroke-width="1.8" />
<line x1="70.80" y1="722.00" x2="78.00" y2="722.00" stroke="#000" stroke-width="1.8" />
<line x1="70.80" y1="808.00" x2="78.00" y2="808.00" stroke="#000" stroke-width="1.8" />
<line x1="70.80" y1="808.00" x2="226.00" y2="808.00" stroke="#000" stroke-width="2.4" />
<line x1="256.60" y1="636.10" x2="256.60" y2="807.40" stroke="#000" stroke-width="1.8" />
<line x1="250.80" y1="636.60" x2="256.60" y2="636.60" stroke="#000" stroke-width="1.8" />
<line x1="250.80" y1="693.00" x2="256.60" y2="693.00" stroke="#000" stroke-width="1.8" />
<line x1="250.80" y1="751.40" x2="256.60" y2="751.40" stroke="#000" stroke-width="1.8" />
<line x1="250.80" y1="807.40" x2="256.60" y2="807.40" stroke="#000" stroke-width="1.8" />
<line x1="250.80" y1="807.40" x2="403.00" y2="807.40" stroke="#000" stroke-width="2.4" />
<line x1="415.00" y1="636.50" x2="415.00" y2="808.00" stroke="#000" stroke-width="1.8" />
<line x1="407.00" y1="637.00" x2="415.00" y2="637.00" stroke="#000" stroke-width="1.8" />
<line x1="407.00" y1="693.70" x2="415.00" y2="693.70" stroke="#000" stroke-width="1.8" />
<line x1="407.00" y1="751.40" x2="415.00" y2="751.40" stroke="#000" stroke-width="1.8" />
<line x1="407.00" y1="808.00" x2="415.00" y2="808.00" stroke="#000" stroke-width="1.8" />
<line x1="407.00" y1="808.00" x2="514.30" y2="808.00" stroke="#000" stroke-width="2.4" />
<rect x="84.90" y="787.90" width="11.20" height="20.10" fill="url(#hatch)" stroke="#000" stroke-width="1.8"/>
<rect x="97.90" y="778.50" width="12.80" height="29.50" fill="url(#hstripe)" stroke="#000" stroke-width="1.8"/>
<rect x="111.60" y="790.00" width="14.00" height="18.00" fill="#000" />
<rect x="133.50" y="765.30" width="11.60" height="42.70" fill="url(#hatch)" stroke="#000" stroke-width="1.8"/>
<rect x="146.90" y="727.50" width="13.20" height="80.50" fill="url(#hstripe)" stroke="#000" stroke-width="1.8"/>
<rect x="161.00" y="781.00" width="13.00" height="27.00" fill="#000" />
<rect x="184.30" y="735.90" width="11.80" height="72.10" fill="url(#hatch)" stroke="#000" stroke-width="1.8"/>
<rect x="197.90" y="702.30" width="12.20" height="105.70" fill="url(#hstripe)" stroke="#000" stroke-width="1.8"/>
<rect x="211.00" y="781.00" width="14.00" height="27.00" fill="#000" />
<rect x="263.90" y="784.50" width="12.20" height="22.90" fill="url(#hatch)" stroke="#000" stroke-width="1.8"/>
<rect x="277.90" y="784.50" width="12.20" height="22.90" fill="url(#hstripe)" stroke="#000" stroke-width="1.8"/>
<rect x="291.00" y="800.40" width="14.60" height="7.00" fill="#000" />
<rect x="311.70" y="706.90" width="13.30" height="100.50" fill="url(#hatch)" stroke="#000" stroke-width="1.8"/>
<rect x="326.80" y="775.20" width="11.00" height="32.20" fill="url(#hstripe)" stroke="#000" stroke-width="1.8"/>
<rect x="338.70" y="800.20" width="14.10" height="7.20" fill="#000" />
<rect x="358.90" y="660.90" width="13.20" height="146.50" fill="url(#hatch)" stroke="#000" stroke-width="1.8"/>
<rect x="373.90" y="765.90" width="11.60" height="41.50" fill="url(#hstripe)" stroke="#000" stroke-width="1.8"/>
<rect x="386.40" y="800.20" width="15.10" height="7.20" fill="#000" />
<rect x="421.70" y="767.40" width="12.40" height="40.60" fill="url(#hatch)" stroke="#000" stroke-width="1.8"/>
<rect x="435.00" y="805.30" width="25.50" height="2.70" fill="#000" />
<rect x="471.90" y="725.20" width="13.00" height="82.80" fill="url(#hatch)" stroke="#000" stroke-width="1.8"/>
<rect x="485.80" y="805.50" width="27.20" height="2.50" fill="#000" />
<text transform="matrix(0.24943,0,0,0.24435,32.70,644.56)" font-size="100.0" font-weight="normal" style='font-family:"Liberation Sans", sans-serif' fill="#000"> .0</text><path transform="matrix(0.012179,0,0,-0.011931,32.700,644.561)" fill="#000" d="M549 0L741 0L741 1409L592 1409C566 1290 470 1190 156 1172L156 1041L549 1041Z"/>
<text transform="matrix(0.25514,0,0,0.23164,32.30,730.97)" font-size="100.0" font-weight="normal" style='font-family:"Liberation Sans", sans-serif' fill="#000">0.5</text>
<text transform="matrix(0.24894,0,0,0.23164,49.33,816.97)" font-size="100.0" font-weight="normal" style='font-family:"Liberation Sans", sans-serif' fill="#000">0</text>
<text transform="matrix(0.24044,0,0,0.21751,234.38,644.99)" font-size="100.0" font-weight="normal" style='font-family:"Liberation Sans", sans-serif' fill="#000">3</text>
<text transform="matrix(0.27219,0,0,0.22055,234.93,701.70)" font-size="100.0" font-weight="normal" style='font-family:"Liberation Sans", sans-serif' fill="#000">2</text>
<text transform="matrix(0.25906,0,0,0.22384,237.33,759.20)" font-size="100.0" font-weight="normal" style='font-family:"Liberation Sans", sans-serif' fill="#000"> </text><path transform="matrix(0.012650,0,0,-0.010930,237.327,759.200)" fill="#000" d="M549 0L741 0L741 1409L592 1409C566 1290 470 1190 156 1172L156 1041L549 1041Z"/>
<text transform="matrix(0.25940,0,0,0.20339,234.29,816.00)" font-size="100.0" font-weight="normal" style='font-family:"Liberation Sans", sans-serif' fill="#000">0</text>
<text transform="matrix(0.25367,0,0,0.25282,82.97,653.65)" font-size="100.0" font-weight="normal" style='font-family:"Liberation Sans", sans-serif' fill="#000"> 00</text><path transform="matrix(0.012386,0,0,-0.012345,82.968,653.653)" fill="#000" d="M549 0L741 0L741 1409L592 1409C566 1290 470 1190 156 1172L156 1041L549 1041Z"/>
<text transform="matrix(0.23393,0,0,0.23061,132.65,653.67)" font-size="100.0" font-weight="normal" style='font-family:"Liberation Sans", sans-serif' fill="#000">s</text>
<text transform="matrix(0.17989,0,0,0.14680,144.90,646.90)" font-size="100.0" font-weight="normal" style='font-family:"Liberation Sans", sans-serif' fill="#000">- </text><path transform="matrix(0.008784,0,0,-0.007168,150.891,646.900)" fill="#000" d="M549 0L741 0L741 1409L592 1409C566 1290 470 1190 156 1172L156 1041L549 1041Z"/>
<text transform="matrix(0.25199,0,0,0.25282,260.54,653.65)" font-size="100.0" font-weight="normal" style='font-family:"Liberation Sans", sans-serif' fill="#000">300</text>
<text transform="matrix(0.26833,0,0,0.23061,311.05,653.67)" font-size="100.0" font-weight="normal" style='font-family:"Liberation Sans", sans-serif' fill="#000">s</text>
<text transform="matrix(0.16759,0,0,0.12500,324.96,646.90)" font-size="100.0" font-weight="normal" style='font-family:"Liberation Sans", sans-serif' fill="#000">- </text><path transform="matrix(0.008183,0,0,-0.006104,330.536,646.900)" fill="#000" d="M549 0L741 0L741 1409L592 1409C566 1290 470 1190 156 1172L156 1041L549 1041Z"/>
<text transform="matrix(0.23893,0,0,0.24717,418.28,653.66)" font-size="100.0" font-weight="normal" style='font-family:"Liberation Sans", sans-serif' fill="#000"> 500</text><path transform="matrix(0.011667,0,0,-0.012069,418.280,653.659)" fill="#000" d="M549 0L741 0L741 1409L592 1409C566 1290 470 1190 156 1172L156 1041L549 1041Z"/>
<text transform="matrix(0.25227,0,0,0.23061,479.00,653.67)" font-size="100.0" font-weight="normal" style='font-family:"Liberation Sans", sans-serif' fill="#000">s</text>
<text transform="matrix(0.18297,0,0,0.14390,493.29,646.90)" font-size="100.0" font-weight="normal" style='font-family:"Liberation Sans", sans-serif' fill="#000">- </text><path transform="matrix(0.008934,0,0,-0.007026,499.380,646.900)" fill="#000" d="M549 0L741 0L741 1409L592 1409C566 1290 470 1190 156 1172L156 1041L549 1041Z"/>
<text transform="matrix(0.25624,0,0,0.25565,87.75,835.45)" font-size="100.0" font-weight="normal" style='font-family:"Liberation Sans", sans-serif' fill="#000"> 00</text><path transform="matrix(0.012512,0,0,-0.012483,87.748,835.450)" fill="#000" d="M549 0L741 0L741 1409L592 1409C566 1290 470 1190 156 1172L156 1041L549 1041Z"/>
<text transform="matrix(0.24775,0,0,0.25565,135.53,835.45)" font-size="100.0" font-weight="normal" style='font-family:"Liberation Sans", sans-serif' fill="#000">420</text>
<text transform="matrix(0.25096,0,0,0.25565,185.01,835.45)" font-size="100.0" font-weight="normal" style='font-family:"Liberation Sans", sans-serif' fill="#000">840</text>
<text transform="matrix(0.25624,0,0,0.25565,267.05,835.45)" font-size="100.0" font-weight="normal" style='font-family:"Liberation Sans", sans-serif' fill="#000"> 00</text><path transform="matrix(0.012512,0,0,-0.012483,267.048,835.450)" fill="#000" d="M549 0L741 0L741 1409L592 1409C566 1290 470 1190 156 1172L156 1041L549 1041Z"/>
<text transform="matrix(0.25335,0,0,0.25565,314.62,835.45)" font-size="100.0" font-weight="normal" style='font-family:"Liberation Sans", sans-serif' fill="#000">420</text>
<text transform="matrix(0.26041,0,0,0.25565,362.27,835.45)" font-size="100.0" font-weight="normal" style='font-family:"Liberation Sans", sans-serif' fill="#000">840</text>
<text transform="matrix(0.25045,0,0,0.25565,425.09,835.45)" font-size="100.0" font-weight="normal" style='font-family:"Liberation Sans", sans-serif' fill="#000"> 00</text><path transform="matrix(0.012229,0,0,-0.012483,425.092,835.450)" fill="#000" d="M549 0L741 0L741 1409L592 1409C566 1290 470 1190 156 1172L156 1041L549 1041Z"/>
<text transform="matrix(0.24775,0,0,0.25565,475.53,835.45)" font-size="100.0" font-weight="normal" style='font-family:"Liberation Sans", sans-serif' fill="#000">420</text>
<text transform="matrix(0.25750,0,0,0.25582,168.11,860.50)" font-size="100.0" font-weight="bold" style='font-family:"Liberation Sans", sans-serif' fill="#000">Time (seconds)</text>
<g transform="translate(0,868) rotate(-90)"><text transform="matrix(0.25821,0,0,0.26009,15.42,21.95)" font-size="100.0" font-weight="bold" style='font-family:"Liberation Sans", sans-serif' fill="#000">Volume</text><text transform="matrix(0.29419,0,0,0.24151,115.48,21.70)" font-size="100.0" font-weight="normal" style='font-family:"Liberation Sans", sans-serif' fill="#000">(</text><text transform="matrix(0.27049,0,0,0.26157,125.91,21.11)" font-size="100.0" font-weight="normal" style='font-family:"Liberation Serif", serif' fill="#000">μ</text><text transform="matrix(0.25616,0,0,0.24323,139.11,21.70)" font-size="100.0" font-weight="bold" style='font-family:"Liberation Sans", sans-serif' fill="#000">m</text><text transform="matrix(0.13680,0,0,0.14236,163.59,12.74)" font-size="100.0" font-weight="bold" style='font-family:"Liberation Sans", sans-serif' fill="#000">3</text><text transform="matrix(0.22325,0,0,0.24796,177.95,21.70)" font-size="100.0" font-weight="bold" style='font-family:"Liberation Sans", sans-serif' fill="#000">x</text><text transform="matrix(0.25927,0,0,0.25141,198.13,20.85)" font-size="100.0" font-weight="bold" style='font-family:"Liberation Sans", sans-serif' fill="#000"> 0</text><path transform="matrix(0.012659,0,0,-0.012276,198.125,20.854)" fill="#000" d="M495 0L793 0L793 1409L566 1409C540 1300 430 1205 156 1185L156 986L495 986Z"/><text transform="matrix(0.15074,0,0,0.16481,227.84,13.34)" font-size="100.0" font-weight="bold" style='font-family:"Liberation Sans", sans-serif' fill="#000">5</text><text transform="matrix(0.28664,0,0,0.24902,236.73,22.24)" font-size="100.0" font-weight="normal" style='font-family:"Liberation Sans", sans-serif' fill="#000">)</text></g>
</svg>
</body></html>
